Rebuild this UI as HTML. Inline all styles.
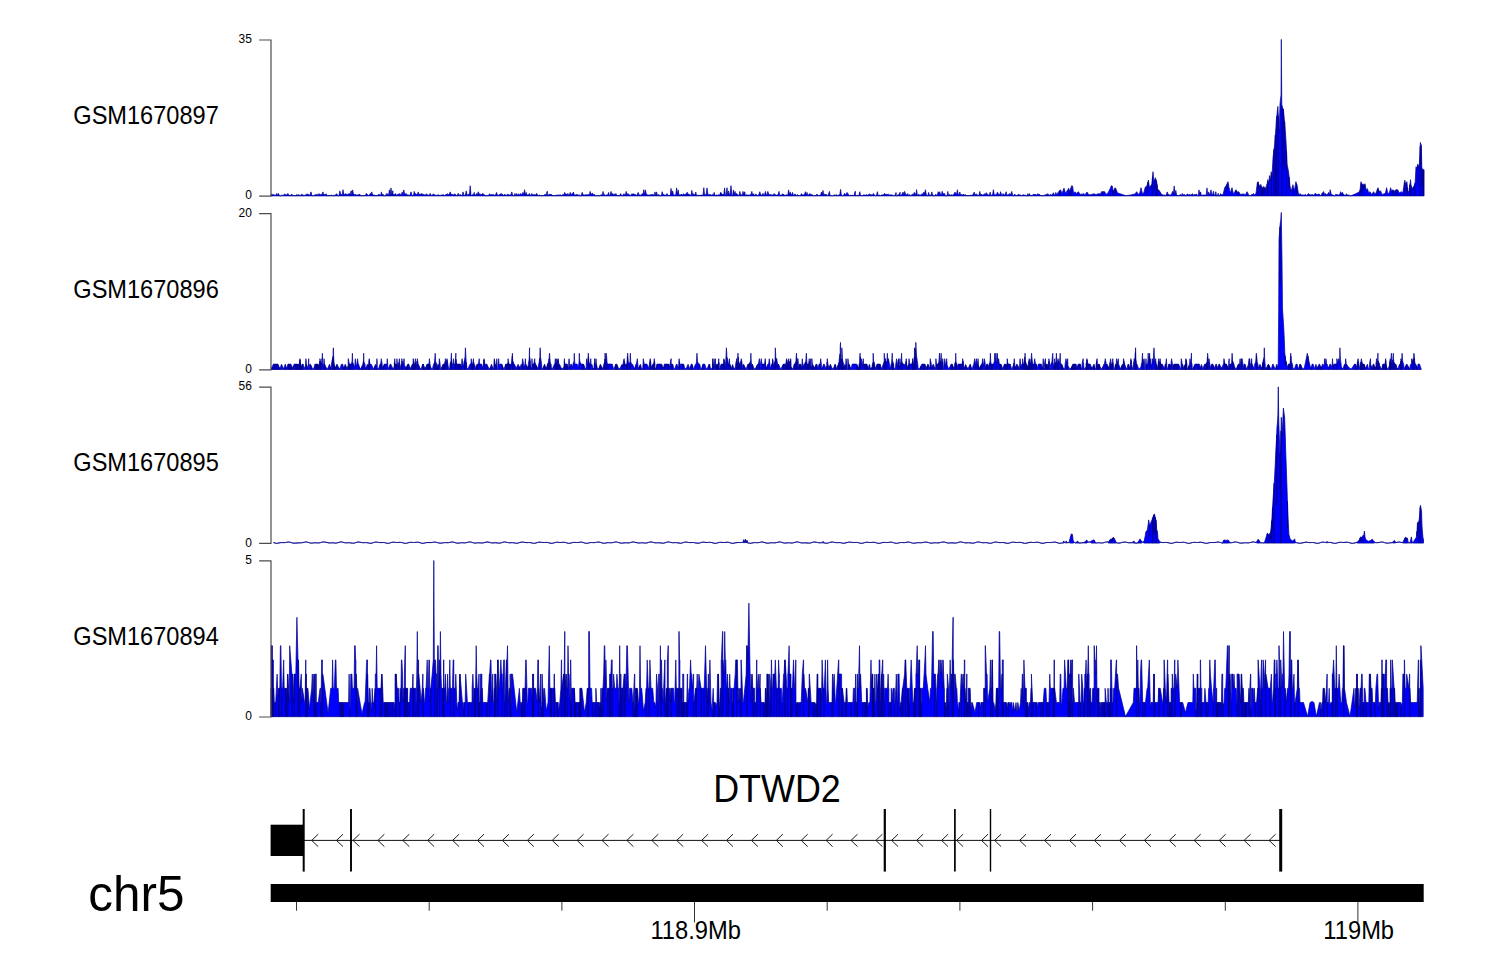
<!DOCTYPE html>
<html><head><meta charset="utf-8"><title>chr5 tracks</title>
<style>
html,body{margin:0;padding:0;background:#fff;}
body{width:1500px;height:980px;overflow:hidden;font-family:"Liberation Sans",sans-serif;}
svg{display:block;}
text{font-family:"Liberation Sans",sans-serif;fill:#000;}
</style></head><body>
<svg width="1500" height="980" viewBox="0 0 1500 980">
<rect width="1500" height="980" fill="#fff"/>
<path d="M271.0,195.9L271.0,194.8L271.8,193.9L272.6,194.8L273.4,194.8L274.2,194.6L275.0,195.9L275.8,195.2L276.6,193.6L277.4,195.9L278.2,193.3L279.0,194.7L279.8,195.9L280.6,195.9L281.4,195.2L282.2,195.1L283.0,195.9L283.8,194.9L284.6,193.8L285.4,194.9L286.2,194.9L287.0,194.4L287.8,193.5L288.6,195.0L289.4,195.0L290.2,195.9L291.8,194.0L292.6,195.6L295.8,195.6L296.6,194.6L297.4,195.2L298.2,194.4L299.0,195.2L299.8,195.2L300.6,195.9L301.4,194.2L302.2,194.9L303.0,194.6L303.8,195.9L304.6,195.2L305.4,195.1L306.2,194.4L307.0,194.1L307.8,194.2L308.6,194.5L309.4,195.2L310.2,194.2L311.0,191.9L311.8,195.0L312.6,195.9L313.4,195.9L314.2,195.1L315.0,195.0L315.8,194.4L316.6,194.8L317.4,194.2L318.2,195.9L319.0,193.5L319.8,195.1L320.6,194.5L321.4,194.4L322.2,193.7L323.0,191.9L323.8,195.9L324.6,194.1L325.4,195.1L326.2,193.7L327.0,195.6L330.2,195.6L331.0,195.3L331.8,194.9L332.6,195.9L333.4,195.9L334.2,194.8L335.0,195.9L335.8,194.5L336.6,193.7L338.2,195.9L339.0,195.9L339.8,190.9L340.6,193.6L341.4,194.4L342.2,194.9L343.0,189.7L343.8,194.3L344.6,194.6L345.4,193.6L346.2,194.6L347.0,194.0L347.8,194.5L348.6,193.9L349.4,193.5L350.2,194.7L351.0,190.9L351.4,190.9L351.4,195.9L351.4,195.2L351.8,195.2L352.6,189.9L353.4,193.6L354.2,194.6L355.0,194.9L355.8,194.3L356.6,195.3L357.4,194.9L358.2,194.7L359.0,194.7L359.8,194.1L360.6,195.9L361.4,195.6L365.4,195.6L366.2,193.4L367.0,194.0L367.8,195.0L368.6,195.9L369.4,194.5L370.2,193.6L371.0,194.1L371.8,191.9L372.6,195.1L373.4,194.9L374.2,194.9L375.0,195.6L377.4,195.6L378.2,194.4L379.0,194.8L379.8,194.6L380.6,195.9L381.4,191.9L382.2,195.3L383.0,194.1L383.8,195.9L384.6,195.9L385.4,194.9L386.2,194.7L387.0,193.3L387.8,195.1L388.6,195.1L389.4,189.9L389.8,189.9L389.8,195.9L389.8,194.7L390.2,194.7L391.0,187.9L391.8,195.0L392.6,190.9L393.0,190.9L393.0,195.9L393.0,194.6L394.2,194.6L395.0,194.3L395.8,193.6L396.6,195.9L397.4,194.7L398.2,194.0L399.0,194.5L399.8,193.4L400.6,194.7L401.4,194.7L402.2,191.9L403.0,195.1L403.8,189.9L404.6,193.8L405.4,194.0L406.2,193.5L407.0,195.2L407.8,194.8L408.6,194.9L409.4,195.9L410.2,194.3L411.0,191.9L411.8,194.6L412.6,195.9L413.4,195.9L414.2,191.4L415.0,193.6L415.8,193.9L416.6,194.3L417.4,194.8L418.2,191.9L419.0,194.8L419.8,193.8L420.6,195.0L421.4,193.4L422.2,194.5L423.0,193.8L423.8,195.1L424.6,194.8L425.4,195.3L426.2,193.8L427.0,194.6L427.8,194.9L428.6,195.2L429.4,194.9L430.2,193.4L431.0,194.9L431.8,195.9L432.6,194.6L433.4,193.9L434.2,195.1L435.0,194.5L435.8,195.9L436.6,195.3L437.4,195.1L438.2,195.0L439.0,194.7L439.8,195.9L440.6,195.2L441.4,195.1L442.2,194.8L443.0,195.0L443.8,194.8L444.6,195.9L445.4,194.7L446.2,194.8L447.0,193.7L448.6,194.6L449.4,194.1L450.2,191.9L451.0,194.4L451.8,194.3L452.6,194.6L453.4,195.2L454.2,193.9L455.0,194.3L455.8,194.7L456.6,195.9L457.4,194.7L458.2,193.3L459.0,195.9L459.8,194.6L460.6,194.7L461.4,195.2L462.2,195.9L463.0,191.9L463.8,194.8L464.6,195.2L465.4,195.1L466.2,190.9L467.0,194.3L467.8,195.9L468.6,193.9L469.4,195.0L470.2,185.7L471.0,194.8L471.8,195.9L472.6,194.5L473.4,194.9L474.2,192.4L475.0,195.2L475.8,195.3L476.6,193.5L477.4,194.5L478.2,191.9L478.6,191.9L478.6,195.9L478.6,194.8L479.0,194.8L479.8,193.5L480.6,194.5L481.4,194.6L482.2,194.0L483.0,193.4L483.8,194.6L484.6,194.9L485.4,195.6L488.6,195.6L489.4,193.7L490.2,194.7L491.0,194.8L491.8,194.4L492.6,194.7L493.4,194.4L494.2,195.9L495.0,194.6L495.8,194.9L496.6,192.4L497.4,195.0L498.2,195.9L499.0,194.5L499.8,194.8L500.6,193.8L501.4,193.7L502.2,194.3L503.0,194.6L503.8,195.9L504.6,194.2L505.4,195.1L506.2,194.7L507.0,195.9L507.8,193.9L508.6,194.8L509.4,195.0L510.2,194.8L511.0,194.7L511.8,191.9L512.6,195.3L513.4,195.9L514.2,194.9L515.0,193.6L515.8,195.9L516.6,193.4L517.4,195.9L518.2,193.9L519.0,194.4L519.8,194.8L520.6,193.6L521.4,194.4L522.2,193.7L523.0,192.4L523.8,194.9L524.6,189.7L525.4,195.2L526.2,192.4L527.0,195.1L527.8,194.9L528.6,194.8L529.4,193.4L530.2,195.1L531.0,195.9L531.8,193.5L532.6,195.0L533.4,194.7L534.2,194.8L535.0,194.6L535.8,195.1L536.6,193.4L537.4,194.4L538.2,195.9L539.0,194.9L539.8,195.2L540.6,195.6L543.8,195.6L544.6,194.6L545.4,194.3L546.2,195.9L547.0,191.4L547.4,191.4L547.4,195.9L547.4,195.1L548.6,195.1L549.4,194.0L551.0,194.8L551.8,194.5L552.6,195.6L555.8,195.6L556.6,195.0L557.4,195.2L558.2,194.7L559.0,195.9L559.8,194.6L560.6,195.0L561.4,195.9L562.2,194.6L563.0,195.2L563.8,194.8L564.6,192.4L565.4,193.9L566.2,194.1L567.0,194.9L567.8,193.4L568.6,195.0L569.4,195.0L570.2,192.4L571.0,194.8L571.8,193.8L572.6,193.8L573.4,192.1L574.2,194.5L575.0,195.3L575.8,194.8L576.6,194.4L577.4,194.6L578.2,195.9L579.0,194.6L579.8,195.9L580.6,195.9L581.4,194.5L582.2,192.4L583.0,195.2L583.8,194.7L584.6,195.1L585.4,194.8L586.2,194.9L587.0,194.4L587.8,194.9L589.4,194.5L590.2,191.4L591.0,194.5L591.8,193.5L592.6,193.3L593.4,194.8L594.2,194.6L595.0,194.9L595.8,195.9L596.6,195.6L599.0,195.6L599.8,195.9L600.6,195.2L601.4,194.6L602.2,195.9L603.0,191.4L603.8,194.8L604.6,194.4L605.4,195.9L606.2,195.1L607.0,194.7L607.8,195.1L608.6,192.4L609.4,195.9L610.2,195.0L611.0,191.4L611.8,195.1L612.6,193.4L613.4,194.8L614.2,193.9L615.0,195.3L615.8,193.5L616.6,194.8L617.4,195.6L619.8,195.6L620.6,193.6L621.4,195.2L622.2,195.9L623.0,195.1L623.8,193.8L624.6,194.4L625.4,194.8L626.2,191.4L627.0,195.3L627.8,193.5L628.6,194.3L629.4,194.7L630.2,195.9L631.0,194.9L631.8,193.8L632.6,194.1L633.4,193.9L634.2,194.3L635.0,194.2L635.8,194.8L636.6,195.9L637.4,194.1L638.2,192.4L639.0,194.9L639.8,195.0L640.6,195.2L641.4,194.9L642.2,193.5L643.0,195.3L643.8,189.7L644.6,194.8L645.4,189.9L646.2,193.5L647.0,194.7L647.8,195.0L648.6,195.0L649.4,194.9L650.2,195.1L651.0,194.6L651.8,194.4L652.6,194.6L653.4,194.6L654.2,195.9L655.0,191.9L655.8,195.9L656.6,191.9L657.4,195.9L658.2,194.5L659.0,195.2L659.8,195.2L660.6,195.9L661.4,195.2L662.2,191.7L663.0,194.7L663.8,194.6L664.6,195.0L665.4,195.3L666.2,194.7L667.0,193.5L667.8,194.8L668.6,195.6L669.4,195.6L670.2,195.2L671.0,188.4L671.8,193.5L672.6,190.9L673.4,194.5L674.2,195.0L675.0,195.2L675.8,194.4L676.6,187.9L677.4,194.2L678.2,189.9L679.0,195.2L679.8,194.8L680.6,195.0L681.4,194.0L682.2,195.2L683.0,194.3L683.8,193.8L684.6,194.8L685.4,194.5L686.2,193.5L687.0,192.4L687.4,192.4L687.4,195.9L687.4,194.1L688.6,194.1L689.4,194.6L690.2,194.8L691.0,195.9L691.8,190.4L692.6,194.4L693.4,193.7L694.2,194.7L695.0,195.0L695.8,192.1L696.6,195.9L697.4,194.9L698.2,195.9L699.0,194.8L699.8,195.9L700.6,195.1L701.4,195.0L702.2,195.3L703.0,195.2L703.8,187.7L704.6,194.9L705.4,194.7L706.2,194.6L707.0,187.9L707.8,193.5L708.6,194.9L709.4,194.5L710.2,194.8L711.0,194.5L711.8,195.3L712.6,194.5L713.4,194.8L714.2,192.4L715.0,195.2L715.8,195.9L716.6,194.8L717.4,195.3L718.2,194.8L719.0,195.0L719.8,195.1L720.6,192.4L721.0,192.4L721.0,195.9L721.0,193.3L721.4,193.3L722.2,194.5L723.8,194.6L724.6,187.9L725.4,195.9L726.2,194.3L727.0,187.7L727.8,195.9L728.6,190.9L729.4,195.2L730.2,193.5L731.0,185.6L731.8,195.3L732.6,195.9L733.4,189.9L734.2,194.5L735.0,191.4L735.8,195.0L736.6,193.4L737.4,194.5L738.2,194.9L739.0,195.9L739.8,191.4L740.6,194.7L741.4,194.5L742.2,195.9L743.0,191.4L743.8,195.0L744.6,191.9L745.0,191.9L745.0,195.9L745.0,195.2L745.4,195.2L746.2,194.5L747.0,195.2L747.8,195.0L748.6,195.1L749.4,195.1L750.2,194.6L751.0,194.7L751.8,191.4L752.6,195.0L753.4,193.7L754.2,194.7L755.0,195.9L755.8,193.9L756.6,194.8L757.4,195.9L758.2,195.0L759.0,194.6L759.8,191.7L760.6,194.6L761.4,195.0L762.2,195.1L763.0,193.3L763.8,195.9L764.6,194.6L765.4,191.4L766.2,195.1L767.0,194.7L767.8,191.4L768.6,193.8L769.4,194.5L770.2,194.8L771.0,194.2L771.8,195.2L772.6,195.1L773.4,194.6L774.2,193.5L775.0,194.9L775.8,194.8L776.6,195.3L777.4,194.7L778.2,194.5L779.0,191.4L779.8,195.9L780.6,194.9L781.4,195.1L782.2,194.3L783.0,193.8L783.8,194.6L784.6,195.2L785.4,195.3L786.2,194.7L787.0,195.1L787.8,195.2L788.6,189.9L789.4,195.2L790.2,191.9L791.0,194.3L791.8,195.0L792.6,192.4L793.4,195.9L794.2,194.6L795.0,194.2L795.8,194.6L796.6,195.9L797.4,194.5L798.2,195.6L800.6,195.6L801.4,193.6L802.2,195.1L803.0,194.8L803.8,194.9L804.6,194.0L805.4,191.7L806.2,195.3L807.0,192.4L807.8,195.9L808.6,194.7L809.4,193.8L810.2,193.9L811.0,194.5L811.8,194.6L812.6,195.0L813.4,195.6L815.8,195.6L816.6,194.4L817.4,194.5L818.2,195.0L819.0,195.9L819.8,195.0L820.6,195.3L821.4,192.1L822.2,194.5L823.0,190.4L823.8,195.2L824.6,194.0L825.4,194.6L826.2,194.4L827.0,195.0L827.8,195.9L828.6,194.0L829.4,191.4L830.2,195.9L831.0,195.1L831.8,195.9L832.6,195.9L833.4,195.3L834.2,194.9L835.0,195.2L835.8,195.1L836.6,194.7L837.4,195.9L838.2,195.0L839.0,194.9L839.8,194.5L840.6,189.4L841.4,195.1L842.2,195.9L843.0,195.9L843.8,194.8L844.6,193.3L845.4,194.7L846.2,194.2L847.0,192.4L847.8,193.4L848.6,194.7L849.4,195.9L850.2,194.9L851.0,195.9L851.8,195.0L852.6,195.0L853.4,195.9L854.2,194.9L855.0,191.4L855.4,191.4L855.4,195.9L855.4,195.1L855.8,195.1L856.6,195.9L857.4,194.9L858.2,195.9L859.0,194.7L859.8,191.7L860.6,195.9L861.4,195.0L862.2,195.9L863.0,195.3L863.8,194.8L865.4,195.3L866.2,194.5L867.0,195.1L867.8,195.1L868.6,194.7L869.4,194.0L870.2,194.5L871.0,194.7L871.8,194.9L872.6,195.1L873.4,193.4L874.2,194.5L875.0,195.9L875.8,195.9L876.6,195.0L877.4,191.7L878.2,195.9L879.0,195.1L879.8,195.1L880.6,195.9L881.4,194.9L882.2,194.9L883.8,194.8L884.6,193.3L885.4,195.0L886.2,194.1L887.0,194.7L888.6,194.2L889.4,194.9L890.2,195.0L891.0,194.6L891.8,195.1L892.6,195.0L893.4,195.9L894.2,195.2L895.0,195.9L895.8,192.7L896.2,192.7L896.2,195.9L896.6,195.9L897.4,195.2L898.2,194.6L899.0,195.2L899.8,192.4L900.2,192.4L900.2,195.9L900.6,195.9L901.4,194.8L902.2,194.0L903.0,192.1L903.8,195.0L904.6,191.4L905.4,193.5L906.2,194.9L907.0,194.7L907.8,193.5L908.6,195.9L909.4,194.7L910.2,195.1L911.0,195.9L911.8,194.5L912.6,194.3L913.4,194.9L914.2,192.4L915.0,193.3L915.8,195.9L916.6,189.6L917.4,195.9L918.2,194.6L919.0,194.3L919.8,195.3L920.6,194.9L921.4,195.0L922.2,193.5L923.0,194.9L923.8,192.1L924.6,194.0L925.4,189.7L926.2,194.2L927.0,195.9L927.8,195.9L928.6,192.4L929.4,195.2L930.2,195.3L931.0,195.2L931.8,191.9L932.6,194.9L933.4,195.1L934.2,195.9L935.0,195.9L935.8,194.1L936.6,195.9L937.4,194.9L938.2,191.7L939.0,193.9L939.8,191.7L940.6,195.2L941.4,194.7L942.2,191.3L943.0,193.4L943.8,193.9L944.6,193.6L945.4,195.9L947.0,195.9L947.8,191.4L948.6,195.9L949.4,194.6L950.2,194.8L951.0,195.9L951.8,194.4L952.6,195.9L953.4,194.6L954.2,193.6L955.0,192.1L955.8,193.6L956.6,194.3L957.4,189.7L958.2,195.1L959.0,194.4L959.8,192.1L960.6,195.0L961.4,194.6L962.2,194.7L963.0,195.0L963.8,194.0L964.6,195.9L965.4,194.6L966.2,195.6L969.4,195.6L970.2,194.9L971.0,195.9L971.8,194.9L972.6,194.8L973.4,194.2L974.2,192.1L975.0,195.2L975.8,193.9L976.6,194.2L977.4,194.7L978.2,195.9L979.0,194.7L979.8,191.4L980.6,195.0L981.4,194.2L982.2,195.0L983.0,195.1L983.8,194.5L984.6,193.7L985.4,194.8L986.2,192.7L987.0,193.6L987.8,194.7L988.6,195.0L989.4,194.8L990.2,192.1L991.0,195.9L991.8,194.9L992.6,194.8L993.4,189.7L994.2,194.4L995.0,195.0L995.8,194.4L996.6,194.5L997.4,192.1L998.2,193.9L999.0,194.5L999.8,194.5L1000.6,191.7L1001.4,194.4L1002.2,195.9L1003.0,193.6L1003.8,194.6L1004.6,194.8L1005.4,194.2L1006.2,191.7L1007.0,195.9L1007.8,194.6L1008.6,195.1L1009.4,193.5L1010.2,194.8L1011.0,193.5L1011.8,191.4L1012.6,195.2L1013.4,195.9L1014.2,194.5L1015.0,194.3L1015.8,195.6L1017.4,195.6L1018.2,194.2L1019.0,194.5L1019.8,195.1L1020.6,194.9L1021.4,195.9L1022.2,195.0L1023.0,195.0L1023.8,194.7L1024.6,195.2L1025.4,194.9L1026.2,195.9L1027.0,195.9L1027.8,193.7L1028.6,195.1L1029.4,193.6L1030.2,195.6L1032.6,195.6L1033.4,194.0L1034.2,194.8L1035.0,194.0L1035.8,195.1L1036.6,195.0L1037.4,194.1L1038.2,193.7L1039.0,194.5L1039.8,194.6L1040.6,195.6L1043.8,195.6L1044.6,195.1L1045.4,195.2L1046.2,194.1L1047.0,195.0L1047.8,193.5L1048.6,194.8L1049.4,195.9L1050.2,194.3L1051.0,195.0L1051.8,194.7L1052.6,194.5L1053.4,192.7L1054.2,194.9L1055.0,194.9L1055.8,192.4L1056.6,194.4L1057.0,194.4L1058.5,191.9L1059.7,190.5L1059.8,195.9L1059.8,190.5L1060.5,189.7L1062.0,193.4L1064.0,188.1L1065.5,193.4L1067.0,190.9L1068.7,188.3L1069.6,190.8L1069.6,195.9L1069.6,190.8L1070.0,191.9L1071.0,187.8L1071.1,195.9L1071.1,187.8L1071.6,185.7L1072.6,186.1L1073.6,193.4L1075.0,191.7L1076.5,193.4L1078.5,191.7L1080.0,194.4L1080.6,194.3L1081.4,194.2L1082.2,193.8L1083.0,194.7L1083.8,193.3L1084.6,195.3L1085.0,194.9L1087.0,192.1L1089.0,194.9L1092.0,194.4L1094.0,193.7L1096.0,194.7L1098.0,193.7L1100.5,193.9L1101.5,191.7L1103.0,191.7L1103.0,195.9L1103.1,191.7L1104.7,191.7L1106.0,194.4L1108.0,192.9L1110.0,188.9L1111.3,185.7L1112.3,186.1L1112.9,189.7L1112.9,195.9L1112.9,189.7L1113.3,191.9L1113.8,190.6L1113.8,192.7L1113.9,190.6L1115.0,187.7L1115.4,188.2L1115.4,195.9L1115.5,188.2L1116.0,188.9L1117.5,192.9L1121.0,194.1L1126.0,195.7L1131.0,194.9L1135.0,193.9L1136.7,191.7L1138.2,194.4L1139.8,192.9L1141.0,187.7L1142.4,193.4L1143.8,192.9L1145.0,187.9L1146.2,186.4L1146.2,195.9L1146.3,186.4L1147.0,185.4L1147.9,182.1L1147.9,191.1L1147.9,182.1L1148.4,180.1L1149.3,186.4L1150.4,186.9L1151.2,185.2L1151.2,189.5L1151.2,185.2L1151.8,183.9L1152.5,176.7L1152.5,195.9L1152.5,176.7L1153.0,171.7L1153.9,181.9L1154.5,180.1L1154.5,190.4L1154.5,180.1L1155.3,177.7L1156.2,180.3L1156.2,195.9L1156.3,180.3L1156.7,181.7L1157.0,184.6L1157.0,195.9L1157.1,184.6L1157.6,189.4L1158.2,189.8L1158.2,192.2L1158.3,189.8L1159.2,190.4L1162.0,195.1L1163.0,194.5L1163.8,195.9L1164.6,194.8L1165.4,195.0L1166.2,195.9L1167.0,192.1L1167.4,192.1L1167.4,195.9L1167.4,194.3L1167.8,194.3L1168.6,194.2L1169.4,194.8L1170.2,195.2L1171.0,194.8L1171.8,193.4L1172.6,191.4L1173.4,193.6L1174.2,185.9L1175.0,195.1L1175.8,190.4L1176.6,195.1L1177.4,195.1L1178.2,195.9L1179.0,195.1L1179.8,195.1L1180.6,194.5L1181.4,195.9L1182.2,193.5L1183.0,194.8L1183.8,194.8L1184.6,194.5L1185.4,195.1L1186.2,195.9L1187.0,194.0L1187.8,194.1L1188.6,195.0L1189.4,194.5L1191.0,195.1L1191.8,194.3L1192.6,193.7L1193.4,195.9L1194.2,194.3L1195.0,195.2L1195.8,194.1L1196.6,194.3L1197.4,195.2L1198.2,195.9L1199.0,189.9L1199.8,194.5L1200.6,191.9L1201.4,195.9L1202.2,195.1L1203.0,195.0L1203.8,195.1L1204.6,194.9L1205.4,195.2L1206.2,194.8L1207.0,187.9L1207.8,195.9L1208.6,191.9L1209.4,194.5L1210.2,193.4L1211.0,189.9L1211.8,194.4L1212.6,194.8L1213.4,191.4L1213.8,191.4L1213.8,195.9L1213.8,194.5L1214.2,194.5L1215.0,195.9L1215.8,191.7L1216.6,195.9L1217.4,195.9L1218.2,193.3L1219.0,195.9L1219.8,195.9L1220.6,193.6L1221.4,194.8L1222.2,194.6L1223.0,194.9L1224.7,187.7L1225.5,186.5L1225.6,192.6L1225.6,186.5L1226.4,185.4L1227.1,183.8L1227.1,188.6L1227.1,183.8L1228.0,181.7L1229.0,187.4L1230.3,192.9L1232.0,187.7L1233.4,193.9L1234.8,191.9L1235.5,190.6L1235.5,192.7L1235.5,190.6L1236.0,189.7L1236.8,191.3L1236.8,194.3L1236.8,191.3L1237.4,192.4L1238.3,191.9L1238.3,195.9L1238.3,191.9L1238.7,191.7L1240.5,194.4L1243.5,193.9L1245.5,194.7L1247.0,191.7L1248.5,194.4L1249.4,195.9L1250.2,195.0L1251.0,195.9L1251.8,194.2L1252.6,194.5L1253.4,193.4L1254.0,195.1L1256.0,193.4L1257.3,182.9L1257.8,182.1L1257.9,195.9L1257.9,182.1L1258.2,181.7L1258.6,184.0L1258.6,188.8L1258.7,184.0L1259.2,186.9L1260.1,185.5L1260.1,192.3L1260.1,185.5L1260.8,184.4L1261.1,185.8L1261.2,195.9L1261.2,185.8L1262.0,188.9L1262.7,187.6L1262.7,195.9L1262.7,187.6L1263.4,186.4L1263.7,187.7L1263.7,195.9L1263.8,187.7L1264.2,189.4L1264.6,188.0L1264.6,193.1L1264.7,188.0L1265.0,186.7L1266.2,189.9L1267.1,184.1L1267.1,195.9L1267.1,184.1L1267.8,179.7L1268.1,181.4L1268.1,195.9L1268.1,181.4L1268.6,183.9L1269.5,175.6L1270.3,180.9L1271.2,171.7L1271.5,173.8L1271.5,195.9L1271.6,173.8L1272.0,176.9L1273.0,157.9L1274.0,149.1L1274.1,195.9L1274.1,149.1L1274.7,143.9L1275.3,135.0L1275.3,195.9L1275.4,135.0L1276.4,119.9L1276.7,116.4L1276.7,195.9L1276.8,116.4L1277.4,109.9L1277.9,106.4L1278.3,115.3L1278.3,195.9L1278.3,115.3L1278.6,121.9L1279.2,130.4L1280.0,103.9L1280.5,98.9L1281.0,94.9L1281.3,39.4L1281.8,103.9L1282.0,105.9L1282.0,195.9L1282.0,105.9L1282.3,108.4L1283.0,108.7L1283.0,165.4L1283.0,108.7L1283.4,108.9L1284.2,117.9L1284.5,121.3L1284.6,169.8L1284.6,121.3L1284.8,123.4L1286.0,140.9L1286.5,151.1L1286.5,195.9L1286.5,151.1L1287.2,164.9L1288.6,171.9L1289.1,176.9L1289.1,189.2L1289.1,176.9L1290.0,185.9L1290.8,189.5L1290.8,192.1L1290.8,189.5L1291.2,191.4L1292.9,184.7L1293.7,188.4L1293.7,195.9L1293.7,188.4L1294.3,191.4L1295.9,181.7L1296.6,184.0L1296.6,195.9L1296.6,184.0L1297.2,185.9L1298.3,192.9L1299.5,194.4L1300.6,193.8L1301.4,195.3L1302.2,195.1L1303.0,194.7L1303.8,195.2L1304.6,194.9L1305.4,194.4L1306.2,194.9L1307.0,195.9L1307.8,194.1L1308.6,193.5L1309.4,194.5L1310.2,194.9L1311.0,194.4L1311.8,194.9L1312.6,194.5L1313.4,195.0L1314.2,195.1L1315.0,193.5L1315.8,193.4L1316.6,194.6L1317.4,194.6L1318.2,194.2L1319.0,194.1L1319.8,194.5L1320.6,195.9L1321.4,195.0L1322.2,192.7L1323.0,193.4L1323.4,193.4L1323.4,195.9L1323.4,191.7L1323.8,191.7L1324.6,195.2L1325.4,193.4L1326.2,195.1L1327.0,194.6L1327.8,193.7L1328.6,192.4L1329.4,195.2L1330.2,189.7L1331.0,193.4L1331.8,194.5L1332.6,194.9L1333.4,195.0L1334.2,195.9L1335.0,195.9L1335.8,194.1L1336.6,194.6L1338.2,195.1L1339.0,194.7L1339.8,194.5L1340.6,191.7L1341.4,194.1L1342.2,192.4L1342.6,192.4L1342.6,195.9L1342.6,193.5L1343.0,193.5L1343.8,195.0L1344.6,194.9L1345.4,195.9L1346.2,193.8L1347.0,194.6L1347.8,195.1L1348.6,195.1L1349.4,195.2L1350.2,195.9L1351.0,195.7L1355.0,194.1L1359.7,191.7L1359.9,190.1L1359.9,195.9L1360.0,190.1L1360.4,186.9L1361.0,181.7L1361.3,183.1L1361.3,191.4L1361.4,183.1L1361.9,185.4L1362.3,184.8L1362.3,195.9L1362.3,184.8L1363.0,183.7L1363.4,184.7L1363.4,189.2L1363.5,184.7L1364.0,185.9L1364.5,184.7L1364.5,189.2L1364.6,184.7L1365.0,183.7L1366.2,189.9L1367.5,188.7L1368.6,192.9L1370.0,191.7L1371.6,194.4L1373.6,191.7L1375.0,194.4L1376.5,191.9L1377.4,189.2L1377.4,195.9L1377.5,189.2L1378.0,187.7L1378.5,189.5L1378.5,192.0L1378.6,189.5L1379.3,191.9L1380.5,190.7L1382.0,194.4L1384.0,193.9L1385.5,192.9L1386.6,187.7L1387.8,193.4L1389.4,192.9L1390.6,187.7L1391.7,191.4L1392.4,190.3L1392.4,195.9L1392.4,190.3L1392.8,189.7L1393.5,190.5L1393.5,192.6L1393.5,190.5L1394.3,191.4L1395.1,190.5L1395.1,195.9L1395.1,190.5L1395.8,189.7L1397.0,189.8L1397.0,195.9L1397.0,189.8L1397.8,189.9L1399.3,192.9L1401.3,191.7L1402.8,192.9L1403.8,186.9L1404.4,182.5L1404.4,195.9L1404.5,182.5L1404.8,180.1L1405.8,184.9L1406.4,183.0L1406.4,191.4L1406.5,183.0L1406.9,181.7L1407.5,187.7L1407.5,195.9L1407.6,187.7L1407.8,190.4L1409.0,191.9L1409.9,184.6L1409.9,195.9L1409.9,184.6L1410.5,179.7L1411.1,185.7L1411.1,195.9L1411.1,185.7L1411.4,188.4L1412.6,187.9L1413.6,186.5L1413.7,190.3L1413.7,186.5L1414.3,185.7L1414.8,183.6L1414.8,195.9L1414.8,183.6L1415.2,181.9L1416.0,166.7L1416.9,167.9L1417.8,164.1L1418.0,165.2L1418.0,185.1L1418.1,165.2L1418.5,167.4L1419.2,165.7L1419.8,155.9L1420.2,146.7L1420.2,195.9L1420.2,146.7L1420.4,142.4L1420.9,144.6L1421.0,165.1L1421.0,144.6L1421.3,145.9L1421.8,165.9L1422.0,168.4L1422.0,186.3L1422.0,168.4L1422.2,170.4L1422.9,169.9L1422.9,195.9L1422.9,169.9L1423.5,169.4L1423.7,169.6L1423.7,195.9L1423.7,169.6L1423.9,169.9L1423.9,195.9 Z" fill="#0000ff" stroke="#00008b" stroke-width="0.7" stroke-linejoin="miter" stroke-miterlimit="2"/>
<path d="M259.1,40.0 H271 V196.2 H259.1" fill="none" stroke="#4d4d4d" stroke-width="1.2"/>
<text transform="translate(251.90,43.30) scale(1,1.060)" font-size="12" text-anchor="end">35</text>
<text transform="translate(251.90,198.75) scale(1,1.060)" font-size="12" text-anchor="end">0</text>
<text transform="translate(73.30,123.90) scale(1,1.060)" font-size="23.6">GSM1670897</text>
<path d="M271.0,369.5L271.0,368.4L271.3,368.4L271.5,368.1L271.8,367.5L271.9,367.5L272.0,369.5L272.0,366.9L272.2,366.9L272.2,369.5L272.3,366.3L272.4,366.3L273.2,364.4L273.5,364.1L274.4,364.1L274.4,369.5L274.5,364.1L274.7,364.1L274.7,369.5L274.8,364.1L276.3,364.1L276.4,369.5L276.4,364.1L277.6,364.1L278.0,364.1L278.0,369.5L278.1,364.8L278.1,364.8L279.0,366.7L279.1,366.7L279.1,369.5L279.2,367.3L279.2,367.3L279.5,368.0L279.8,368.4L280.1,368.3L281.4,364.4L281.7,364.5L283.1,367.9L283.4,368.4L283.6,368.4L283.9,368.0L284.2,367.2L284.3,367.2L284.3,369.5L284.4,366.4L284.5,366.4L285.0,364.8L285.3,364.1L286.1,366.7L286.2,366.7L286.3,369.5L286.3,367.6L286.4,367.6L286.7,368.4L287.8,364.5L288.0,364.1L289.0,364.1L289.0,369.5L289.1,364.1L289.2,364.1L289.3,369.5L289.3,364.1L290.9,364.1L290.9,369.5L291.0,364.7L291.1,364.7L291.3,365.7L291.4,365.7L291.5,369.5L291.5,366.7L291.6,366.7L291.9,367.8L292.2,368.2L293.0,366.5L293.1,366.5L293.1,369.5L293.2,365.9L293.3,365.9L294.1,364.2L294.4,364.1L295.6,364.1L295.6,369.5L295.7,364.1L296.1,364.1L296.2,369.5L296.2,364.1L297.2,364.1L297.3,369.5L297.3,364.1L297.5,364.1L297.5,369.5L297.6,364.1L297.8,364.1L297.8,369.5L297.9,364.1L298.5,364.1L298.8,364.4L298.9,364.4L298.9,369.5L299.0,365.2L299.0,365.2L299.3,364.4L299.6,362.1L299.9,358.7L300.0,358.7L300.0,369.5L300.1,359.9L300.2,359.9L300.3,369.5L300.3,362.3L300.5,362.3L300.6,369.5L300.6,364.6L300.7,364.6L301.0,367.2L301.1,367.2L301.1,369.5L301.2,366.5L301.3,366.5L301.4,369.5L301.4,365.8L301.5,365.8L302.1,364.4L302.3,364.1L302.4,364.1L302.5,369.5L302.5,364.1L303.2,364.1L303.4,365.1L304.0,367.4L304.3,368.4L305.4,366.0L305.6,363.3L305.9,358.7L306.2,361.3L306.3,361.3L306.3,369.5L306.4,364.5L306.5,364.5L308.1,368.3L308.4,362.6L308.7,358.7L308.9,363.6L309.2,366.5L309.8,364.4L310.0,364.1L310.3,364.1L310.6,364.6L310.9,365.1L311.0,365.1L311.0,369.5L311.1,365.7L311.1,365.7L312.2,367.9L312.5,368.4L313.6,368.4L313.9,368.1L314.7,365.1L315.0,364.1L315.4,364.1L315.4,369.5L315.5,364.1L316.5,364.1L316.5,369.5L316.6,364.1L317.0,364.1L317.1,369.5L317.1,364.1L317.8,364.1L317.9,369.5L317.9,364.2L318.1,364.2L318.2,369.5L318.2,365.2L318.3,365.2L319.1,368.3L319.4,363.8L319.7,361.4L319.8,361.4L319.8,369.5L319.9,358.7L319.9,358.7L320.2,360.0L320.3,360.0L320.4,369.5L320.4,361.6L320.5,361.6L320.8,363.3L320.9,363.3L320.9,369.5L321.0,363.6L321.0,363.6L321.6,362.1L321.9,358.7L322.1,359.6L322.4,353.2L322.7,362.9L323.0,363.8L323.2,367.6L323.5,366.4L323.8,362.6L324.1,358.7L324.3,361.6L324.4,361.6L324.5,369.5L324.5,364.0L324.7,364.0L324.8,369.5L324.8,364.9L324.9,364.9L326.0,367.3L326.1,367.3L326.1,369.5L326.2,367.9L326.3,367.9L326.5,368.4L327.6,368.4L327.9,367.9L329.3,364.6L329.6,364.2L330.1,366.1L330.2,366.1L330.3,369.5L330.3,367.0L330.5,367.0L330.5,369.5L330.6,367.9L330.7,367.9L330.9,368.4L331.2,368.4L331.5,363.7L332.3,359.5L332.4,359.5L332.5,369.5L332.5,358.1L332.6,358.1L332.9,356.5L333.0,356.5L333.0,369.5L333.1,351.4L333.1,351.4L333.4,347.8L333.7,357.4L334.0,361.8L334.2,363.2L334.3,363.2L334.4,369.5L334.4,365.1L334.5,365.1L334.8,365.9L334.9,365.9L334.9,369.5L335.0,366.7L335.2,366.7L335.2,369.5L335.3,367.5L335.3,367.5L335.6,368.3L335.9,367.6L336.7,364.7L336.8,364.7L336.9,369.5L336.9,364.3L337.0,364.3L338.4,367.1L338.5,367.1L338.5,369.5L338.6,367.6L338.6,367.6L338.9,368.2L339.2,368.4L339.7,368.4L340.0,368.2L341.4,364.5L341.7,364.1L342.5,364.1L342.8,364.7L343.3,366.5L343.4,366.5L343.5,369.5L343.5,367.3L343.6,367.3L343.9,368.2L344.1,368.4L344.4,367.6L344.7,366.4L344.8,366.4L344.8,369.5L344.9,365.2L345.1,365.2L345.1,369.5L345.2,364.2L345.2,364.2L345.5,364.9L345.6,364.9L345.7,369.5L345.7,365.6L345.8,365.6L346.9,368.4L347.2,368.4L347.4,368.2L348.0,366.3L348.1,366.3L348.1,369.5L348.2,358.7L348.3,358.7L348.5,359.6L349.1,362.8L349.2,362.8L349.2,369.5L349.3,364.1L349.5,364.1L349.5,369.5L349.6,364.1L351.1,364.1L351.2,369.5L351.2,363.7L351.3,363.7L351.8,362.2L352.1,360.2L352.4,353.2L352.7,361.9L352.9,362.8L353.0,362.8L353.1,369.5L353.1,363.6L353.2,363.6L353.5,364.5L353.8,365.4L354.6,367.1L354.9,364.3L355.1,360.6L355.4,358.7L355.7,364.0L356.0,366.1L356.5,364.3L356.8,364.0L357.3,360.7L357.6,358.7L357.9,361.3L358.2,364.1L358.4,364.1L358.7,364.5L359.3,366.4L359.4,366.4L359.4,369.5L359.5,367.4L359.6,367.4L359.7,369.5L359.7,368.4L360.9,368.4L361.2,368.0L361.5,367.4L361.6,367.4L361.6,369.5L361.7,366.8L361.8,366.8L361.9,369.5L361.9,366.1L362.0,366.1L362.6,364.9L362.8,363.8L363.1,362.9L363.4,360.8L363.5,360.8L363.5,369.5L363.6,353.2L363.7,353.2L363.9,361.3L365.0,364.4L365.1,364.4L365.2,369.5L365.2,368.1L365.6,368.1L366.1,367.0L366.2,367.0L366.3,369.5L366.3,366.4L366.4,366.4L367.5,364.2L367.8,364.9L368.1,365.9L368.2,365.9L368.2,369.5L368.3,366.9L368.4,366.9L368.5,369.5L368.5,364.4L368.7,364.4L368.8,369.5L368.8,362.1L368.9,362.1L369.2,358.7L369.3,358.7L369.3,369.5L369.4,359.9L369.5,359.9L369.6,369.5L369.6,362.3L369.7,362.3L370.0,364.6L370.3,365.7L370.5,364.6L370.8,364.1L371.1,364.1L371.4,364.5L373.3,368.4L373.8,368.4L374.1,368.2L374.4,367.3L374.5,367.3L374.5,369.5L374.6,366.4L374.8,366.4L374.8,369.5L374.9,365.5L374.9,365.5L375.2,364.6L375.5,364.4L376.6,366.8L376.9,358.7L377.1,361.6L377.2,361.6L377.3,369.5L377.3,368.4L378.5,368.4L378.8,368.1L379.9,364.4L380.2,364.1L380.5,364.1L380.6,369.5L380.6,363.6L380.7,363.6L381.0,361.2L381.3,358.7L381.5,360.2L382.1,363.4L382.4,367.9L383.2,366.2L383.3,366.2L383.3,369.5L383.4,365.7L383.5,365.7L384.3,364.1L385.2,364.1L385.3,369.5L385.3,364.1L386.2,364.1L386.5,364.5L386.8,365.1L387.0,362.0L387.3,358.7L387.6,362.6L387.9,367.4L388.1,367.9L388.4,368.3L390.1,364.5L390.3,364.1L390.4,364.1L390.5,369.5L390.5,364.1L390.6,364.1L390.9,364.4L392.3,367.4L392.4,367.4L392.4,369.5L392.5,368.0L392.5,368.0L392.8,368.4L393.6,368.4L394.2,366.0L394.5,361.6L394.6,361.6L394.6,369.5L394.7,358.7L394.7,358.7L395.0,364.1L395.7,364.1L395.7,369.5L395.8,364.1L396.2,364.1L396.3,369.5L396.3,364.1L396.8,364.1L396.8,369.5L396.9,358.7L396.9,358.7L397.2,361.6L397.5,364.1L397.8,364.8L398.3,367.3L398.6,364.0L398.9,362.4L399.0,362.4L399.0,369.5L399.1,360.7L399.1,360.7L399.4,358.7L399.7,362.6L400.0,368.4L400.2,367.9L401.1,364.6L401.3,364.1L401.7,364.1L401.8,369.5L401.8,358.7L402.0,358.7L402.0,369.5L402.1,361.0L402.2,361.0L402.4,364.1L403.3,364.1L403.5,362.5L403.8,360.2L404.1,358.7L404.4,364.5L405.2,366.7L405.3,366.7L405.3,369.5L405.4,367.5L405.5,367.5L405.7,368.2L406.0,368.0L406.3,367.4L406.4,367.4L406.4,369.5L406.5,366.9L406.6,366.9L406.8,366.3L406.9,366.3L407.0,369.5L407.0,365.7L407.1,365.7L407.4,365.1L407.5,365.1L407.5,369.5L407.6,364.5L407.8,364.5L407.8,369.5L407.9,364.1L408.8,364.1L409.0,364.7L409.3,365.9L409.4,365.9L409.5,369.5L409.5,367.0L409.6,367.0L409.9,368.2L410.1,368.4L410.4,368.4L410.7,367.9L411.2,366.7L411.3,366.7L411.4,369.5L411.4,366.1L411.5,366.1L412.3,364.3L412.6,364.1L413.0,364.1L413.0,369.5L413.1,358.7L413.2,358.7L413.4,359.6L413.5,359.6L413.6,369.5L413.6,361.2L413.7,361.2L414.0,362.8L414.1,362.8L414.1,369.5L414.2,364.5L414.3,364.5L414.5,368.4L414.8,368.4L415.1,362.6L415.2,362.6L415.2,369.5L415.3,358.7L415.4,358.7L415.6,367.0L416.2,364.8L416.7,363.3L417.0,361.0L417.1,361.0L417.2,369.5L417.2,358.7L417.3,358.7L418.1,363.6L418.4,364.1L418.7,364.9L418.8,364.9L418.8,369.5L418.9,365.7L418.9,365.7L419.8,368.1L420.0,368.4L421.1,368.4L421.4,368.0L422.8,364.1L422.9,364.1L422.9,369.5L423.0,364.1L423.2,364.1L423.2,369.5L423.3,364.2L423.3,364.2L424.2,366.6L424.3,366.6L424.3,369.5L424.4,367.4L424.4,367.4L424.7,368.2L425.0,368.4L425.3,368.4L425.8,367.2L425.9,367.2L426.0,369.5L426.0,366.6L426.1,366.6L426.9,364.8L427.0,364.8L427.1,369.5L427.1,364.2L427.3,364.2L427.3,369.5L427.4,364.1L428.7,364.1L428.7,369.5L428.8,364.1L428.8,364.1L429.1,362.1L429.4,358.7L429.7,361.9L429.8,361.9L429.8,369.5L429.9,364.2L429.9,364.2L430.2,366.1L431.3,368.3L431.6,368.4L432.4,368.4L432.7,367.6L433.2,365.8L433.5,364.5L434.3,362.9L434.4,362.9L434.5,369.5L434.5,360.9L434.6,360.9L434.9,357.8L435.2,353.2L435.4,357.0L435.7,361.8L435.8,361.8L435.9,369.5L435.9,362.6L436.0,362.6L436.5,364.1L436.6,364.1L436.7,369.5L436.7,367.4L436.9,367.4L437.0,369.5L437.0,366.6L437.2,366.6L437.2,369.5L437.3,365.8L437.4,365.8L437.9,364.3L438.2,364.5L438.5,365.2L438.6,365.2L438.6,369.5L438.7,365.8L438.7,365.8L439.0,364.1L439.3,358.7L440.1,363.6L440.4,368.4L441.2,368.4L441.5,367.8L441.8,367.2L441.9,367.2L441.9,369.5L442.0,366.5L442.0,366.5L442.3,365.8L442.4,365.8L442.5,369.5L442.5,365.1L442.6,365.1L442.9,364.5L443.1,364.1L443.5,364.1L443.6,369.5L443.6,364.1L444.3,364.1L444.4,369.5L444.4,364.1L444.8,364.1L445.1,361.6L445.2,361.6L445.2,369.5L445.3,358.7L445.3,358.7L445.6,363.0L445.9,364.1L446.2,363.6L446.7,360.3L446.8,360.3L446.9,369.5L446.9,358.7L447.0,358.7L447.8,363.6L448.1,366.0L448.6,367.8L448.9,368.4L449.7,368.4L450.0,364.0L450.8,361.7L450.9,361.7L451.0,369.5L451.0,357.7L451.1,357.7L451.4,353.2L451.5,353.2L451.5,369.5L451.6,359.3L451.7,359.3L451.9,362.7L452.5,364.0L452.8,364.5L453.0,365.1L453.3,362.1L453.6,358.7L453.9,367.0L454.4,368.2L454.7,364.0L454.8,364.0L454.8,369.5L454.9,363.1L455.0,363.1L455.2,362.2L455.5,359.9L455.8,353.2L455.9,353.2L455.9,369.5L456.0,359.3L456.1,359.3L456.3,362.4L457.2,364.3L457.4,364.1L457.8,364.1L457.9,369.5L457.9,364.1L458.4,364.1L458.4,369.5L458.5,364.1L458.6,364.1L458.7,369.5L458.7,364.1L460.3,364.1L460.3,369.5L460.4,364.4L460.5,364.4L460.7,365.5L460.8,365.5L460.9,369.5L460.9,366.5L461.0,366.5L461.3,367.6L461.6,364.3L461.8,360.6L462.1,358.7L462.4,361.0L462.9,364.3L463.2,366.8L463.5,366.2L463.8,363.6L464.3,360.8L464.4,360.8L464.5,369.5L464.5,359.4L464.6,359.4L464.9,358.0L465.1,356.2L465.4,347.8L465.7,352.6L466.0,359.2L466.1,359.2L466.1,369.5L466.2,362.0L466.2,362.0L466.5,363.4L466.8,368.4L468.2,368.4L468.4,367.9L469.8,364.4L470.1,364.1L470.9,364.1L471.2,358.7L471.5,359.7L471.7,361.3L471.8,361.3L471.9,369.5L471.9,363.0L472.1,363.0L472.2,369.5L472.2,364.1L472.7,364.1L472.7,369.5L472.8,364.1L472.9,364.1L473.0,369.5L473.0,362.1L473.1,362.1L473.4,358.7L473.5,358.7L473.5,369.5L473.6,361.9L473.7,361.9L473.9,364.1L474.2,364.1L474.5,364.2L475.6,367.7L475.9,368.3L476.4,366.5L476.5,366.5L476.6,369.5L476.6,365.6L476.7,365.6L477.0,364.8L477.1,364.8L477.1,369.5L477.2,364.1L477.3,364.1L477.4,369.5L477.4,364.1L477.6,364.1L477.7,369.5L477.7,364.1L478.3,364.1L478.6,362.7L478.9,361.0L479.2,358.7L479.4,361.6L479.7,364.1L480.1,364.1L480.1,369.5L480.2,364.1L481.6,364.1L481.9,364.8L482.5,366.5L482.6,366.5L482.6,369.5L482.7,367.3L482.7,367.3L483.0,368.1L483.3,368.4L483.6,362.3L483.8,359.9L483.9,359.9L484.0,369.5L484.0,358.7L484.1,358.7L484.4,361.0L484.9,364.3L485.2,365.1L485.5,364.5L485.8,364.1L486.7,364.1L486.7,369.5L486.8,364.4L486.9,364.4L488.8,368.3L489.1,368.4L489.9,368.4L490.2,367.8L490.4,367.0L490.5,367.0L490.6,369.5L490.6,366.3L490.7,366.3L491.3,364.8L491.5,364.1L491.8,365.2L491.9,365.2L492.0,369.5L492.0,366.2L492.1,366.2L492.6,368.2L492.9,368.4L493.7,368.4L494.0,364.1L494.3,358.7L494.4,358.7L494.4,369.5L494.5,360.3L494.6,360.3L495.1,363.6L495.4,364.6L495.7,364.4L495.9,365.0L496.0,365.0L496.1,369.5L496.1,365.7L496.2,365.7L496.5,362.6L496.8,358.7L497.0,363.3L497.3,368.3L497.6,368.4L497.9,368.4L498.1,363.3L498.7,358.7L499.0,364.1L499.2,365.4L499.8,364.2L500.1,364.1L501.8,364.1L501.9,369.5L501.9,364.5L502.0,364.5L502.3,365.2L502.4,365.2L502.4,369.5L502.5,366.0L502.6,366.0L502.7,369.5L502.7,366.8L502.8,366.8L503.4,368.3L503.6,368.4L503.9,368.4L504.2,368.4L505.6,364.7L505.8,364.1L505.9,364.1L506.0,369.5L506.0,364.1L506.2,364.1L506.3,369.5L506.3,364.1L507.5,364.1L507.8,363.1L507.9,363.1L507.9,369.5L508.0,358.7L508.0,358.7L508.3,360.6L508.4,360.6L508.5,369.5L508.5,362.2L508.7,362.2L508.7,369.5L508.8,363.9L509.0,363.9L509.0,369.5L509.1,364.1L509.8,364.1L509.8,369.5L509.9,364.1L510.2,364.1L510.5,364.7L510.8,365.3L511.1,364.2L511.3,363.6L511.6,362.1L512.2,355.8L512.3,355.8L512.3,369.5L512.4,353.2L512.4,353.2L512.7,360.8L512.8,360.8L512.9,369.5L512.9,361.5L513.0,361.5L513.8,363.8L514.1,364.1L514.4,364.1L514.6,364.5L515.5,366.6L515.6,366.6L515.6,369.5L515.7,367.3L515.7,367.3L516.0,368.0L516.3,368.2L517.9,364.4L518.2,364.5L518.5,365.2L518.6,365.2L518.6,369.5L518.7,365.9L518.9,365.9L518.9,369.5L519.0,366.5L519.1,366.5L519.2,369.5L519.2,367.2L519.3,367.2L519.6,367.9L519.9,368.2L521.2,364.2L521.5,364.9L521.8,366.0L521.9,366.0L521.9,369.5L522.0,364.0L522.1,364.0L522.3,361.6L522.6,358.7L522.9,359.9L523.4,363.1L523.7,366.7L523.8,366.7L523.9,369.5L523.9,366.2L524.0,366.2L524.8,364.5L525.1,362.6L525.4,358.7L525.6,364.1L525.9,364.1L526.2,364.7L526.3,364.7L526.3,369.5L526.4,365.7L526.5,365.7L527.0,367.8L527.3,368.1L527.6,367.3L527.7,367.3L527.7,369.5L527.8,366.5L527.8,366.5L528.1,365.7L528.2,365.7L528.3,369.5L528.3,363.7L528.4,363.7L529.2,358.7L529.5,347.8L529.6,347.8L529.6,369.5L529.7,357.6L529.8,357.6L530.0,359.6L530.6,363.3L530.9,367.0L531.0,367.0L531.0,369.5L531.1,367.6L531.1,367.6L531.4,368.3L531.7,367.5L532.0,358.7L532.2,363.6L532.5,364.5L532.8,364.1L533.2,364.1L533.2,369.5L533.3,364.1L533.6,364.1L533.9,363.4L534.0,363.4L534.0,369.5L534.1,361.8L534.2,361.8L534.4,360.2L534.7,358.7L534.8,358.7L534.9,369.5L534.9,362.6L535.0,362.6L535.3,364.1L535.5,364.1L535.8,364.5L536.1,365.1L536.2,365.1L536.2,369.5L536.3,365.6L536.5,365.6L536.5,369.5L536.6,366.2L536.6,366.2L537.5,367.9L537.7,368.3L538.3,366.6L538.6,364.5L539.4,361.0L539.7,358.3L539.8,358.3L539.8,369.5L539.9,353.7L539.9,353.7L540.2,347.8L540.5,356.5L540.8,358.7L541.6,364.3L541.9,368.4L543.0,368.4L543.8,366.2L543.9,366.2L543.9,369.5L544.0,365.5L544.1,365.5L544.3,364.7L544.4,364.7L544.5,369.5L544.5,364.2L544.6,364.2L545.4,366.4L545.5,366.4L545.6,369.5L545.6,367.1L545.7,367.1L546.0,367.9L546.3,368.2L547.4,364.5L547.5,364.5L547.5,369.5L547.6,364.0L547.6,364.0L547.9,363.4L548.0,363.4L548.1,369.5L548.1,362.9L548.2,362.9L548.5,362.3L548.6,362.3L548.6,369.5L548.7,361.8L548.7,361.8L549.0,358.6L549.1,358.6L549.2,369.5L549.2,355.5L549.3,355.5L549.6,353.2L549.8,357.2L550.1,360.4L550.4,363.2L550.5,363.2L550.5,369.5L550.6,363.7L550.8,363.7L550.8,369.5L550.9,364.3L550.9,364.3L551.2,368.4L552.3,368.4L552.6,368.3L554.5,364.1L554.8,364.1L555.1,361.6L555.3,358.7L555.4,358.7L555.5,369.5L555.5,364.4L555.6,364.4L555.9,363.4L556.0,363.4L556.0,369.5L556.1,361.8L556.2,361.8L556.4,360.2L556.7,358.7L557.0,364.6L557.1,364.6L557.1,369.5L557.2,363.0L557.3,363.0L557.8,359.7L557.9,359.7L558.0,369.5L558.0,358.7L558.1,358.7L558.4,360.9L558.9,364.2L559.2,365.2L559.3,365.2L559.3,369.5L559.4,364.4L559.5,364.4L559.7,364.5L560.6,366.7L560.7,366.7L560.7,369.5L560.8,367.4L560.9,367.4L561.0,369.5L561.0,368.1L561.1,368.1L561.4,368.4L562.8,368.4L563.0,368.3L563.9,366.6L564.1,363.6L564.4,358.7L564.5,358.7L564.6,369.5L564.6,362.6L564.8,362.6L564.8,369.5L564.9,364.4L565.0,364.4L565.2,364.1L565.9,364.1L565.9,369.5L566.0,364.1L567.0,364.1L567.0,369.5L567.1,364.2L567.2,364.2L567.4,365.4L567.5,365.4L567.6,369.5L567.6,366.6L567.7,366.6L568.0,367.7L568.3,368.4L568.5,368.4L568.8,361.0L569.1,358.7L569.4,361.9L569.6,364.2L569.9,367.0L570.2,366.1L570.3,366.1L570.3,369.5L570.4,365.2L570.5,365.2L570.7,364.4L571.0,364.1L571.3,364.1L571.6,364.7L572.7,367.6L572.9,364.3L573.8,361.7L574.0,360.8L574.3,353.2L574.6,360.8L574.9,363.5L575.1,364.2L575.4,364.1L577.1,364.1L577.3,364.5L578.4,367.9L578.7,363.8L579.0,362.9L579.3,353.2L579.5,357.3L579.8,361.2L580.9,363.8L581.2,364.1L582.4,364.1L582.4,369.5L582.5,364.1L582.9,364.1L583.0,369.5L583.0,364.1L583.4,364.1L583.7,364.6L583.8,364.6L583.8,369.5L583.9,365.4L583.9,365.4L584.8,368.0L585.0,368.4L586.1,368.4L586.4,362.3L586.7,358.7L587.0,363.8L587.5,362.7L587.8,360.1L588.1,356.9L588.3,353.2L588.4,353.2L588.5,369.5L588.5,356.9L588.6,356.9L588.9,361.4L589.2,362.6L589.4,363.2L589.5,363.2L589.6,369.5L589.6,363.9L589.7,363.9L590.0,364.5L590.3,364.3L590.5,360.6L590.8,358.7L591.1,364.0L591.4,365.8L591.6,364.8L591.9,364.3L592.7,367.0L592.8,367.0L592.9,369.5L592.9,368.0L593.0,368.0L593.3,368.4L594.1,368.4L594.4,362.6L594.5,362.6L594.5,369.5L594.6,358.7L594.7,358.7L594.9,363.6L595.2,364.9L595.5,364.1L595.8,363.1L596.0,358.7L596.3,363.0L596.4,363.0L596.5,369.5L596.5,364.7L596.6,364.7L597.1,367.2L597.4,368.4L599.1,368.4L599.3,367.7L599.6,366.7L599.7,366.7L599.8,369.5L599.8,365.7L600.0,365.7L600.0,369.5L600.1,364.8L600.2,364.8L600.4,364.3L600.5,364.3L600.6,369.5L600.6,364.9L600.7,364.9L601.3,366.1L601.4,366.1L601.4,369.5L601.5,366.8L601.5,366.8L602.1,368.0L602.4,368.4L602.6,368.3L603.5,366.0L603.7,364.6L604.6,362.0L604.7,362.0L604.7,369.5L604.8,358.9L604.9,358.9L605.0,369.5L605.0,353.2L605.1,353.2L605.4,359.7L605.7,361.6L605.9,360.8L606.2,353.2L606.5,355.5L607.0,361.8L607.1,361.8L607.2,369.5L607.2,363.6L607.3,363.6L607.6,364.2L607.9,364.1L608.5,364.1L608.6,369.5L608.6,364.1L612.3,364.1L612.5,365.0L613.4,368.3L613.6,368.4L613.9,368.4L614.2,368.3L615.6,364.7L615.7,364.7L615.7,369.5L615.8,364.1L615.9,364.1L616.0,369.5L616.0,364.1L616.7,364.1L616.9,364.4L617.0,364.4L617.1,369.5L617.1,365.2L617.2,365.2L617.5,365.9L617.6,365.9L617.6,369.5L617.7,366.7L617.8,366.7L618.3,368.2L618.6,368.4L620.0,368.4L620.2,368.0L621.9,364.5L622.2,364.3L622.3,364.3L622.3,369.5L622.4,364.9L622.4,364.9L623.0,366.2L623.3,363.0L623.8,359.7L624.1,358.7L624.2,358.7L624.2,369.5L624.3,360.9L624.4,360.9L624.9,364.2L625.2,365.1L625.5,364.4L625.7,364.1L626.0,364.1L626.3,364.7L626.4,364.7L626.4,369.5L626.5,364.1L626.7,364.1L626.7,369.5L626.8,363.5L626.8,363.5L627.1,361.0L627.4,356.5L627.5,356.5L627.5,369.5L627.6,353.2L627.7,353.2L627.9,357.2L628.2,360.4L628.5,361.9L629.3,363.5L629.6,363.4L629.7,363.4L629.7,369.5L629.8,362.6L630.0,362.6L630.0,369.5L630.1,357.0L630.1,357.0L630.4,353.2L630.7,361.4L631.5,364.0L631.8,364.1L632.3,364.1L632.6,364.4L633.7,367.0L633.8,367.0L633.9,369.5L633.9,367.6L634.0,367.6L634.3,368.3L634.5,368.4L634.8,367.9L635.4,366.0L635.5,366.0L635.5,369.5L635.6,365.0L635.6,365.0L635.9,364.1L636.2,364.1L636.5,363.6L637.3,358.7L637.8,363.3L638.1,367.0L638.7,368.3L638.9,367.8L639.2,367.2L639.3,367.2L639.4,369.5L639.4,366.5L639.5,366.5L639.8,365.8L639.9,365.8L639.9,369.5L640.0,365.2L640.1,365.2L640.2,369.5L640.2,364.5L640.6,364.5L641.4,368.4L642.2,368.4L642.5,368.0L642.8,367.3L643.1,363.1L643.3,358.7L643.6,360.6L643.9,362.2L644.0,362.2L644.0,369.5L644.1,363.9L644.2,363.9L644.4,364.1L646.9,364.1L647.2,364.5L649.1,368.4L649.4,364.0L649.9,360.7L650.2,358.7L650.3,358.7L650.4,369.5L650.4,360.4L650.5,360.4L650.8,362.7L651.0,367.7L652.1,365.4L652.2,365.4L652.3,369.5L652.3,364.8L652.4,364.8L652.7,364.2L653.0,364.1L653.6,364.1L653.7,369.5L653.7,362.9L653.8,362.9L654.1,360.6L654.3,358.7L654.4,358.7L654.5,369.5L654.5,361.4L654.6,361.4L654.9,363.8L655.0,363.8L655.0,369.5L655.1,368.4L655.7,368.4L656.0,367.5L656.8,364.8L657.1,364.1L657.2,364.1L657.2,369.5L657.3,364.1L660.2,364.1L660.3,369.5L660.3,364.1L661.6,364.1L661.6,369.5L661.7,364.7L661.8,364.7L663.1,367.8L663.4,368.3L663.7,367.0L663.8,367.0L663.8,369.5L663.9,365.7L664.0,365.7L664.2,364.4L664.5,364.1L665.4,364.1L665.5,369.5L665.5,364.1L667.9,364.1L668.0,369.5L668.0,364.1L668.2,364.1L668.2,369.5L668.3,364.1L668.6,364.1L668.9,364.4L669.7,366.9L670.0,364.5L670.8,359.6L671.1,358.7L671.2,358.7L671.3,369.5L671.3,364.0L671.4,364.0L671.7,365.2L671.9,364.6L672.2,364.1L672.3,364.1L672.4,369.5L672.4,364.1L672.5,364.1L672.8,364.4L673.6,367.7L673.9,368.4L674.7,368.4L675.0,368.2L676.3,364.4L676.6,364.1L676.9,364.1L677.2,364.7L678.5,368.4L678.8,362.1L679.1,358.7L679.4,360.9L679.5,360.9L679.5,369.5L679.6,362.5L679.6,362.5L679.9,364.2L680.2,366.0L680.5,364.7L680.7,364.1L683.0,364.1L683.1,369.5L683.1,364.1L683.5,364.1L683.8,364.6L684.6,367.6L684.9,368.4L686.2,368.4L686.5,367.9L687.9,364.5L688.2,364.4L689.3,368.0L689.5,368.4L689.8,368.4L690.6,365.9L690.7,365.9L690.8,369.5L690.8,365.0L690.9,365.0L691.2,364.2L691.5,364.1L692.0,364.1L692.3,364.4L692.4,364.4L692.4,369.5L692.5,365.6L692.6,365.6L693.1,368.1L693.4,368.4L693.7,368.4L693.9,368.1L695.3,364.7L695.6,364.2L695.9,364.3L696.1,363.6L696.4,362.6L696.7,358.1L697.0,353.2L697.2,357.3L697.5,361.3L698.3,363.2L698.4,363.2L698.5,369.5L698.5,363.9L698.6,363.9L698.9,364.1L699.4,364.1L699.7,364.3L700.5,367.6L700.8,368.4L701.6,368.4L701.9,367.5L702.5,365.3L702.6,365.3L702.6,369.5L702.7,364.3L702.7,364.3L703.0,364.1L704.7,364.1L704.9,364.6L705.8,367.7L706.0,368.4L707.1,368.4L707.4,368.0L709.1,364.2L709.2,364.2L709.2,369.5L709.3,364.1L709.4,364.1L709.5,369.5L709.5,364.1L709.6,364.1L709.9,365.3L710.4,367.7L710.7,368.4L711.8,368.4L712.1,368.3L712.4,367.7L712.6,358.7L712.7,358.7L712.8,369.5L712.8,363.1L713.0,363.1L713.1,369.5L713.1,365.9L713.2,365.9L713.5,365.3L713.7,363.6L714.0,358.7L714.3,362.6L714.6,366.5L714.8,367.8L715.1,362.1L715.4,358.7L715.7,366.7L716.2,365.4L716.3,365.4L716.4,369.5L716.4,364.7L716.5,364.7L716.8,364.1L717.4,364.1L717.5,369.5L717.5,364.1L717.6,364.1L717.9,364.4L718.1,365.2L718.4,364.1L718.7,358.7L718.8,358.7L718.8,369.5L718.9,362.3L719.0,362.3L719.2,368.3L719.5,368.4L720.1,368.4L720.3,367.6L720.9,365.1L721.0,365.1L721.0,369.5L721.1,364.1L723.2,364.1L723.2,369.5L723.3,364.1L723.5,364.1L723.5,369.5L723.6,364.1L723.6,364.1L723.9,358.7L724.0,358.7L724.1,369.5L724.1,359.9L724.2,359.9L724.7,363.1L725.0,367.1L725.3,363.8L725.8,361.0L726.4,347.8L726.7,352.4L726.8,352.4L726.8,369.5L726.9,357.1L726.9,357.1L727.2,358.5L728.3,363.2L728.6,364.1L729.0,364.1L729.0,369.5L729.1,360.6L729.1,360.6L729.4,358.7L729.7,364.1L730.0,364.1L730.2,364.7L730.3,364.7L730.4,369.5L730.4,365.4L730.5,365.4L731.6,368.4L731.9,367.2L732.2,366.0L732.3,366.0L732.3,369.5L732.4,364.8L732.4,364.8L732.7,364.5L733.5,367.4L733.6,367.4L733.7,369.5L733.7,368.3L734.1,368.4L734.9,368.4L735.5,366.2L735.7,364.3L736.3,361.0L736.4,361.0L736.4,369.5L736.5,358.7L736.6,358.7L736.8,359.9L737.1,362.3L737.4,363.9L737.7,363.0L737.8,363.0L737.8,369.5L737.9,353.2L738.0,353.2L738.1,369.5L738.1,356.9L738.2,356.9L738.5,360.8L738.8,361.8L739.3,363.1L739.4,363.1L739.5,369.5L739.5,363.7L739.6,363.7L739.9,364.4L740.1,364.5L740.4,363.9L741.0,360.6L741.1,360.6L741.1,369.5L741.2,358.7L741.2,358.7L741.5,360.0L742.1,363.3L742.3,366.9L743.4,364.2L743.7,364.6L743.8,364.6L743.9,369.5L743.9,365.2L744.0,365.2L744.8,366.9L744.9,366.9L745.0,369.5L745.0,367.5L745.1,367.5L745.4,368.1L745.6,368.4L746.5,368.4L746.7,367.6L747.8,364.2L748.1,364.1L748.7,364.1L748.9,364.2L749.0,364.2L749.1,369.5L749.1,364.4L749.3,364.4L749.4,369.5L749.4,363.7L749.6,363.7L749.6,369.5L749.7,363.1L749.8,363.1L750.0,362.4L750.1,362.4L750.2,369.5L750.2,361.8L750.3,361.8L750.6,359.7L750.9,353.2L751.1,358.9L751.4,363.0L751.7,363.9L752.0,364.9L752.1,364.9L752.1,369.5L752.2,364.3L752.3,364.3L752.4,369.5L752.4,364.5L752.5,364.5L753.9,368.2L754.2,368.4L755.3,368.4L755.5,368.4L756.4,366.7L756.5,366.7L756.5,369.5L756.6,366.1L756.6,366.1L756.9,365.6L757.0,365.6L757.1,369.5L757.1,365.0L757.2,365.0L757.5,364.5L757.7,364.1L758.3,364.1L758.6,363.0L759.1,359.7L759.4,358.7L759.5,358.7L759.5,369.5L759.6,363.6L759.7,363.6L759.9,367.2L760.2,367.9L760.5,363.4L761.0,360.2L761.3,358.7L761.6,361.2L761.9,363.6L762.1,364.1L762.5,364.1L762.6,369.5L762.6,364.1L764.3,364.1L764.6,364.4L764.9,362.1L765.2,358.7L765.3,358.7L765.3,369.5L765.4,361.6L765.4,361.6L765.7,367.5L766.0,368.3L766.3,367.9L766.5,367.2L766.6,367.2L766.7,369.5L766.7,366.5L766.8,366.5L767.6,364.6L767.9,364.1L768.5,364.1L768.7,363.3L769.3,358.7L769.8,363.3L769.9,363.3L770.0,369.5L770.0,368.1L770.1,368.1L770.4,367.8L771.5,364.2L771.8,364.1L772.0,364.1L772.3,363.6L772.6,358.7L772.7,358.7L772.7,369.5L772.8,360.2L772.9,360.2L773.1,362.5L773.4,364.1L773.7,364.4L774.2,365.8L774.3,365.8L774.4,369.5L774.4,363.6L774.5,363.6L774.8,361.7L774.9,361.7L774.9,369.5L775.0,359.8L775.1,359.8L775.3,347.8L775.6,353.3L775.7,353.3L775.8,369.5L775.8,357.9L775.9,357.9L776.4,360.3L776.7,358.7L777.0,360.4L777.5,363.7L777.8,364.7L778.1,364.1L778.2,364.1L778.2,369.5L778.3,364.1L778.4,364.1L778.6,364.3L780.3,368.4L781.1,368.4L781.4,368.1L782.8,365.1L782.9,365.1L782.9,369.5L783.0,364.6L783.0,364.6L783.3,364.1L784.0,364.1L784.0,369.5L784.1,364.1L785.3,364.1L785.4,369.5L785.4,365.3L785.5,365.3L785.8,364.0L786.3,360.7L786.6,358.7L786.7,358.7L786.8,369.5L786.8,359.9L786.9,359.9L787.4,363.1L787.5,363.1L787.6,369.5L787.6,365.0L787.7,365.0L788.0,364.2L788.3,362.3L788.4,362.3L788.4,369.5L788.5,359.9L788.5,359.9L788.8,358.7L788.9,358.7L789.0,369.5L789.0,361.0L789.1,361.0L789.6,364.3L789.9,365.0L790.2,362.9L790.5,360.6L790.6,360.6L790.6,369.5L790.7,358.7L790.7,358.7L791.0,366.5L791.1,366.5L791.2,369.5L791.2,367.3L791.3,367.3L791.6,368.1L791.8,368.4L792.9,368.4L793.2,367.7L794.3,364.1L794.4,364.1L794.5,369.5L794.5,364.1L794.6,364.1L794.9,363.9L795.1,363.3L795.2,363.3L795.3,369.5L795.3,362.6L795.4,362.6L795.7,362.0L796.0,360.2L796.2,355.7L796.5,353.2L796.6,353.2L796.7,369.5L796.7,357.8L796.8,357.8L797.1,360.9L797.3,363.2L797.6,361.9L797.9,358.7L798.2,362.1L798.3,362.1L798.3,369.5L798.4,367.3L798.4,367.3L799.5,364.1L799.6,364.1L799.7,369.5L799.7,364.1L800.5,364.1L800.5,369.5L800.6,364.4L800.6,364.4L801.5,366.8L801.6,366.8L801.6,369.5L801.7,367.6L801.7,367.6L802.0,362.3L802.3,358.7L802.6,362.3L802.7,362.3L802.7,369.5L802.8,366.4L802.8,366.4L803.7,364.4L803.9,364.6L804.2,365.4L804.5,364.5L805.0,363.2L805.1,363.2L805.2,369.5L805.2,362.5L805.3,362.5L805.6,361.9L805.7,361.9L805.7,369.5L805.8,360.2L805.9,360.2L806.1,355.7L806.4,353.2L806.7,359.7L807.0,363.0L807.2,363.7L807.3,363.7L807.4,369.5L807.4,364.4L807.5,364.4L807.8,364.5L808.1,364.1L808.2,364.1L808.2,369.5L808.3,364.1L808.3,364.1L808.6,364.4L808.9,362.1L809.2,358.7L809.3,358.7L809.3,369.5L809.4,361.6L809.4,361.6L809.7,368.4L810.0,368.4L810.3,364.3L810.5,360.6L810.8,358.7L811.1,367.8L811.6,366.5L811.7,366.5L811.8,369.5L811.8,358.7L811.9,358.7L812.2,362.6L812.5,364.5L812.6,364.5L812.6,369.5L812.7,364.4L812.7,364.4L813.0,365.2L813.1,365.2L813.2,369.5L813.2,366.0L813.3,366.0L814.1,368.3L814.4,367.9L814.9,366.8L815.0,366.8L815.1,369.5L815.1,366.2L815.2,366.2L816.0,364.5L816.1,364.5L816.2,369.5L816.2,364.1L816.6,364.1L816.9,364.4L818.0,368.1L818.2,367.6L818.8,365.0L819.1,364.1L820.0,364.1L820.0,369.5L820.1,364.6L820.2,364.6L820.4,362.0L820.7,358.7L821.0,361.2L821.3,363.6L821.4,363.6L821.4,369.5L821.5,368.4L821.8,368.4L822.1,368.2L822.4,367.5L822.5,367.5L822.5,369.5L822.6,366.8L822.6,366.8L823.7,364.1L824.0,364.1L824.3,364.2L825.7,368.2L825.9,368.0L826.8,366.4L826.9,366.4L826.9,369.5L827.0,362.0L827.1,362.0L827.2,369.5L827.2,358.7L827.3,358.7L827.6,361.2L827.9,363.6L828.1,364.8L829.0,367.9L829.2,367.9L829.8,365.9L829.9,365.9L829.9,369.5L830.0,364.9L830.1,364.9L830.3,364.2L830.4,364.2L830.5,369.5L830.5,364.9L830.7,364.9L830.8,369.5L830.8,365.6L830.9,365.6L832.0,368.4L833.4,368.4L834.5,365.7L834.6,365.7L834.6,369.5L834.7,365.1L834.7,365.1L835.0,364.4L835.1,364.4L835.2,369.5L835.2,364.5L835.3,364.5L836.4,367.7L836.7,368.4L838.0,365.2L838.1,365.2L838.2,369.5L838.2,364.5L838.3,364.5L838.6,364.1L838.9,362.5L839.0,362.5L839.0,369.5L839.1,360.3L839.1,360.3L840.0,353.9L840.1,353.9L840.1,369.5L840.2,347.2L840.2,347.2L840.5,342.4L840.8,358.4L841.1,361.3L841.3,360.8L841.6,359.1L841.7,359.1L841.8,369.5L841.8,347.8L841.9,347.8L842.2,354.4L842.3,354.4L842.3,369.5L842.4,358.8L842.4,358.8L842.7,360.5L842.8,360.5L842.9,369.5L842.9,362.1L843.0,362.1L843.3,363.8L843.5,368.4L843.8,367.5L844.1,366.5L844.2,366.5L844.2,369.5L844.3,365.5L844.4,365.5L844.6,364.5L844.9,364.5L845.5,365.9L845.6,365.9L845.6,369.5L845.7,363.6L845.7,363.6L846.0,358.7L846.3,360.4L846.8,363.7L847.1,368.4L847.7,368.4L847.9,358.7L848.2,360.6L848.5,362.9L848.8,366.0L849.0,364.7L849.1,364.7L849.2,369.5L849.2,364.5L849.3,364.5L849.9,366.1L850.0,366.1L850.0,369.5L850.1,366.9L850.1,366.9L850.4,367.7L850.7,368.4L851.0,368.4L851.2,368.3L852.1,364.5L852.3,364.1L856.5,364.1L856.7,364.3L856.8,364.3L856.9,369.5L856.9,364.8L857.0,364.8L857.3,365.4L857.4,365.4L857.4,369.5L857.5,365.9L857.6,365.9L858.1,367.0L858.2,367.0L858.3,369.5L858.3,367.5L858.4,367.5L858.7,368.1L858.9,368.4L859.2,364.2L859.3,364.2L859.4,369.5L859.4,363.3L859.5,363.3L859.8,361.8L860.0,353.2L860.1,353.2L860.2,369.5L860.2,356.9L860.3,356.9L860.6,360.1L860.9,362.0L861.1,361.6L861.4,358.7L861.7,362.1L862.0,364.2L862.2,368.4L862.5,363.3L863.1,360.0L863.3,358.7L863.6,364.7L863.9,364.1L864.3,364.1L864.3,369.5L864.4,364.1L865.9,364.1L866.0,369.5L866.0,364.1L866.7,364.1L866.8,369.5L866.8,364.3L866.9,364.3L867.5,366.3L867.6,366.3L867.6,369.5L867.7,367.3L867.7,367.3L868.0,368.3L868.3,367.7L869.4,364.3L869.7,364.9L870.2,367.4L870.3,367.4L870.4,369.5L870.4,368.4L871.3,368.4L871.6,368.0L871.9,367.3L872.0,367.3L872.0,369.5L872.1,366.6L872.1,366.6L872.4,363.9L872.5,363.9L872.6,369.5L872.6,363.2L872.7,363.2L873.0,361.5L873.2,353.2L873.5,360.8L873.6,360.8L873.7,369.5L873.7,361.7L873.8,361.7L874.1,362.5L874.2,362.5L874.2,369.5L874.3,363.4L874.3,363.4L874.6,364.3L874.9,367.6L875.2,368.2L875.4,368.0L876.8,364.7L877.1,364.1L877.5,364.1L877.5,369.5L877.6,364.1L879.1,364.1L879.2,369.5L879.2,364.1L879.4,364.1L879.4,369.5L879.5,364.1L879.9,364.1L880.0,369.5L880.0,364.2L880.1,364.2L881.5,368.4L881.8,368.4L882.0,368.0L883.1,364.4L883.4,364.0L884.0,362.2L884.1,362.2L884.1,369.5L884.2,353.2L884.2,353.2L884.5,355.8L885.1,362.1L885.3,361.6L885.6,358.7L885.7,358.7L885.8,369.5L885.8,361.0L885.9,361.0L886.2,362.7L886.3,362.7L886.3,369.5L886.4,362.4L886.4,362.4L887.0,360.8L887.3,353.2L887.5,356.1L888.1,362.3L888.4,358.7L888.6,359.6L889.5,364.5L889.6,364.5L889.6,369.5L889.7,367.6L889.7,367.6L890.0,368.3L890.8,366.1L891.1,364.2L891.7,362.9L891.9,358.9L892.2,353.2L892.3,353.2L892.4,369.5L892.4,360.8L892.5,360.8L892.8,361.5L893.0,362.4L893.1,362.4L893.2,369.5L893.2,363.2L893.3,363.2L893.6,364.1L893.9,368.0L894.1,368.4L895.0,368.4L895.2,367.9L895.5,366.7L895.8,364.0L896.3,360.7L896.6,358.7L896.9,362.6L897.2,366.1L897.4,366.7L897.7,363.3L898.3,360.0L898.4,360.0L898.4,369.5L898.5,358.7L898.5,358.7L898.8,366.8L899.1,366.0L899.2,366.0L899.2,369.5L899.3,365.2L899.4,365.2L899.6,364.4L899.9,358.7L900.2,362.6L900.5,363.8L901.0,362.4L901.1,362.4L901.2,369.5L901.2,358.1L901.3,358.1L901.6,353.2L901.8,359.6L902.1,362.0L902.4,362.8L902.5,362.8L902.5,369.5L902.6,363.5L902.7,363.5L902.9,364.1L904.0,364.1L904.3,364.2L905.1,365.8L905.4,363.9L906.0,360.6L906.2,358.7L906.3,358.7L906.4,369.5L906.4,361.6L906.5,361.6L906.8,368.4L907.1,368.1L908.2,365.0L908.3,365.0L908.3,369.5L908.4,364.2L908.4,364.2L908.7,364.1L909.0,358.7L909.3,361.0L909.4,361.0L909.4,369.5L909.5,363.3L909.5,363.3L909.8,364.1L912.0,364.1L912.3,362.1L912.4,362.1L912.4,369.5L912.5,358.7L912.7,358.7L912.7,369.5L912.8,360.6L912.8,360.6L913.1,364.3L913.4,365.0L913.5,365.0L913.5,369.5L913.6,363.4L913.7,363.4L913.9,361.6L914.2,357.6L914.3,357.6L914.4,369.5L914.4,347.8L914.5,347.8L914.8,354.1L915.0,358.0L915.3,357.0L915.6,348.7L915.7,348.7L915.7,369.5L915.8,342.4L915.9,342.4L916.1,350.2L916.4,355.3L916.7,357.1L917.0,358.7L917.2,360.7L917.8,364.3L918.1,367.9L918.3,368.4L919.7,368.4L920.3,367.3L920.4,367.3L920.4,369.5L920.5,366.8L920.6,366.8L920.7,369.5L920.7,366.2L920.8,366.2L921.1,365.7L921.2,365.7L921.2,369.5L921.3,365.1L921.4,365.1L921.6,364.6L921.9,364.1L923.7,364.1L923.7,369.5L923.8,364.1L924.2,364.1L924.3,369.5L924.3,364.1L924.8,364.1L924.8,369.5L924.9,364.3L924.9,364.3L926.0,368.2L926.3,367.9L927.1,366.0L927.2,366.0L927.3,369.5L927.3,365.3L927.4,365.3L927.7,364.6L927.8,364.6L927.8,369.5L927.9,364.2L928.0,364.2L929.6,368.1L929.9,368.4L930.2,358.7L930.4,359.6L930.5,359.6L930.6,369.5L930.6,361.2L930.7,361.2L931.3,364.5L931.5,368.0L932.9,365.1L933.0,365.1L933.1,369.5L933.1,364.5L933.2,364.5L933.5,364.2L934.8,368.4L935.1,367.8L935.7,366.6L935.9,358.7L936.5,364.6L936.8,364.1L937.1,364.1L937.2,369.5L937.2,364.1L937.9,364.1L938.1,363.8L938.4,363.2L938.5,363.2L938.6,369.5L938.6,362.7L938.8,362.7L938.8,369.5L938.9,360.4L939.0,360.4L939.2,357.2L939.5,353.2L939.8,358.3L939.9,358.3L939.9,369.5L940.0,362.1L940.3,362.1L940.6,360.9L940.7,360.9L940.8,369.5L940.8,357.8L940.9,357.8L941.2,353.2L941.4,358.9L941.7,363.1L941.8,363.1L941.9,369.5L941.9,362.8L942.0,362.8L942.5,359.6L942.8,358.7L943.1,364.0L943.4,368.3L943.6,368.4L943.9,368.4L944.2,362.9L944.5,360.6L944.7,358.7L945.0,361.4L945.3,363.8L945.6,366.8L945.8,363.7L946.4,360.4L946.7,358.7L946.9,362.0L947.2,365.3L948.3,367.9L948.6,368.4L949.1,368.4L949.4,368.0L951.1,364.4L951.2,364.4L951.2,369.5L951.3,364.1L952.3,364.1L952.3,369.5L952.4,364.8L952.4,364.8L953.0,366.2L953.1,366.2L953.1,369.5L953.2,366.9L953.3,366.9L953.8,368.4L954.4,366.6L954.6,364.2L955.5,361.6L955.6,361.6L955.6,369.5L955.7,353.2L955.7,353.2L956.0,361.8L956.3,362.7L956.4,362.7L956.4,369.5L956.5,363.6L956.6,363.6L956.8,364.4L956.9,364.4L957.0,369.5L957.0,368.3L957.1,368.3L957.9,364.6L958.2,364.1L959.7,364.1L959.7,369.5L959.8,364.1L960.0,364.1L960.0,369.5L960.1,364.1L961.9,364.1L961.9,369.5L962.0,364.1L962.1,364.1L962.3,363.3L962.6,358.7L962.9,359.9L963.0,359.9L963.0,369.5L963.1,361.5L963.2,361.5L963.4,363.1L963.7,366.8L964.3,368.0L964.5,368.0L964.8,366.8L964.9,366.8L965.0,369.5L965.0,365.7L965.1,365.7L965.4,364.6L965.6,364.4L966.7,366.8L966.8,366.8L966.9,369.5L966.9,367.4L967.0,367.4L967.3,368.0L967.6,368.4L968.1,368.4L968.4,367.9L970.0,364.6L970.1,364.6L970.2,369.5L970.2,364.2L970.4,364.2L970.5,369.5L970.5,365.2L970.6,365.2L970.9,366.2L971.0,366.2L971.0,369.5L971.1,367.2L971.1,367.2L971.4,368.2L971.7,368.4L972.2,368.4L972.5,367.8L973.6,364.2L973.9,363.4L974.4,360.2L974.7,358.7L975.0,360.4L975.3,362.1L975.4,362.1L975.4,369.5L975.5,363.7L975.5,363.7L975.8,367.4L976.1,362.6L976.4,358.7L976.6,360.2L977.2,363.4L977.5,364.1L977.6,364.1L977.6,369.5L977.7,363.6L977.7,363.6L978.0,358.7L978.3,362.6L978.4,362.6L978.4,369.5L978.5,365.6L978.6,365.6L979.1,367.1L979.2,367.1L979.3,369.5L979.3,367.9L979.4,367.9L979.7,368.2L980.5,366.3L980.6,366.3L980.6,369.5L980.7,365.6L980.9,365.6L980.9,369.5L981.0,365.0L981.0,365.0L981.3,364.3L981.6,364.1L981.7,364.1L981.7,369.5L981.8,364.1L981.9,364.1L982.1,363.3L982.7,358.7L983.2,363.3L983.5,366.6L983.8,363.8L984.1,361.4L984.3,358.7L984.6,360.0L985.2,363.3L985.4,367.8L986.0,366.0L986.1,366.0L986.1,369.5L986.2,365.1L986.4,365.1L986.4,369.5L986.5,364.2L986.5,364.2L986.8,364.1L987.4,364.1L987.6,364.2L987.7,364.2L987.8,369.5L987.8,364.8L987.9,364.8L989.0,367.1L989.3,363.8L989.6,363.0L989.7,363.0L989.7,369.5L989.8,362.1L989.8,362.1L990.1,360.8L990.4,353.2L990.7,360.2L990.9,362.8L991.2,363.6L991.3,363.6L991.4,369.5L991.4,364.4L991.5,364.4L991.8,365.0L992.0,364.2L992.1,364.2L992.2,369.5L992.2,364.1L993.0,364.1L993.0,369.5L993.1,364.1L993.4,364.1L993.7,363.4L994.2,361.7L994.5,359.9L994.8,353.2L995.1,357.5L995.3,360.6L995.6,362.3L995.9,353.2L996.2,357.7L996.4,361.7L996.5,361.7L996.6,369.5L996.6,362.5L996.7,362.5L997.0,360.8L997.3,353.2L997.5,356.1L997.8,359.2L998.1,361.9L998.4,362.5L998.6,358.7L998.9,360.6L999.5,365.3L999.7,364.5L999.8,364.5L999.9,369.5L999.9,364.1L1000.1,364.1L1000.2,369.5L1000.2,364.1L1000.7,364.1L1000.7,369.5L1000.8,364.1L1000.8,364.1L1001.1,364.7L1001.2,364.7L1001.3,369.5L1001.3,365.4L1001.4,365.4L1002.5,368.3L1002.8,367.9L1004.4,364.3L1004.7,364.1L1005.1,364.1L1005.1,369.5L1005.2,364.1L1005.6,364.1L1005.7,369.5L1005.7,364.8L1005.8,364.8L1006.6,366.8L1006.9,364.0L1007.0,364.0L1007.0,369.5L1007.1,358.7L1007.2,358.7L1007.4,359.9L1007.5,359.9L1007.6,369.5L1007.6,362.3L1007.7,362.3L1008.0,364.6L1008.3,364.1L1009.7,364.1L1009.8,369.5L1009.8,364.1L1010.2,364.1L1010.5,365.0L1011.3,368.0L1011.6,368.4L1012.1,368.4L1012.4,368.0L1013.5,364.8L1013.8,363.1L1013.9,363.1L1013.9,369.5L1014.0,360.8L1014.0,360.8L1014.3,358.7L1014.6,362.6L1014.9,367.9L1015.1,368.1L1015.4,367.3L1015.5,367.3L1015.6,369.5L1015.6,366.6L1015.7,366.6L1016.0,365.9L1016.1,365.9L1016.1,369.5L1016.2,365.1L1016.2,365.1L1016.5,364.4L1016.8,364.1L1017.1,364.1L1017.3,364.6L1017.9,365.8L1018.0,365.8L1018.0,369.5L1018.1,366.4L1018.2,366.4L1019.0,368.3L1019.3,368.4L1019.5,368.4L1019.8,361.0L1020.1,358.7L1020.4,361.9L1020.6,364.2L1020.9,366.1L1021.0,366.1L1021.1,369.5L1021.1,365.5L1021.2,365.5L1021.7,364.3L1022.0,364.1L1022.3,364.0L1022.6,358.7L1022.8,359.9L1023.1,362.3L1023.2,362.3L1023.3,369.5L1023.3,364.1L1023.7,364.1L1023.9,363.8L1024.2,363.2L1024.5,361.4L1024.8,356.9L1024.9,356.9L1024.9,369.5L1025.0,353.2L1025.1,353.2L1025.2,369.5L1025.2,360.8L1025.4,360.8L1025.5,369.5L1025.5,361.9L1025.6,361.9L1025.9,362.7L1026.0,362.7L1026.0,369.5L1026.1,363.5L1026.1,363.5L1026.4,364.2L1026.7,364.8L1026.8,364.8L1026.8,369.5L1026.9,365.3L1027.0,365.3L1027.5,366.4L1027.6,366.4L1027.7,369.5L1027.7,367.0L1027.9,367.0L1027.9,369.5L1028.0,367.5L1028.1,367.5L1028.3,364.3L1028.9,361.0L1029.0,361.0L1029.0,369.5L1029.1,358.7L1029.3,358.7L1029.3,369.5L1029.4,359.9L1029.5,359.9L1029.6,369.5L1029.6,362.3L1029.7,362.3L1030.0,363.8L1030.1,363.8L1030.1,369.5L1030.2,363.3L1030.3,363.3L1030.5,362.7L1030.8,362.1L1031.1,358.9L1031.2,358.9L1031.2,369.5L1031.3,355.8L1031.4,355.8L1031.6,353.2L1031.9,356.9L1032.2,360.1L1032.5,362.8L1032.7,363.3L1032.8,363.3L1032.9,369.5L1032.9,363.9L1033.1,363.9L1033.2,369.5L1033.2,364.4L1033.3,364.4L1033.6,366.6L1033.8,367.5L1034.1,363.6L1034.4,361.2L1034.7,358.7L1034.9,360.2L1035.5,363.4L1035.6,363.4L1035.6,369.5L1035.7,364.1L1035.9,364.1L1035.9,369.5L1036.0,364.1L1036.3,364.1L1036.6,365.2L1037.1,367.7L1037.4,367.9L1038.2,364.4L1038.5,364.1L1040.3,364.1L1040.3,369.5L1040.4,364.1L1041.3,364.1L1041.5,364.8L1042.1,366.7L1042.2,366.7L1042.2,369.5L1042.3,367.6L1042.4,367.6L1042.6,368.4L1042.9,363.6L1043.2,358.7L1043.5,362.1L1043.6,362.1L1043.6,369.5L1043.7,368.4L1044.0,368.4L1044.3,367.9L1044.6,363.0L1045.1,359.7L1045.4,358.7L1045.5,358.7L1045.5,369.5L1045.6,364.8L1045.7,364.8L1045.9,364.1L1046.2,364.1L1046.6,364.1L1046.6,369.5L1046.7,364.1L1046.9,364.1L1046.9,369.5L1047.0,364.3L1047.0,364.3L1048.1,366.9L1048.4,363.6L1048.7,361.2L1048.8,361.2L1048.8,369.5L1048.9,358.7L1049.0,358.7L1049.2,360.8L1049.5,363.1L1049.8,368.4L1050.1,368.3L1050.3,367.6L1050.6,364.5L1051.7,362.3L1052.0,361.2L1052.5,354.9L1052.8,353.2L1053.1,362.9L1053.6,364.6L1053.7,364.6L1053.8,369.5L1053.8,366.5L1053.9,366.5L1054.2,367.1L1054.5,361.6L1054.7,358.7L1054.8,358.7L1054.9,369.5L1054.9,364.6L1055.0,364.6L1055.3,363.7L1055.4,363.7L1055.4,369.5L1055.5,362.8L1055.6,362.8L1055.8,362.0L1055.9,362.0L1056.0,369.5L1056.0,359.9L1056.1,359.9L1056.4,353.2L1056.7,362.1L1057.2,363.7L1057.5,362.9L1057.6,362.9L1057.6,369.5L1057.7,360.6L1057.8,360.6L1058.0,358.7L1058.1,358.7L1058.2,369.5L1058.2,360.6L1058.4,360.6L1058.5,369.5L1058.5,362.2L1058.6,362.2L1058.9,363.0L1059.4,361.9L1059.7,360.1L1060.0,356.9L1060.2,353.2L1060.5,361.8L1060.8,363.4L1060.9,363.4L1060.9,369.5L1061.0,364.3L1061.1,364.3L1061.3,364.1L1061.4,364.1L1061.5,369.5L1061.5,364.1L1061.6,364.1L1061.9,364.4L1062.0,364.4L1062.0,369.5L1062.1,365.2L1062.2,365.2L1062.4,365.9L1062.5,365.9L1062.6,369.5L1062.6,366.7L1062.7,366.7L1063.0,367.5L1063.1,367.5L1063.1,369.5L1063.2,368.2L1063.3,368.2L1063.5,368.4L1064.4,368.4L1064.6,368.0L1064.9,367.3L1065.2,363.4L1065.7,360.2L1066.0,358.7L1066.3,360.4L1066.6,362.1L1066.8,363.1L1066.9,363.1L1067.0,369.5L1067.0,361.5L1067.1,361.5L1067.4,359.9L1067.7,358.7L1067.9,365.5L1069.3,368.2L1069.6,368.4L1071.0,368.4L1071.2,368.1L1071.5,367.4L1071.6,367.4L1071.7,369.5L1071.7,366.8L1071.9,366.8L1071.9,369.5L1072.0,366.1L1072.2,366.1L1072.2,369.5L1072.3,365.5L1072.3,365.5L1072.6,364.8L1072.7,364.8L1072.8,369.5L1072.8,364.1L1073.2,364.1L1073.8,364.1L1073.9,369.5L1073.9,364.1L1074.1,364.1L1074.1,369.5L1074.2,364.1L1074.6,364.1L1074.7,369.5L1074.7,364.1L1075.7,364.1L1075.8,369.5L1075.8,364.1L1075.9,364.1L1076.5,366.5L1076.6,366.5L1076.6,369.5L1076.7,367.7L1076.7,367.7L1077.0,368.0L1078.1,364.7L1078.2,364.7L1078.3,369.5L1078.3,364.1L1080.1,364.1L1080.2,369.5L1080.2,364.1L1080.3,364.1L1080.6,365.3L1080.7,365.3L1080.7,369.5L1080.8,366.6L1080.9,366.6L1081.1,367.9L1081.4,368.4L1081.7,368.4L1082.0,368.1L1082.2,363.1L1082.8,359.9L1083.1,358.7L1083.3,361.6L1083.6,364.0L1083.9,367.3L1084.2,368.4L1085.3,368.4L1085.5,367.9L1085.8,367.3L1085.9,367.3L1086.0,369.5L1086.0,364.0L1086.1,364.0L1086.4,362.4L1086.5,362.4L1086.5,369.5L1086.6,360.7L1086.6,360.7L1086.9,358.7L1087.0,358.7L1087.1,369.5L1087.1,359.9L1087.2,359.9L1087.5,361.5L1087.6,361.5L1087.6,369.5L1087.7,363.1L1087.7,363.1L1088.0,364.1L1088.7,364.1L1088.7,369.5L1088.8,364.1L1090.2,364.1L1090.8,365.7L1090.9,365.7L1090.9,369.5L1091.0,366.6L1091.1,366.6L1091.2,369.5L1091.2,367.4L1091.3,367.4L1091.6,368.2L1091.9,368.4L1092.1,368.1L1093.5,365.2L1093.6,365.2L1093.7,369.5L1093.7,364.7L1093.8,364.7L1094.1,364.1L1094.3,365.2L1094.4,365.2L1094.5,369.5L1094.5,366.4L1094.6,366.4L1094.9,367.6L1095.2,368.4L1096.0,368.4L1096.3,363.0L1096.4,363.0L1096.4,369.5L1096.5,361.3L1096.6,361.3L1096.7,369.5L1096.7,359.7L1096.8,359.7L1097.1,358.7L1097.4,363.6L1097.6,365.9L1097.9,365.3L1098.0,365.3L1098.1,369.5L1098.1,364.8L1098.2,364.8L1098.5,364.2L1098.6,364.2L1098.6,369.5L1098.7,364.1L1098.8,364.1L1098.9,369.5L1098.9,364.1L1099.1,364.1L1099.2,369.5L1099.2,364.7L1099.3,364.7L1100.7,368.0L1100.9,368.4L1102.0,368.4L1102.3,368.2L1102.9,366.8L1103.0,366.8L1103.0,369.5L1103.1,366.1L1103.1,366.1L1103.7,364.7L1104.0,364.2L1104.2,365.0L1104.5,363.3L1105.1,360.0L1105.3,358.7L1105.6,360.6L1105.9,362.2L1106.0,362.2L1106.0,369.5L1106.1,363.9L1106.2,363.9L1106.4,364.3L1106.5,364.3L1106.6,369.5L1106.6,364.1L1107.0,364.1L1108.1,366.3L1108.2,366.3L1108.2,369.5L1108.3,366.8L1108.5,366.8L1108.5,369.5L1108.6,367.4L1108.6,367.4L1109.2,368.4L1109.5,368.4L1109.7,364.3L1110.0,362.7L1110.1,362.7L1110.2,369.5L1110.2,361.0L1110.3,361.0L1110.6,358.7L1110.8,359.9L1111.1,362.3L1111.2,362.3L1111.3,369.5L1111.3,364.1L1111.9,364.1L1112.2,364.9L1112.5,362.6L1112.6,362.6L1112.6,369.5L1112.7,358.7L1112.8,358.7L1113.0,361.6L1113.3,364.0L1113.6,368.4L1114.4,368.4L1114.7,367.5L1115.5,364.5L1115.6,364.5L1115.7,369.5L1115.7,364.1L1115.8,364.1L1116.1,364.0L1116.2,364.0L1116.2,369.5L1116.3,361.6L1116.3,361.6L1116.6,358.7L1116.9,359.9L1117.4,363.1L1117.5,363.1L1117.6,369.5L1117.6,362.1L1117.7,362.1L1118.0,360.4L1118.3,358.7L1118.5,363.6L1118.8,364.6L1119.6,366.7L1119.7,366.7L1119.8,369.5L1119.8,367.4L1119.9,367.4L1120.2,368.1L1120.5,368.4L1120.7,368.4L1121.0,367.8L1121.8,365.9L1121.9,365.9L1122.0,369.5L1122.0,365.2L1122.2,365.2L1122.3,369.5L1122.3,364.5L1122.4,364.5L1122.7,364.1L1123.3,364.1L1123.4,369.5L1123.4,358.7L1123.5,358.7L1123.8,359.7L1123.9,359.7L1123.9,369.5L1124.0,361.3L1124.0,361.3L1124.3,363.0L1124.6,364.1L1126.2,368.1L1126.5,368.4L1126.8,368.4L1127.1,368.3L1127.9,364.9L1128.2,364.1L1128.3,364.1L1128.3,369.5L1128.4,364.1L1128.4,364.1L1128.7,364.6L1129.3,366.4L1129.4,366.4L1129.4,369.5L1129.5,367.3L1129.5,367.3L1129.8,368.2L1130.1,367.9L1130.4,364.0L1130.6,361.6L1130.9,358.7L1131.0,358.7L1131.1,369.5L1131.1,360.4L1131.2,360.4L1131.5,362.7L1131.7,364.8L1132.6,368.4L1132.8,368.4L1133.1,368.4L1133.4,367.8L1133.7,364.0L1133.9,361.6L1134.0,361.6L1134.1,369.5L1134.1,358.7L1134.2,358.7L1134.5,361.0L1134.8,359.8L1135.0,357.1L1135.3,352.4L1135.4,352.4L1135.5,369.5L1135.5,347.8L1135.6,347.8L1135.9,358.7L1136.4,362.5L1136.5,362.5L1136.6,369.5L1136.6,364.1L1136.7,364.1L1137.0,364.2L1138.3,367.9L1138.6,368.4L1140.0,368.4L1140.3,368.2L1141.1,366.2L1141.4,363.9L1141.9,362.4L1142.2,358.3L1142.5,353.2L1142.6,353.2L1142.6,369.5L1142.7,358.9L1142.7,358.9L1143.0,362.1L1143.3,362.8L1143.6,362.3L1143.8,359.9L1144.1,358.7L1144.4,362.1L1144.7,364.4L1144.9,368.4L1145.2,368.4L1145.5,368.1L1145.8,361.6L1146.0,358.7L1146.3,365.2L1146.4,365.2L1146.5,369.5L1146.5,364.2L1146.7,364.2L1146.7,369.5L1146.8,364.1L1147.1,364.1L1147.4,364.0L1147.7,363.3L1148.0,358.9L1148.2,353.2L1148.5,360.8L1148.8,361.5L1149.1,359.2L1149.3,356.1L1149.4,356.1L1149.5,369.5L1149.5,353.2L1149.6,353.2L1149.9,360.8L1150.2,361.2L1150.4,359.6L1150.7,358.7L1151.0,363.9L1151.3,366.0L1151.5,365.0L1151.6,365.0L1151.7,369.5L1151.7,364.2L1151.8,364.2L1152.1,362.6L1152.4,358.7L1152.6,362.7L1153.2,360.3L1153.5,356.6L1153.7,352.0L1154.0,347.8L1154.3,355.0L1154.6,358.9L1154.8,360.3L1155.1,361.5L1155.2,361.5L1155.3,369.5L1155.3,359.9L1155.4,359.9L1155.7,358.7L1155.9,361.6L1156.2,364.0L1156.5,364.1L1156.6,364.1L1156.6,369.5L1156.7,365.1L1156.8,365.1L1157.6,368.2L1157.9,367.8L1158.1,363.3L1158.7,358.7L1158.8,358.7L1158.8,369.5L1158.9,361.0L1159.1,361.0L1159.1,369.5L1159.2,363.3L1159.2,363.3L1159.5,364.1L1159.8,362.6L1160.1,358.7L1160.2,358.7L1160.2,369.5L1160.3,361.6L1160.3,361.6L1160.6,364.0L1160.7,364.0L1160.8,369.5L1160.8,364.1L1161.3,364.1L1161.3,369.5L1161.4,364.1L1162.3,364.1L1162.5,364.6L1163.6,367.1L1163.7,367.1L1163.8,369.5L1163.8,367.7L1163.9,367.7L1164.2,368.3L1164.5,367.4L1165.0,365.0L1165.3,364.1L1165.7,364.1L1165.7,369.5L1165.8,364.1L1165.8,364.1L1166.1,361.0L1166.4,358.7L1166.7,363.6L1166.9,366.9L1167.2,368.0L1167.5,368.4L1167.8,368.2L1168.9,364.1L1169.0,364.1L1169.0,369.5L1169.1,364.1L1169.8,364.1L1169.8,369.5L1169.9,364.3L1170.1,364.3L1170.1,369.5L1170.2,365.0L1170.2,365.0L1170.8,366.4L1171.1,363.1L1171.3,360.8L1171.6,358.7L1171.9,360.4L1172.4,363.7L1172.7,367.3L1173.8,364.6L1173.9,364.6L1174.0,369.5L1174.0,364.1L1174.2,364.1L1174.2,369.5L1174.3,364.1L1175.8,364.1L1175.9,369.5L1175.9,364.1L1176.9,364.1L1177.0,369.5L1177.0,364.1L1177.8,364.1L1177.8,369.5L1177.9,364.1L1178.5,364.1L1178.8,364.6L1180.4,368.2L1180.7,368.4L1181.0,368.0L1181.2,358.7L1181.5,360.0L1182.1,363.3L1182.3,364.6L1182.6,364.3L1182.7,364.3L1182.8,369.5L1182.8,365.5L1182.9,365.5L1183.4,367.8L1183.7,368.1L1184.8,365.3L1184.9,365.3L1185.0,369.5L1185.0,364.6L1185.2,364.6L1185.2,369.5L1185.3,364.3L1185.4,364.3L1185.6,365.0L1185.7,365.0L1185.8,369.5L1185.8,358.7L1186.0,358.7L1186.1,369.5L1186.1,359.9L1186.3,359.9L1186.3,369.5L1186.4,361.5L1186.6,361.5L1186.6,369.5L1186.7,363.1L1186.7,363.1L1187.0,368.4L1187.6,368.4L1187.8,368.1L1188.7,366.3L1188.8,366.3L1188.8,369.5L1188.9,365.6L1188.9,365.6L1189.2,365.0L1189.3,365.0L1189.4,369.5L1189.4,364.4L1189.5,364.4L1189.8,361.6L1190.0,358.7L1190.3,362.6L1190.6,361.8L1190.9,360.8L1191.1,358.9L1191.4,353.2L1191.5,353.2L1191.6,369.5L1191.6,363.4L1191.7,363.4L1192.0,364.2L1192.2,368.4L1193.1,368.4L1193.3,368.0L1193.9,366.6L1194.0,366.6L1194.0,369.5L1194.1,365.9L1194.2,365.9L1194.4,365.2L1194.5,365.2L1194.6,369.5L1194.6,364.5L1194.7,364.5L1195.0,364.1L1197.6,364.1L1197.6,369.5L1197.7,364.1L1197.8,364.1L1197.9,369.5L1197.9,364.1L1199.4,364.1L1199.7,365.2L1199.8,365.2L1199.8,369.5L1199.9,366.4L1199.9,366.4L1200.2,367.5L1200.5,368.1L1200.8,366.9L1200.9,366.9L1200.9,369.5L1201.0,365.7L1201.0,365.7L1201.3,364.5L1201.6,364.7L1202.7,368.3L1203.0,367.9L1204.6,364.5L1204.9,364.1L1205.0,364.1L1205.0,369.5L1205.1,364.1L1205.8,364.1L1205.9,369.5L1205.9,364.1L1206.0,364.1L1206.3,363.6L1206.5,362.9L1206.6,362.9L1206.7,369.5L1206.7,362.3L1206.8,362.3L1207.1,361.4L1207.4,356.9L1207.5,356.9L1207.5,369.5L1207.6,353.2L1207.6,353.2L1207.9,356.9L1208.2,360.1L1208.5,362.9L1208.7,361.6L1209.0,358.7L1209.3,361.0L1209.4,361.0L1209.4,369.5L1209.5,362.7L1209.6,362.7L1209.8,364.3L1210.1,367.5L1211.5,364.7L1211.6,364.7L1211.6,369.5L1211.7,364.2L1211.8,364.2L1212.0,364.1L1212.6,364.1L1212.9,364.3L1213.0,364.3L1213.0,369.5L1213.1,365.1L1213.2,365.1L1213.4,366.0L1213.5,366.0L1213.6,369.5L1213.6,366.8L1213.7,366.8L1214.0,367.7L1214.3,368.3L1215.6,364.8L1215.9,364.1L1216.2,364.1L1216.5,364.3L1216.5,364.3L1216.6,369.5L1216.6,365.5L1216.7,365.5L1217.3,367.7L1217.6,368.1L1218.1,366.4L1218.2,366.4L1218.2,369.5L1218.3,365.6L1218.4,365.6L1218.7,364.7L1218.9,364.1L1219.3,364.1L1219.3,369.5L1219.4,364.3L1219.5,364.3L1221.4,368.3L1221.7,368.0L1222.0,367.3L1222.0,367.3L1222.1,369.5L1222.1,366.7L1222.2,366.7L1223.3,364.2L1223.6,364.1L1223.9,358.7L1224.2,359.6L1224.4,361.2L1224.5,361.2L1224.6,369.5L1224.6,362.8L1224.7,362.8L1225.0,364.1L1226.2,364.1L1226.2,369.5L1226.3,364.1L1226.4,364.1L1226.6,364.7L1226.7,364.7L1226.8,369.5L1226.8,365.3L1226.9,365.3L1227.2,366.0L1227.3,366.0L1227.3,369.5L1227.4,366.6L1227.5,366.6L1227.7,367.3L1227.8,367.3L1227.9,369.5L1227.9,368.0L1228.0,368.0L1228.3,368.2L1228.6,367.6L1228.8,362.1L1229.1,358.7L1229.2,358.7L1229.2,369.5L1229.3,365.8L1229.4,365.8L1229.9,364.6L1230.2,364.1L1230.3,364.1L1230.3,369.5L1230.4,364.1L1230.6,364.1L1230.6,369.5L1230.7,364.3L1231.0,364.3L1231.6,362.7L1231.9,357.0L1232.1,353.2L1232.4,357.8L1232.5,357.8L1232.5,369.5L1232.6,360.9L1232.8,360.9L1232.8,369.5L1232.9,362.2L1233.0,362.2L1234.1,364.4L1234.3,365.6L1234.9,367.5L1235.0,367.5L1235.0,369.5L1235.1,368.4L1236.3,368.4L1236.5,368.3L1237.4,366.5L1237.4,366.5L1237.5,369.5L1237.5,365.9L1237.7,365.9L1237.8,369.5L1237.8,365.2L1238.0,365.2L1238.0,369.5L1238.1,364.6L1238.2,364.6L1238.5,364.1L1239.1,364.1L1239.1,369.5L1239.2,364.1L1239.6,364.1L1239.8,362.1L1240.1,358.7L1240.4,364.1L1240.7,365.0L1240.9,366.2L1241.2,361.3L1241.3,361.3L1241.3,369.5L1241.4,358.7L1241.5,358.7L1241.8,360.8L1242.0,358.7L1242.3,360.4L1242.9,363.7L1243.1,368.4L1243.4,367.4L1244.0,365.0L1244.2,364.1L1244.3,364.1L1244.4,369.5L1244.4,364.1L1245.1,364.1L1245.3,364.8L1245.6,366.1L1245.7,366.1L1245.7,369.5L1245.8,367.3L1245.9,367.3L1246.2,368.4L1246.7,368.4L1247.0,367.9L1248.1,365.2L1248.4,364.3L1248.9,361.0L1249.2,358.7L1249.3,358.7L1249.3,369.5L1249.4,358.7L1249.5,358.7L1249.7,362.3L1250.0,368.4L1250.6,368.4L1250.8,363.3L1250.9,363.3L1251.0,369.5L1251.0,361.3L1251.1,361.3L1251.4,358.7L1251.7,358.7L1251.9,365.0L1252.2,364.2L1252.5,364.7L1253.3,367.0L1253.4,367.0L1253.4,369.5L1253.5,367.7L1253.6,367.7L1253.9,368.4L1254.4,368.4L1254.7,364.1L1255.5,362.5L1255.8,360.4L1256.1,357.2L1256.3,353.2L1256.4,353.2L1256.5,369.5L1256.5,355.5L1256.6,355.5L1257.2,361.8L1257.4,363.0L1258.0,364.1L1258.3,368.1L1259.9,364.5L1260.2,364.4L1260.7,366.1L1260.8,366.1L1260.9,369.5L1260.9,367.0L1261.0,367.0L1261.3,367.9L1261.6,368.1L1262.4,365.2L1262.7,363.5L1262.7,363.5L1262.8,369.5L1262.8,362.1L1263.0,362.1L1263.1,369.5L1263.1,360.7L1263.2,360.7L1263.5,359.3L1263.6,359.3L1263.6,369.5L1263.7,357.9L1263.8,357.9L1264.0,356.5L1264.3,347.8L1264.6,357.6L1264.9,362.0L1265.1,363.9L1265.2,363.9L1265.3,369.5L1265.3,367.6L1265.4,367.6L1265.7,368.1L1266.0,368.4L1266.2,368.4L1266.8,367.3L1266.9,367.3L1266.9,369.5L1267.0,366.8L1267.1,366.8L1267.6,365.7L1267.7,365.7L1267.7,369.5L1267.8,365.1L1268.0,365.1L1268.0,369.5L1268.1,364.6L1268.2,364.6L1268.4,364.1L1268.5,364.1L1268.6,369.5L1268.6,364.7L1268.7,364.7L1269.0,365.2L1269.1,365.2L1269.1,369.5L1269.2,365.8L1269.3,365.8L1269.4,369.5L1269.4,366.3L1269.6,366.3L1269.7,369.5L1269.7,366.9L1269.8,366.9L1270.4,368.0L1270.6,368.4L1271.5,368.4L1271.7,367.8L1272.6,364.2L1272.8,364.1L1273.1,364.1L1274.8,368.4L1275.0,368.4L1275.6,368.4L1275.9,368.1L1276.1,366.8L1276.2,366.8L1276.3,369.5L1276.3,365.5L1276.4,365.5L1276.7,364.2L1277.2,367.5L1278.2,364.0L1278.7,309.5L1279.0,239.5L1279.6,231.5L1279.9,226.7L1280.0,283.8L1280.0,226.7L1280.2,223.5L1280.8,219.5L1281.3,212.5L1281.7,239.5L1282.0,259.5L1282.5,309.0L1283.1,317.5L1283.7,326.5L1284.3,339.5L1284.8,352.5L1285.2,356.2L1285.2,364.9L1285.3,356.2L1285.6,359.5L1286.0,361.4L1286.0,364.6L1286.1,361.4L1286.8,364.5L1288.0,367.5L1288.5,364.1L1288.6,364.1L1288.6,369.5L1288.7,364.1L1289.7,364.1L1289.7,369.5L1289.8,363.7L1289.9,363.7L1290.2,363.0L1290.4,359.3L1290.7,353.2L1290.8,353.2L1290.8,369.5L1290.9,356.1L1291.0,356.1L1291.3,360.6L1291.5,361.9L1292.6,364.5L1292.9,367.9L1293.2,368.4L1294.6,368.4L1294.8,367.9L1295.9,364.6L1296.2,364.1L1297.0,364.1L1297.3,365.0L1297.6,366.3L1297.7,366.3L1297.7,369.5L1297.8,367.6L1297.9,367.6L1298.1,368.4L1298.4,368.4L1298.7,368.1L1299.8,364.5L1300.1,364.1L1300.1,364.1L1300.2,369.5L1300.2,364.1L1300.3,364.1L1300.6,364.5L1300.7,364.5L1300.7,369.5L1300.8,365.1L1300.9,365.1L1302.3,368.3L1302.5,368.4L1303.4,368.4L1304.0,369.0L1305.7,361.5L1307.3,353.2L1307.8,355.9L1307.9,364.7L1307.9,355.9L1309.0,361.5L1310.8,368.5L1311.3,367.2L1311.4,367.2L1311.5,369.5L1311.5,366.2L1311.6,366.2L1312.2,364.1L1313.0,364.1L1313.3,364.5L1314.1,368.1L1314.4,368.4L1314.6,368.0L1315.7,364.7L1316.0,364.3L1316.8,367.4L1316.9,367.4L1317.0,369.5L1317.0,368.4L1317.1,368.4L1318.2,366.0L1318.3,366.0L1318.3,369.5L1318.4,365.4L1318.5,365.4L1319.0,364.2L1319.3,364.1L1319.6,364.1L1320.1,365.5L1320.2,365.5L1320.3,369.5L1320.3,366.2L1320.4,366.2L1321.2,368.4L1321.5,367.5L1321.6,367.5L1321.6,369.5L1321.7,366.5L1321.9,366.5L1321.9,369.5L1322.0,365.5L1322.1,365.5L1322.3,364.5L1322.6,364.1L1322.9,364.1L1323.2,364.5L1324.0,366.2L1324.3,363.3L1324.5,358.7L1324.8,360.4L1325.1,362.7L1325.4,364.2L1325.6,361.9L1325.9,358.7L1326.2,360.2L1326.5,362.5L1326.7,364.1L1327.0,364.1L1327.3,364.4L1328.1,367.9L1328.4,368.0L1328.7,367.3L1328.7,367.3L1328.8,369.5L1328.8,366.7L1328.9,366.7L1329.8,364.6L1330.0,364.1L1330.3,364.1L1330.6,364.3L1332.0,367.4L1332.2,364.1L1332.5,358.7L1332.8,364.1L1333.1,366.6L1333.9,364.3L1334.0,364.3L1334.0,369.5L1334.1,364.1L1336.4,364.1L1336.6,363.6L1336.7,363.6L1336.8,369.5L1336.8,358.7L1336.9,358.7L1337.2,360.2L1337.5,362.5L1337.7,363.3L1338.3,360.0L1338.6,358.7L1338.8,360.6L1339.1,362.0L1339.7,358.2L1339.9,347.8L1340.2,355.3L1340.5,359.9L1341.0,363.2L1341.3,366.2L1341.6,367.1L1341.7,367.1L1341.7,369.5L1341.8,368.0L1341.9,368.0L1342.1,368.4L1343.0,368.4L1343.2,367.9L1344.3,365.0L1344.4,365.0L1344.5,369.5L1344.5,364.3L1344.6,364.3L1344.9,364.1L1345.2,364.1L1345.4,363.6L1345.7,358.7L1346.0,362.1L1346.1,362.1L1346.1,369.5L1346.2,364.1L1346.5,364.1L1348.0,366.5L1351.0,369.2L1353.0,366.5L1354.5,364.1L1355.4,364.1L1355.5,369.5L1355.5,364.1L1355.6,364.1L1355.9,364.7L1357.0,368.1L1357.3,363.1L1357.5,361.5L1357.6,361.5L1357.7,369.5L1357.7,359.9L1357.8,359.9L1358.1,358.7L1358.4,360.7L1358.9,364.0L1359.2,365.6L1359.7,368.2L1360.0,368.4L1360.3,368.4L1360.6,363.7L1360.6,363.7L1360.7,369.5L1360.7,362.1L1360.9,362.1L1361.0,369.5L1361.0,360.4L1361.1,360.4L1361.4,358.7L1361.7,360.2L1361.7,360.2L1361.8,369.5L1361.8,361.8L1361.9,361.8L1362.2,363.4L1362.3,363.4L1362.3,369.5L1362.4,364.1L1363.7,364.1L1363.7,369.5L1363.8,364.1L1364.1,364.1L1364.4,364.6L1364.5,364.6L1364.5,369.5L1364.6,365.6L1364.7,365.6L1365.2,367.6L1365.5,368.3L1367.2,364.6L1367.4,364.2L1368.3,368.0L1368.5,368.4L1369.1,368.4L1369.4,367.6L1369.6,363.3L1370.2,360.0L1370.5,358.7L1370.7,364.5L1371.3,366.1L1371.4,366.1L1371.4,369.5L1371.5,366.9L1371.6,366.9L1371.7,369.5L1371.7,367.7L1371.8,367.7L1372.1,368.3L1372.9,364.9L1373.2,364.1L1373.6,364.1L1373.6,369.5L1373.7,364.4L1373.8,364.4L1374.3,365.9L1374.4,365.9L1374.4,369.5L1374.5,366.6L1374.7,366.6L1374.7,369.5L1374.8,367.3L1374.9,367.3L1375.1,368.0L1375.4,368.1L1376.0,366.6L1376.0,366.6L1376.1,369.5L1376.1,362.3L1376.3,362.3L1376.4,369.5L1376.4,358.7L1376.5,358.7L1377.1,363.3L1377.3,363.9L1377.6,363.0L1377.9,353.2L1378.0,353.2L1378.0,369.5L1378.1,361.3L1378.2,361.3L1378.4,360.8L1378.7,362.1L1378.8,362.1L1378.8,369.5L1378.9,363.0L1379.0,363.0L1379.3,363.9L1379.5,365.3L1379.6,365.3L1379.7,369.5L1379.7,365.9L1379.8,365.9L1380.9,368.1L1381.2,368.4L1381.7,368.4L1382.0,367.7L1382.6,365.6L1382.6,365.6L1382.7,369.5L1382.7,364.5L1382.9,364.5L1383.0,369.5L1383.0,364.1L1385.1,364.1L1385.2,369.5L1385.2,362.1L1385.3,362.1L1385.6,358.7L1385.7,358.7L1385.7,369.5L1385.8,360.6L1385.9,360.6L1386.0,369.5L1386.0,364.3L1386.2,364.3L1386.3,369.5L1386.3,366.1L1386.4,366.1L1386.7,367.3L1387.0,368.4L1388.3,368.4L1389.4,365.4L1389.7,362.9L1389.8,362.9L1389.8,369.5L1389.9,360.6L1390.1,360.6L1390.1,369.5L1390.2,358.7L1390.3,358.7L1390.5,361.4L1390.6,361.4L1390.7,369.5L1390.7,361.4L1390.8,361.4L1391.1,356.9L1391.4,353.2L1391.6,362.0L1391.7,362.0L1391.8,369.5L1391.8,362.9L1391.9,362.9L1392.2,363.6L1392.5,362.9L1392.7,359.8L1392.8,359.8L1392.9,369.5L1392.9,356.7L1393.0,356.7L1393.3,353.2L1393.6,359.6L1393.8,361.5L1394.1,362.3L1394.2,362.3L1394.2,369.5L1394.3,363.1L1394.4,363.1L1394.7,363.9L1394.9,364.1L1395.8,364.1L1395.9,369.5L1395.9,364.7L1396.0,364.7L1396.6,366.9L1396.7,366.9L1396.7,369.5L1396.8,368.1L1396.9,368.1L1397.1,368.4L1398.0,368.4L1398.2,367.8L1399.6,364.1L1399.9,364.8L1400.2,365.5L1400.4,363.6L1400.5,363.6L1400.6,369.5L1400.6,361.2L1400.8,361.2L1400.8,369.5L1400.9,358.7L1401.0,358.7L1401.3,360.2L1401.5,361.8L1401.6,361.8L1401.7,369.5L1401.7,359.7L1401.8,359.7L1402.1,353.2L1402.4,358.9L1402.6,360.8L1402.9,362.0L1403.7,364.6L1404.0,366.9L1404.3,367.8L1404.6,368.2L1405.4,366.6L1405.5,366.6L1405.5,369.5L1405.6,366.0L1405.7,366.0L1406.2,364.9L1406.3,364.9L1406.3,369.5L1406.4,364.4L1406.5,364.4L1406.8,364.1L1407.0,364.1L1407.3,364.5L1408.1,366.3L1408.2,366.3L1408.3,369.5L1408.3,366.9L1408.5,366.9L1408.5,369.5L1408.6,367.5L1408.7,367.5L1409.0,368.1L1409.2,368.4L1409.5,368.4L1409.8,367.7L1410.6,364.3L1410.9,364.1L1411.2,364.1L1411.4,364.1L1411.7,358.7L1412.3,361.9L1412.5,362.7L1412.8,360.4L1412.9,360.4L1412.9,369.5L1413.0,358.7L1413.1,358.7L1413.4,361.6L1413.6,359.3L1413.9,353.2L1414.2,355.2L1414.3,355.2L1414.3,369.5L1414.4,358.4L1414.5,358.4L1414.7,361.5L1415.0,363.1L1415.6,364.2L1415.8,364.3L1416.4,365.6L1416.5,365.6L1416.5,369.5L1416.6,366.3L1416.7,366.3L1416.8,369.5L1416.8,366.9L1416.9,366.9L1417.5,368.2L1418.0,364.1L1419.5,364.1L1421.3,369.4L1421.3,369.5 Z" fill="#0000ff" stroke="#00008b" stroke-width="0.7" stroke-linejoin="miter" stroke-miterlimit="2"/>
<path d="M259.1,213.6 H271 V369.8 H259.1" fill="none" stroke="#4d4d4d" stroke-width="1.2"/>
<text transform="translate(251.90,216.90) scale(1,1.060)" font-size="12" text-anchor="end">20</text>
<text transform="translate(251.90,373.10) scale(1,1.060)" font-size="12" text-anchor="end">0</text>
<text transform="translate(73.30,297.50) scale(1,1.060)" font-size="23.6">GSM1670896</text>
<path d="M273.4,542.53L274.2,542.80L275.8,543.23L276.6,543.30L277.4,543.25L278.2,543.11L279.0,542.92L281.4,542.57L282.2,542.58L283.0,542.63L283.8,542.66L284.6,542.64L285.4,542.55L286.2,542.40L287.8,542.09L288.6,542.04L289.4,542.09L290.2,542.26L291.0,542.51L291.8,542.79L292.6,543.03L295.0,543.16L300.6,542.79L301.4,542.79L302.2,542.71L304.6,542.16L305.4,542.02L306.2,541.98L307.0,542.06L307.8,542.25L308.6,542.50L309.4,542.77L310.2,542.98L311.0,543.10L311.8,543.11L312.6,543.04L313.4,542.93L314.2,542.83L315.0,542.78L316.6,542.84L317.4,542.91L318.2,542.94L319.0,542.91L319.8,542.78L320.6,542.57L321.4,542.33L322.2,542.12L323.0,541.98L323.8,541.96L324.6,542.06L329.4,542.97L330.2,542.91L331.0,542.83L331.8,542.79L333.4,542.87L334.2,542.97L335.0,543.06L335.8,543.08L336.6,543.00L337.4,542.83L339.0,542.32L339.8,542.10L340.6,541.98L341.4,541.98L342.2,542.09L343.0,542.29L343.8,542.50L344.6,542.69L345.4,542.81L346.2,542.84L347.0,542.82L347.8,542.76L348.6,542.73L349.4,542.74L351.0,542.96L351.8,543.09L352.6,543.18L353.4,543.18L354.2,543.07L355.0,542.86L355.8,542.59L356.6,542.33L358.2,542.02L359.8,542.16L360.6,542.33L361.4,542.51L362.2,542.64L363.8,542.69L364.6,542.65L365.4,542.61L366.2,542.62L367.0,542.71L367.8,542.85L368.6,543.03L369.4,543.19L371.0,543.25L371.8,543.11L372.6,542.88L373.4,542.60L374.2,542.35L375.8,542.10L376.6,542.13L377.4,542.25L378.2,542.39L379.0,542.51L379.8,542.58L380.6,542.58L383.8,542.53L384.6,542.67L385.4,542.87L386.2,543.09L387.0,543.26L387.8,543.33L388.6,543.29L389.4,543.12L390.2,542.88L391.0,542.62L391.8,542.39L393.4,542.21L394.2,542.26L395.0,542.35L396.6,542.51L397.4,542.51L398.2,542.45L399.0,542.38L399.8,542.33L400.6,542.35L401.4,542.46L402.2,542.65L403.0,542.89L403.8,543.12L404.6,543.29L405.4,543.35L406.2,543.28L407.0,543.11L407.8,542.88L409.4,542.46L410.2,542.36L411.0,542.35L411.8,542.40L412.6,542.47L413.4,542.52L414.2,542.51L415.0,542.44L415.8,542.33L416.6,542.24L417.4,542.19L418.2,542.24L419.0,542.40L420.6,542.90L421.4,543.13L422.2,543.29L423.0,543.33L423.8,543.24L424.6,543.07L425.4,542.86L426.2,542.67L427.0,542.54L431.0,542.58L431.8,542.50L432.6,542.37L433.4,542.23L434.2,542.12L435.0,542.09L435.8,542.17L436.6,542.36L437.4,542.62L438.2,542.89L441.4,543.17L442.2,543.01L443.0,542.84L443.8,542.71L444.6,542.64L445.4,542.63L446.2,542.67L447.0,542.71L448.6,542.64L449.4,542.50L450.2,542.32L451.0,542.14L451.8,542.03L452.6,542.01L453.4,542.12L454.2,542.34L455.0,542.60L455.8,542.87L456.6,543.07L458.2,543.16L459.0,543.07L459.8,542.94L460.6,542.82L461.4,542.75L463.0,542.78L463.8,542.84L464.6,542.86L465.4,542.82L466.2,542.69L467.8,542.27L468.6,542.08L469.4,541.97L470.2,541.98L471.0,542.11L471.8,542.33L472.6,542.59L473.4,542.83L474.2,542.99L475.0,543.06L475.8,543.04L476.6,542.95L477.4,542.86L478.2,542.80L479.0,542.79L479.8,542.85L480.6,542.93L481.4,542.99L482.2,543.00L483.0,542.91L483.8,542.73L487.0,541.96L489.4,542.35L490.2,542.58L491.0,542.78L491.8,542.90L492.6,542.92L494.2,542.82L495.0,542.77L495.8,542.78L498.2,543.06L499.0,543.13L499.8,543.11L500.6,542.98L501.4,542.76L502.2,542.49L503.0,542.24L503.8,542.05L504.6,541.98L505.4,542.03L506.2,542.18L507.0,542.38L507.8,542.57L508.6,542.71L509.4,542.78L511.0,542.73L511.8,542.68L512.6,542.69L513.4,542.76L514.2,542.89L515.0,543.05L515.8,543.18L516.6,543.24L517.4,543.19L518.2,543.02L519.0,542.78L519.8,542.50L522.2,542.05L523.0,542.11L523.8,542.25L524.6,542.41L527.0,542.64L527.8,542.61L528.6,542.56L529.4,542.55L530.2,542.61L531.0,542.75L531.8,542.93L532.6,543.12L533.4,543.26L534.2,543.31L535.0,543.23L535.8,543.04L537.4,542.52L538.2,542.30L539.0,542.17L540.6,542.22L541.4,542.34L542.2,542.45L543.0,542.53L543.8,542.54L544.6,542.50L545.4,542.44L546.2,542.41L547.0,542.43L547.8,542.55L548.6,542.74L551.0,543.31L551.8,543.34L552.6,543.24L553.4,543.04L554.2,542.79L555.0,542.55L555.8,542.37L556.6,542.28L557.4,542.28L558.2,542.35L559.0,542.43L559.8,542.50L560.6,542.51L561.4,542.45L562.2,542.37L563.0,542.29L563.8,542.27L564.6,542.33L565.4,542.49L566.2,542.73L567.0,542.98L567.8,543.20L568.6,543.33L569.4,543.33L571.8,542.79L572.6,542.59L573.4,542.45L574.2,542.41L575.0,542.43L575.8,542.49L576.6,542.54L577.4,542.54L578.2,542.48L579.0,542.37L579.8,542.24L580.6,542.16L581.4,542.15L582.2,542.26L583.8,542.72L584.6,542.98L585.4,543.19L586.2,543.30L587.0,543.28L587.8,543.16L588.6,542.98L589.4,542.79L590.2,542.64L591.0,542.56L591.8,542.56L592.6,542.60L593.4,542.64L594.2,542.64L595.0,542.58L595.8,542.45L596.6,542.29L597.4,542.14L599.0,542.07L599.8,542.20L600.6,542.43L601.4,542.71L602.2,542.97L603.0,543.15L603.8,543.23L604.6,543.20L605.4,543.08L606.2,542.93L607.8,542.70L608.6,542.68L609.4,542.71L610.2,542.76L611.0,542.78L611.8,542.73L612.6,542.61L613.4,542.43L614.2,542.22L615.0,542.06L615.8,541.98L616.6,542.02L617.4,542.18L618.2,542.42L619.0,542.69L619.8,542.93L620.6,543.08L621.4,543.13L622.2,543.09L623.0,542.98L625.4,542.77L626.2,542.81L627.0,542.87L627.8,542.92L628.6,542.91L629.4,542.82L630.2,542.64L631.8,542.18L633.4,541.95L638.2,542.98L639.0,543.00L639.8,542.95L640.6,542.87L641.4,542.80L642.2,542.79L643.0,542.84L643.8,542.93L644.6,543.02L645.4,543.06L646.2,543.02L647.0,542.88L648.6,542.40L649.4,542.16L650.2,542.00L651.0,541.96L652.6,542.22L653.4,542.44L654.2,542.64L655.0,542.79L655.8,542.86L656.6,542.85L657.4,542.80L658.2,542.75L659.0,542.74L661.4,543.04L662.2,543.15L663.0,543.18L663.8,543.11L665.4,542.67L666.2,542.40L667.0,542.17L667.8,542.03L668.6,542.01L669.4,542.10L670.2,542.27L671.0,542.45L671.8,542.61L672.6,542.70L673.4,542.72L674.2,542.68L675.0,542.64L675.8,542.63L676.6,542.68L680.6,543.26L681.4,543.16L682.2,542.95L683.0,542.69L683.8,542.42L684.6,542.21L685.4,542.10L686.2,542.10L687.0,542.19L687.8,542.34L688.6,542.48L689.4,542.57L690.2,542.60L691.0,542.57L691.8,542.52L692.6,542.49L693.4,542.52L694.2,542.63L695.0,542.81L695.8,543.02L699.0,543.18L699.8,542.96L700.6,542.70L701.4,542.45L702.2,542.27L703.0,542.20L703.8,542.22L704.6,542.31L707.0,542.52L707.8,542.49L708.6,542.42L709.4,542.36L710.2,542.35L711.0,542.42L711.8,542.59L712.6,542.82L714.2,543.25L715.0,543.34L715.8,543.32L716.6,543.17L717.4,542.95L718.2,542.71L719.0,542.50L719.8,542.37L720.6,542.33L723.0,542.50L723.8,542.52L724.6,542.47L727.8,542.23L728.6,542.35L729.4,542.56L730.2,542.82L731.0,543.07L731.8,543.26L732.6,543.33L734.2,543.14L735.0,542.93L735.8,542.72L738.2,542.48L739.0,542.52L739.8,542.57L740.6,542.58L741.4,542.53L742.2,542.42L743.0,542.28L743.8,539.60L744.6,542.10L745.4,539.10L746.2,542.30L747.0,540.10L747.8,542.81L748.6,543.06L749.4,543.23L750.2,543.28L751.0,543.22L751.8,543.07L753.4,542.74L754.2,542.64L755.0,542.61L755.8,542.64L756.6,542.68L757.4,542.70L758.2,542.66L759.0,542.55L759.8,542.38L760.6,542.20L761.4,542.06L762.2,542.01L763.0,542.08L766.2,543.02L767.0,543.16L767.8,543.19L768.6,543.12L769.4,542.99L770.2,542.86L771.8,542.73L772.6,542.75L773.4,542.80L774.2,542.84L775.0,542.83L775.8,542.73L776.6,542.56L777.4,542.34L779.0,542.00L779.8,541.97L780.6,542.06L781.4,542.26L782.2,542.52L783.0,542.77L783.8,542.96L784.6,543.07L785.4,543.07L787.8,542.82L788.6,542.79L789.4,542.82L790.2,542.89L791.0,542.96L791.8,542.99L792.6,542.93L793.4,542.78L794.2,542.56L795.0,542.32L795.8,542.10L796.6,541.97L797.4,541.96L798.2,542.07L799.0,542.28L799.8,542.51L800.6,542.73L801.4,542.88L802.2,542.94L803.0,542.92L803.8,542.86L804.6,542.80L808.6,543.10L809.4,543.11L810.2,543.02L811.0,542.83L811.8,542.57L812.6,542.31L813.4,542.10L814.2,541.99L816.6,542.31L817.4,542.51L818.2,542.68L819.0,542.78L819.8,542.80L820.6,542.76L821.4,542.71L822.2,542.69L823.0,541.30L823.8,542.84L825.4,543.13L826.2,543.22L827.8,543.08L828.6,542.85L829.4,542.58L830.2,542.32L831.0,542.13L832.6,542.07L833.4,542.19L834.2,542.36L835.0,542.52L835.8,542.62L836.6,542.66L837.4,542.64L839.8,542.60L840.6,542.70L841.4,542.87L842.2,543.06L843.0,543.22L843.8,543.30L847.8,542.35L848.6,542.19L849.4,542.13L850.2,542.17L851.0,542.28L851.8,542.41L853.4,542.56L854.2,542.54L855.0,542.48L855.8,542.43L856.6,542.43L857.4,542.51L858.2,542.68L859.0,542.89L859.8,543.11L860.6,543.28L861.4,543.34L862.2,543.28L863.0,543.11L863.8,542.87L864.6,542.61L865.4,542.40L866.2,542.28L867.0,542.25L867.8,542.30L868.6,542.39L869.4,542.48L870.2,542.51L871.8,542.41L872.6,542.33L874.2,542.32L875.0,542.44L875.8,542.65L876.6,542.91L877.4,543.14L878.2,543.30L879.0,543.35L879.8,543.27L880.6,543.09L881.4,542.86L882.2,542.64L883.0,542.48L884.6,542.40L885.4,542.45L886.2,542.51L887.0,542.54L887.8,542.50L888.6,542.41L889.4,542.29L890.2,542.19L891.0,542.16L891.8,542.22L892.6,542.39L893.4,542.64L894.2,542.91L895.0,543.14L895.8,543.28L896.6,543.31L897.4,543.22L898.2,543.05L899.0,542.85L899.8,542.67L900.6,542.56L901.4,542.53L902.2,542.56L903.0,542.61L903.8,542.63L904.6,542.60L905.4,542.50L906.2,542.35L907.0,542.19L908.6,542.06L909.4,542.16L910.2,542.36L911.0,542.63L911.8,542.90L912.6,543.11L913.4,543.23L914.2,543.23L915.0,543.14L915.8,542.98L916.6,542.83L917.4,542.71L918.2,542.67L919.0,542.68L919.8,542.73L920.6,542.76L921.4,542.74L922.2,542.65L923.0,542.49L923.8,542.29L924.6,542.11L927.8,542.35L928.6,542.61L929.4,542.87L930.2,543.06L931.0,543.14L931.8,543.12L932.6,543.03L933.4,542.91L934.2,542.81L935.0,542.76L935.8,542.78L936.6,542.83L937.4,542.89L939.0,542.84L939.8,542.69L940.6,542.48L941.4,542.25L942.2,542.06L944.6,542.12L945.4,542.35L946.2,542.60L947.0,542.83L947.8,542.97L948.6,543.02L949.4,542.99L951.0,542.83L955.0,543.04L955.8,543.03L956.6,542.92L957.4,542.73L958.2,542.48L959.0,542.23L959.8,542.04L960.6,541.96L961.4,542.00L962.2,542.15L963.8,542.59L964.6,542.77L965.4,542.86L966.2,542.88L967.0,542.83L967.8,542.78L968.6,542.75L969.4,542.77L971.8,543.11L972.6,543.17L973.4,543.13L975.0,542.75L975.8,542.48L976.6,542.23L977.4,542.06L978.2,542.00L979.0,542.06L979.8,542.21L980.6,542.40L981.4,542.57L982.2,542.69L983.0,542.74L983.8,542.72L984.6,542.67L985.4,542.64L986.2,542.67L987.0,542.76L987.8,542.91L988.6,543.08L989.4,543.21L990.2,543.26L991.0,543.20L991.8,543.02L992.6,542.77L993.4,542.49L994.2,542.26L995.0,542.11L995.8,542.08L996.6,542.15L997.4,542.28L998.2,542.43L999.0,542.55L999.8,542.61L1000.6,542.60L1001.4,542.55L1003.0,542.52L1003.8,542.60L1006.2,543.15L1007.0,543.29L1007.8,543.32L1008.6,543.23L1009.4,543.03L1010.2,542.78L1011.0,542.51L1011.8,542.31L1012.6,542.20L1013.4,542.19L1014.2,542.26L1015.0,542.37L1015.8,542.47L1016.6,542.52L1017.4,542.51L1018.2,542.46L1019.0,542.39L1020.6,542.40L1021.4,542.54L1023.0,542.98L1024.6,543.33L1025.4,543.34L1026.2,543.23L1027.0,543.03L1030.2,542.31L1031.0,542.33L1031.8,542.39L1032.6,542.47L1033.4,542.51L1034.2,542.49L1035.0,542.42L1035.8,542.32L1036.6,542.24L1037.4,542.23L1038.2,542.31L1039.0,542.49L1039.8,542.74L1040.6,543.00L1042.2,543.33L1044.6,543.00L1045.4,542.78L1046.2,542.60L1047.0,542.48L1048.6,542.48L1049.4,542.54L1050.2,542.57L1051.0,542.55L1051.8,542.46L1052.6,542.33L1053.4,542.20L1054.2,542.12L1055.0,542.13L1055.8,542.25L1058.2,542.99L1059.0,543.19L1059.8,543.28L1060.6,543.26L1061.4,543.13L1062.2,542.96L1063.0,542.78L1063.8,540.90L1064.6,542.60L1065.4,542.61L1066.2,540.90L1067.0,542.68L1067.8,542.67L1068.6,542.58L1069.0,542.51L1070.4,537.10L1071.3,533.90L1072.4,534.30L1073.2,540.60L1074.5,542.54L1075.0,542.72L1076.0,543.02L1077.5,540.90L1079.0,543.05L1083.0,542.77L1085.5,541.60L1086.7,539.90L1088.0,542.15L1090.0,542.00L1091.5,540.90L1093.3,539.90L1094.5,540.30L1095.5,543.07L1096.6,542.94L1097.4,542.84L1098.2,542.79L1099.0,542.79L1099.8,542.85L1100.6,542.92L1101.4,542.97L1102.2,542.94L1103.0,542.83L1103.8,542.63L1104.6,542.39L1105.4,542.16L1106.2,542.00L1107.5,541.98L1108.7,541.60L1110.7,538.90L1111.1,539.06L1111.1,542.88L1111.2,539.06L1111.8,539.30L1112.6,538.18L1112.6,541.38L1112.6,538.18L1113.3,537.20L1113.7,537.85L1113.7,539.95L1113.8,537.85L1114.7,539.30L1115.6,541.10L1116.7,542.88L1117.4,542.97L1118.2,543.07L1119.0,543.10L1120.6,542.89L1121.4,542.65L1122.2,542.38L1125.4,542.06L1126.2,542.24L1127.0,542.45L1127.8,542.64L1128.6,542.77L1132.0,542.71L1134.0,540.90L1135.0,543.08L1137.5,543.10L1140.0,538.90L1141.5,541.30L1142.8,542.10L1144.0,541.60L1145.0,537.10L1146.0,531.30L1147.3,530.60L1148.1,525.10L1148.7,519.90L1149.4,524.10L1149.7,524.83L1149.7,536.71L1149.7,524.83L1150.0,525.50L1151.0,522.10L1152.0,519.90L1152.5,518.11L1152.6,543.16L1152.6,518.11L1153.2,516.10L1153.7,515.08L1153.7,533.29L1153.7,515.08L1154.3,513.90L1155.0,516.10L1155.2,517.31L1155.2,534.07L1155.3,517.31L1155.6,519.30L1155.8,519.87L1155.8,542.95L1155.8,519.87L1156.2,521.10L1156.7,529.90L1157.4,531.10L1158.0,538.70L1159.3,541.10L1160.7,542.25L1162.2,542.49L1163.0,542.56L1163.8,542.56L1164.6,542.52L1165.4,542.46L1166.2,542.44L1167.0,542.49L1168.6,542.82L1169.4,543.05L1170.2,543.23L1171.0,543.33L1171.8,543.31L1172.6,543.17L1173.4,542.95L1174.2,542.69L1175.0,542.45L1175.8,542.29L1176.6,542.23L1177.4,542.26L1178.2,542.35L1179.0,542.45L1179.8,542.50L1180.6,542.50L1181.4,542.45L1182.2,542.37L1183.0,542.31L1183.8,542.31L1184.6,542.41L1185.4,542.59L1186.2,542.83L1187.0,543.07L1187.8,543.26L1188.6,543.35L1189.4,543.31L1190.2,543.16L1191.0,542.93L1191.8,542.70L1192.6,542.51L1193.4,542.40L1194.2,542.37L1195.0,542.41L1195.8,542.48L1196.6,542.53L1197.4,542.52L1198.2,542.45L1199.0,542.34L1199.8,542.23L1200.6,542.17L1203.8,542.83L1204.6,543.08L1205.4,543.26L1206.2,543.32L1207.0,543.26L1207.8,543.11L1208.6,542.91L1210.2,542.58L1211.0,542.52L1211.8,542.53L1212.6,542.57L1215.8,542.40L1216.6,542.24L1217.4,542.12L1218.2,542.07L1219.0,542.13L1219.8,542.30L1220.6,542.54L1221.4,542.82L1222.5,543.13L1223.5,540.30L1225.0,539.90L1226.0,540.70L1227.3,539.90L1228.7,540.50L1230.0,542.73L1231.0,542.74L1231.8,542.68L1232.6,542.54L1233.4,542.35L1234.2,542.17L1235.0,542.03L1235.8,542.00L1236.6,542.08L1237.4,542.27L1238.2,542.53L1239.0,542.80L1239.8,543.02L1240.6,543.14L1242.2,543.08L1244.6,542.77L1245.4,542.75L1246.2,542.80L1247.0,542.86L1247.8,542.89L1248.6,542.86L1249.4,542.74L1250.2,542.55L1251.0,542.32L1253.4,541.96L1254.2,542.07L1255.0,542.28L1256.0,542.59L1257.4,540.50L1258.2,539.20L1259.2,540.50L1260.5,542.87L1262.5,542.81L1264.3,542.99L1266.0,537.60L1267.4,532.90L1268.0,534.07L1268.0,542.48L1268.1,534.07L1268.6,535.10L1269.8,533.90L1270.1,533.05L1270.1,539.58L1270.2,533.05L1270.5,532.10L1271.2,527.30L1271.7,520.65L1271.7,542.08L1271.8,520.65L1272.0,517.10L1272.5,507.49L1272.6,530.64L1272.6,507.49L1273.0,500.10L1273.8,488.10L1274.1,483.24L1274.2,542.72L1274.2,483.24L1274.7,475.60L1275.3,463.10L1275.9,449.60L1276.5,439.10L1276.7,434.69L1276.7,505.16L1276.7,434.69L1277.0,427.10L1277.5,422.10L1277.9,415.10L1278.3,386.90L1278.7,417.10L1278.9,425.10L1279.6,445.10L1279.9,454.24L1279.9,489.79L1280.0,454.24L1280.2,461.10L1280.4,452.66L1280.4,488.83L1280.5,452.66L1280.7,443.10L1281.0,430.81L1281.0,543.00L1281.0,430.81L1281.3,417.30L1281.7,427.10L1282.2,435.60L1282.8,421.10L1283.4,408.10L1284.0,413.10L1284.6,417.30L1285.1,431.10L1285.6,448.10L1286.5,474.10L1287.1,491.10L1287.4,501.46L1287.5,528.52L1287.5,501.46L1287.7,508.40L1288.3,523.10L1288.9,534.40L1290.0,538.60L1291.2,540.10L1292.8,541.10L1294.6,538.90L1295.6,542.66L1296.5,542.72L1297.4,542.86L1298.2,543.02L1299.0,543.17L1299.8,543.25L1300.6,543.22L1306.2,542.10L1307.0,542.23L1307.8,542.38L1308.6,542.52L1309.4,542.61L1311.8,542.54L1312.6,542.52L1313.4,542.57L1314.2,542.70L1315.0,542.89L1316.6,543.25L1317.4,543.32L1318.2,543.27L1319.0,543.10L1319.8,542.86L1320.6,542.59L1321.4,542.35L1322.2,542.21L1323.0,542.16L1323.8,542.22L1324.6,542.32L1325.4,542.44L1326.2,542.52L1327.0,541.30L1327.8,542.49L1328.6,542.43L1329.4,542.38L1330.2,542.40L1333.4,543.13L1334.2,543.30L1335.0,543.35L1335.8,543.28L1336.6,543.10L1337.4,542.85L1339.0,542.42L1339.8,542.31L1340.6,542.30L1341.4,542.35L1342.2,542.44L1343.0,542.50L1346.2,542.28L1347.0,542.24L1347.8,542.29L1348.6,542.44L1349.4,542.66L1351.0,543.15L1351.8,543.30L1352.6,543.34L1353.4,543.25L1354.2,543.07L1355.0,542.85L1356.0,542.60L1358.0,541.60L1359.4,539.60L1360.0,538.21L1360.0,541.39L1360.0,538.21L1360.6,536.90L1361.1,537.21L1361.1,541.04L1361.2,537.21L1361.8,537.60L1362.4,536.61L1362.4,540.83L1362.4,536.61L1363.2,535.30L1363.9,534.60L1364.4,531.10L1364.9,536.10L1365.4,538.60L1366.8,540.60L1368.5,541.30L1370.5,540.50L1372.2,539.20L1373.5,541.10L1375.5,542.60L1376.6,542.66L1377.4,542.67L1378.2,542.61L1379.0,542.49L1379.8,542.32L1380.6,542.15L1381.4,542.05L1382.2,542.04L1383.0,542.15L1383.8,542.37L1384.6,542.64L1385.4,542.90L1387.8,543.20L1388.6,543.10L1389.4,542.95L1390.2,542.82L1391.0,542.73L1392.0,542.70L1394.4,540.40L1396.0,542.62L1399.0,541.98L1402.5,542.72L1404.0,539.90L1404.9,538.21L1405.0,540.17L1405.0,538.21L1405.7,536.90L1406.1,537.80L1406.1,541.25L1406.1,537.80L1406.6,538.90L1407.4,537.90L1408.3,542.78L1410.0,542.87L1411.4,536.90L1412.3,542.91L1413.8,541.30L1415.2,538.90L1416.0,538.10L1416.6,535.90L1416.9,531.38L1416.9,536.07L1417.0,531.38L1417.1,529.10L1417.5,522.30L1417.8,523.31L1417.8,531.22L1417.9,523.31L1418.1,524.10L1418.7,522.90L1418.9,521.13L1419.0,542.35L1419.0,521.13L1419.1,520.10L1419.5,516.90L1420.0,510.10L1420.2,507.49L1420.2,542.73L1420.2,507.49L1420.4,505.30L1421.0,508.10L1421.6,512.10L1421.9,523.10L1422.2,529.10L1423.0,538.10L1423.5,539.10L1423.5,543.10L1420.2,543.10L1420.2,542.73L1420.2,543.10L1419.0,543.10L1419.0,542.35L1418.9,543.10L1413.8,543.10L1412.3,542.91L1411.4,543.10L1411.4,543.10L1410.0,542.87L1408.3,542.78L1407.4,543.10L1404.0,543.10L1402.5,542.72L1399.0,541.98L1396.0,542.62L1394.4,543.10L1394.4,543.10L1392.0,542.70L1391.0,542.73L1390.2,542.82L1389.4,542.95L1388.6,543.10L1387.8,543.20L1385.4,542.90L1384.6,542.64L1383.8,542.37L1383.0,542.15L1382.2,542.04L1381.4,542.05L1380.6,542.15L1379.8,542.32L1379.0,542.49L1378.2,542.61L1377.4,542.67L1376.6,542.66L1375.5,542.60L1373.5,543.10L1358.0,543.10L1356.0,542.60L1355.0,542.85L1354.2,543.07L1353.4,543.25L1352.6,543.34L1351.8,543.30L1351.0,543.15L1349.4,542.66L1348.6,542.44L1347.8,542.29L1347.0,542.24L1346.2,542.28L1343.0,542.50L1342.2,542.44L1341.4,542.35L1340.6,542.30L1339.8,542.31L1339.0,542.42L1337.4,542.85L1336.6,543.10L1335.8,543.28L1335.0,543.35L1334.2,543.30L1333.4,543.13L1330.2,542.40L1329.4,542.38L1328.6,542.43L1327.8,542.49L1327.0,543.10L1327.0,543.10L1326.2,542.52L1325.4,542.44L1324.6,542.32L1323.8,542.22L1323.0,542.16L1322.2,542.21L1321.4,542.35L1320.6,542.59L1319.8,542.86L1319.0,543.10L1318.2,543.27L1317.4,543.32L1316.6,543.25L1315.0,542.89L1314.2,542.70L1313.4,542.57L1312.6,542.52L1311.8,542.54L1309.4,542.61L1308.6,542.52L1307.8,542.38L1307.0,542.23L1306.2,542.10L1300.6,543.22L1299.8,543.25L1299.0,543.17L1298.2,543.02L1297.4,542.86L1296.5,542.72L1295.6,542.66L1294.6,543.10L1281.0,543.10L1281.0,543.00L1281.0,543.10L1274.2,543.10L1274.2,542.72L1274.1,543.10L1271.8,543.10L1271.7,542.08L1271.7,543.10L1268.1,543.10L1268.0,542.48L1268.0,543.10L1266.0,543.10L1264.3,542.99L1262.5,542.81L1260.5,542.87L1259.2,543.10L1257.4,543.10L1256.0,542.59L1255.0,542.28L1254.2,542.07L1253.4,541.96L1251.0,542.32L1250.2,542.55L1249.4,542.74L1248.6,542.86L1247.8,542.89L1247.0,542.86L1246.2,542.80L1245.4,542.75L1244.6,542.77L1242.2,543.08L1240.6,543.14L1239.8,543.02L1239.0,542.80L1238.2,542.53L1237.4,542.27L1236.6,542.08L1235.8,542.00L1235.0,542.03L1234.2,542.17L1233.4,542.35L1232.6,542.54L1231.8,542.68L1231.0,542.74L1230.0,542.73L1228.7,543.10L1223.5,543.10L1222.5,543.13L1221.4,542.82L1220.6,542.54L1219.8,542.30L1219.0,542.13L1218.2,542.07L1217.4,542.12L1216.6,542.24L1215.8,542.40L1212.6,542.57L1211.8,542.53L1211.0,542.52L1210.2,542.58L1208.6,542.91L1207.8,543.11L1207.0,543.26L1206.2,543.32L1205.4,543.26L1204.6,543.08L1203.8,542.83L1200.6,542.17L1199.8,542.23L1199.0,542.34L1198.2,542.45L1197.4,542.52L1196.6,542.53L1195.8,542.48L1195.0,542.41L1194.2,542.37L1193.4,542.40L1192.6,542.51L1191.8,542.70L1191.0,542.93L1190.2,543.16L1189.4,543.31L1188.6,543.35L1187.8,543.26L1187.0,543.07L1186.2,542.83L1185.4,542.59L1184.6,542.41L1183.8,542.31L1183.0,542.31L1182.2,542.37L1181.4,542.45L1180.6,542.50L1179.8,542.50L1179.0,542.45L1178.2,542.35L1177.4,542.26L1176.6,542.23L1175.8,542.29L1175.0,542.45L1174.2,542.69L1173.4,542.95L1172.6,543.17L1171.8,543.31L1171.0,543.33L1170.2,543.23L1169.4,543.05L1168.6,542.82L1167.0,542.49L1166.2,542.44L1165.4,542.46L1164.6,542.52L1163.8,542.56L1163.0,542.56L1162.2,542.49L1160.7,542.25L1159.3,543.10L1155.8,543.10L1155.8,542.95L1155.8,543.10L1152.6,543.10L1152.6,543.16L1152.5,543.10L1144.0,543.10L1142.8,542.10L1141.5,543.10L1140.0,543.10L1137.5,543.10L1135.0,543.08L1134.0,543.10L1134.0,543.10L1132.0,542.71L1128.6,542.77L1127.8,542.64L1127.0,542.45L1126.2,542.24L1125.4,542.06L1122.2,542.38L1121.4,542.65L1120.6,542.89L1119.0,543.10L1118.2,543.07L1117.4,542.97L1116.7,542.88L1115.6,543.10L1111.2,543.10L1111.1,542.88L1111.1,543.10L1108.7,543.10L1107.5,541.98L1106.2,542.00L1105.4,542.16L1104.6,542.39L1103.8,542.63L1103.0,542.83L1102.2,542.94L1101.4,542.97L1100.6,542.92L1099.8,542.85L1099.0,542.79L1098.2,542.79L1097.4,542.84L1096.6,542.94L1095.5,543.07L1094.5,543.10L1091.5,543.10L1090.0,542.00L1088.0,542.15L1086.7,543.10L1085.5,543.10L1083.0,542.77L1079.0,543.05L1077.5,543.10L1077.5,543.10L1076.0,543.02L1075.0,542.72L1074.5,542.54L1073.2,543.10L1070.4,543.10L1069.0,542.51L1068.6,542.58L1067.8,542.67L1067.0,542.68L1066.2,543.10L1066.2,543.10L1065.4,542.61L1064.6,542.60L1063.8,543.10L1063.8,543.10L1063.0,542.78L1062.2,542.96L1061.4,543.13L1060.6,543.26L1059.8,543.28L1059.0,543.19L1058.2,542.99L1055.8,542.25L1055.0,542.13L1054.2,542.12L1053.4,542.20L1052.6,542.33L1051.8,542.46L1051.0,542.55L1050.2,542.57L1049.4,542.54L1048.6,542.48L1047.0,542.48L1046.2,542.60L1045.4,542.78L1044.6,543.00L1042.2,543.33L1040.6,543.00L1039.8,542.74L1039.0,542.49L1038.2,542.31L1037.4,542.23L1036.6,542.24L1035.8,542.32L1035.0,542.42L1034.2,542.49L1033.4,542.51L1032.6,542.47L1031.8,542.39L1031.0,542.33L1030.2,542.31L1027.0,543.03L1026.2,543.23L1025.4,543.34L1024.6,543.33L1023.0,542.98L1021.4,542.54L1020.6,542.40L1019.0,542.39L1018.2,542.46L1017.4,542.51L1016.6,542.52L1015.8,542.47L1015.0,542.37L1014.2,542.26L1013.4,542.19L1012.6,542.20L1011.8,542.31L1011.0,542.51L1010.2,542.78L1009.4,543.03L1008.6,543.23L1007.8,543.32L1007.0,543.29L1006.2,543.15L1003.8,542.60L1003.0,542.52L1001.4,542.55L1000.6,542.60L999.8,542.61L999.0,542.55L998.2,542.43L997.4,542.28L996.6,542.15L995.8,542.08L995.0,542.11L994.2,542.26L993.4,542.49L992.6,542.77L991.8,543.02L991.0,543.20L990.2,543.26L989.4,543.21L988.6,543.08L987.8,542.91L987.0,542.76L986.2,542.67L985.4,542.64L984.6,542.67L983.8,542.72L983.0,542.74L982.2,542.69L981.4,542.57L980.6,542.40L979.8,542.21L979.0,542.06L978.2,542.00L977.4,542.06L976.6,542.23L975.8,542.48L975.0,542.75L973.4,543.13L972.6,543.17L971.8,543.11L969.4,542.77L968.6,542.75L967.8,542.78L967.0,542.83L966.2,542.88L965.4,542.86L964.6,542.77L963.8,542.59L962.2,542.15L961.4,542.00L960.6,541.96L959.8,542.04L959.0,542.23L958.2,542.48L957.4,542.73L956.6,542.92L955.8,543.03L955.0,543.04L951.0,542.83L949.4,542.99L948.6,543.02L947.8,542.97L947.0,542.83L946.2,542.60L945.4,542.35L944.6,542.12L942.2,542.06L941.4,542.25L940.6,542.48L939.8,542.69L939.0,542.84L937.4,542.89L936.6,542.83L935.8,542.78L935.0,542.76L934.2,542.81L933.4,542.91L932.6,543.03L931.8,543.12L931.0,543.14L930.2,543.06L929.4,542.87L928.6,542.61L927.8,542.35L924.6,542.11L923.8,542.29L923.0,542.49L922.2,542.65L921.4,542.74L920.6,542.76L919.8,542.73L919.0,542.68L918.2,542.67L917.4,542.71L916.6,542.83L915.8,542.98L915.0,543.14L914.2,543.23L913.4,543.23L912.6,543.11L911.8,542.90L911.0,542.63L910.2,542.36L909.4,542.16L908.6,542.06L907.0,542.19L906.2,542.35L905.4,542.50L904.6,542.60L903.8,542.63L903.0,542.61L902.2,542.56L901.4,542.53L900.6,542.56L899.8,542.67L899.0,542.85L898.2,543.05L897.4,543.22L896.6,543.31L895.8,543.28L895.0,543.14L894.2,542.91L893.4,542.64L892.6,542.39L891.8,542.22L891.0,542.16L890.2,542.19L889.4,542.29L888.6,542.41L887.8,542.50L887.0,542.54L886.2,542.51L885.4,542.45L884.6,542.40L883.0,542.48L882.2,542.64L881.4,542.86L880.6,543.09L879.8,543.27L879.0,543.35L878.2,543.30L877.4,543.14L876.6,542.91L875.8,542.65L875.0,542.44L874.2,542.32L872.6,542.33L871.8,542.41L870.2,542.51L869.4,542.48L868.6,542.39L867.8,542.30L867.0,542.25L866.2,542.28L865.4,542.40L864.6,542.61L863.8,542.87L863.0,543.11L862.2,543.28L861.4,543.34L860.6,543.28L859.8,543.11L859.0,542.89L858.2,542.68L857.4,542.51L856.6,542.43L855.8,542.43L855.0,542.48L854.2,542.54L853.4,542.56L851.8,542.41L851.0,542.28L850.2,542.17L849.4,542.13L848.6,542.19L847.8,542.35L843.8,543.30L843.0,543.22L842.2,543.06L841.4,542.87L840.6,542.70L839.8,542.60L837.4,542.64L836.6,542.66L835.8,542.62L835.0,542.52L834.2,542.36L833.4,542.19L832.6,542.07L831.0,542.13L830.2,542.32L829.4,542.58L828.6,542.85L827.8,543.08L826.2,543.22L825.4,543.13L823.8,542.84L823.0,543.10L823.0,543.10L822.2,542.69L821.4,542.71L820.6,542.76L819.8,542.80L819.0,542.78L818.2,542.68L817.4,542.51L816.6,542.31L814.2,541.99L813.4,542.10L812.6,542.31L811.8,542.57L811.0,542.83L810.2,543.02L809.4,543.11L808.6,543.10L804.6,542.80L803.8,542.86L803.0,542.92L802.2,542.94L801.4,542.88L800.6,542.73L799.8,542.51L799.0,542.28L798.2,542.07L797.4,541.96L796.6,541.97L795.8,542.10L795.0,542.32L794.2,542.56L793.4,542.78L792.6,542.93L791.8,542.99L791.0,542.96L790.2,542.89L789.4,542.82L788.6,542.79L787.8,542.82L785.4,543.07L784.6,543.07L783.8,542.96L783.0,542.77L782.2,542.52L781.4,542.26L780.6,542.06L779.8,541.97L779.0,542.00L777.4,542.34L776.6,542.56L775.8,542.73L775.0,542.83L774.2,542.84L773.4,542.80L772.6,542.75L771.8,542.73L770.2,542.86L769.4,542.99L768.6,543.12L767.8,543.19L767.0,543.16L766.2,543.02L763.0,542.08L762.2,542.01L761.4,542.06L760.6,542.20L759.8,542.38L759.0,542.55L758.2,542.66L757.4,542.70L756.6,542.68L755.8,542.64L755.0,542.61L754.2,542.64L753.4,542.74L751.8,543.07L751.0,543.22L750.2,543.28L749.4,543.23L748.6,543.06L747.8,542.81L747.0,543.10L747.0,543.10L746.2,542.30L745.4,543.10L745.4,543.10L744.6,542.10L743.8,543.10L743.8,543.10L743.0,542.28L742.2,542.42L741.4,542.53L740.6,542.58L739.8,542.57L739.0,542.52L738.2,542.48L735.8,542.72L735.0,542.93L734.2,543.14L732.6,543.33L731.8,543.26L731.0,543.07L730.2,542.82L729.4,542.56L728.6,542.35L727.8,542.23L724.6,542.47L723.8,542.52L723.0,542.50L720.6,542.33L719.8,542.37L719.0,542.50L718.2,542.71L717.4,542.95L716.6,543.17L715.8,543.32L715.0,543.34L714.2,543.25L712.6,542.82L711.8,542.59L711.0,542.42L710.2,542.35L709.4,542.36L708.6,542.42L707.8,542.49L707.0,542.52L704.6,542.31L703.8,542.22L703.0,542.20L702.2,542.27L701.4,542.45L700.6,542.70L699.8,542.96L699.0,543.18L695.8,543.02L695.0,542.81L694.2,542.63L693.4,542.52L692.6,542.49L691.8,542.52L691.0,542.57L690.2,542.60L689.4,542.57L688.6,542.48L687.8,542.34L687.0,542.19L686.2,542.10L685.4,542.10L684.6,542.21L683.8,542.42L683.0,542.69L682.2,542.95L681.4,543.16L680.6,543.26L676.6,542.68L675.8,542.63L675.0,542.64L674.2,542.68L673.4,542.72L672.6,542.70L671.8,542.61L671.0,542.45L670.2,542.27L669.4,542.10L668.6,542.01L667.8,542.03L667.0,542.17L666.2,542.40L665.4,542.67L663.8,543.11L663.0,543.18L662.2,543.15L661.4,543.04L659.0,542.74L658.2,542.75L657.4,542.80L656.6,542.85L655.8,542.86L655.0,542.79L654.2,542.64L653.4,542.44L652.6,542.22L651.0,541.96L650.2,542.00L649.4,542.16L648.6,542.40L647.0,542.88L646.2,543.02L645.4,543.06L644.6,543.02L643.8,542.93L643.0,542.84L642.2,542.79L641.4,542.80L640.6,542.87L639.8,542.95L639.0,543.00L638.2,542.98L633.4,541.95L631.8,542.18L630.2,542.64L629.4,542.82L628.6,542.91L627.8,542.92L627.0,542.87L626.2,542.81L625.4,542.77L623.0,542.98L622.2,543.09L621.4,543.13L620.6,543.08L619.8,542.93L619.0,542.69L618.2,542.42L617.4,542.18L616.6,542.02L615.8,541.98L615.0,542.06L614.2,542.22L613.4,542.43L612.6,542.61L611.8,542.73L611.0,542.78L610.2,542.76L609.4,542.71L608.6,542.68L607.8,542.70L606.2,542.93L605.4,543.08L604.6,543.20L603.8,543.23L603.0,543.15L602.2,542.97L601.4,542.71L600.6,542.43L599.8,542.20L599.0,542.07L597.4,542.14L596.6,542.29L595.8,542.45L595.0,542.58L594.2,542.64L593.4,542.64L592.6,542.60L591.8,542.56L591.0,542.56L590.2,542.64L589.4,542.79L588.6,542.98L587.8,543.16L587.0,543.28L586.2,543.30L585.4,543.19L584.6,542.98L583.8,542.72L582.2,542.26L581.4,542.15L580.6,542.16L579.8,542.24L579.0,542.37L578.2,542.48L577.4,542.54L576.6,542.54L575.8,542.49L575.0,542.43L574.2,542.41L573.4,542.45L572.6,542.59L571.8,542.79L569.4,543.33L568.6,543.33L567.8,543.20L567.0,542.98L566.2,542.73L565.4,542.49L564.6,542.33L563.8,542.27L563.0,542.29L562.2,542.37L561.4,542.45L560.6,542.51L559.8,542.50L559.0,542.43L558.2,542.35L557.4,542.28L556.6,542.28L555.8,542.37L555.0,542.55L554.2,542.79L553.4,543.04L552.6,543.24L551.8,543.34L551.0,543.31L548.6,542.74L547.8,542.55L547.0,542.43L546.2,542.41L545.4,542.44L544.6,542.50L543.8,542.54L543.0,542.53L542.2,542.45L541.4,542.34L540.6,542.22L539.0,542.17L538.2,542.30L537.4,542.52L535.8,543.04L535.0,543.23L534.2,543.31L533.4,543.26L532.6,543.12L531.8,542.93L531.0,542.75L530.2,542.61L529.4,542.55L528.6,542.56L527.8,542.61L527.0,542.64L524.6,542.41L523.8,542.25L523.0,542.11L522.2,542.05L519.8,542.50L519.0,542.78L518.2,543.02L517.4,543.19L516.6,543.24L515.8,543.18L515.0,543.05L514.2,542.89L513.4,542.76L512.6,542.69L511.8,542.68L511.0,542.73L509.4,542.78L508.6,542.71L507.8,542.57L507.0,542.38L506.2,542.18L505.4,542.03L504.6,541.98L503.8,542.05L503.0,542.24L502.2,542.49L501.4,542.76L500.6,542.98L499.8,543.11L499.0,543.13L498.2,543.06L495.8,542.78L495.0,542.77L494.2,542.82L492.6,542.92L491.8,542.90L491.0,542.78L490.2,542.58L489.4,542.35L487.0,541.96L483.8,542.73L483.0,542.91L482.2,543.00L481.4,542.99L480.6,542.93L479.8,542.85L479.0,542.79L478.2,542.80L477.4,542.86L476.6,542.95L475.8,543.04L475.0,543.06L474.2,542.99L473.4,542.83L472.6,542.59L471.8,542.33L471.0,542.11L470.2,541.98L469.4,541.97L468.6,542.08L467.8,542.27L466.2,542.69L465.4,542.82L464.6,542.86L463.8,542.84L463.0,542.78L461.4,542.75L460.6,542.82L459.8,542.94L459.0,543.07L458.2,543.16L456.6,543.07L455.8,542.87L455.0,542.60L454.2,542.34L453.4,542.12L452.6,542.01L451.8,542.03L451.0,542.14L450.2,542.32L449.4,542.50L448.6,542.64L447.0,542.71L446.2,542.67L445.4,542.63L444.6,542.64L443.8,542.71L443.0,542.84L442.2,543.01L441.4,543.17L438.2,542.89L437.4,542.62L436.6,542.36L435.8,542.17L435.0,542.09L434.2,542.12L433.4,542.23L432.6,542.37L431.8,542.50L431.0,542.58L427.0,542.54L426.2,542.67L425.4,542.86L424.6,543.07L423.8,543.24L423.0,543.33L422.2,543.29L421.4,543.13L420.6,542.90L419.0,542.40L418.2,542.24L417.4,542.19L416.6,542.24L415.8,542.33L415.0,542.44L414.2,542.51L413.4,542.52L412.6,542.47L411.8,542.40L411.0,542.35L410.2,542.36L409.4,542.46L407.8,542.88L407.0,543.11L406.2,543.28L405.4,543.35L404.6,543.29L403.8,543.12L403.0,542.89L402.2,542.65L401.4,542.46L400.6,542.35L399.8,542.33L399.0,542.38L398.2,542.45L397.4,542.51L396.6,542.51L395.0,542.35L394.2,542.26L393.4,542.21L391.8,542.39L391.0,542.62L390.2,542.88L389.4,543.12L388.6,543.29L387.8,543.33L387.0,543.26L386.2,543.09L385.4,542.87L384.6,542.67L383.8,542.53L380.6,542.58L379.8,542.58L379.0,542.51L378.2,542.39L377.4,542.25L376.6,542.13L375.8,542.10L374.2,542.35L373.4,542.60L372.6,542.88L371.8,543.11L371.0,543.25L369.4,543.19L368.6,543.03L367.8,542.85L367.0,542.71L366.2,542.62L365.4,542.61L364.6,542.65L363.8,542.69L362.2,542.64L361.4,542.51L360.6,542.33L359.8,542.16L358.2,542.02L356.6,542.33L355.8,542.59L355.0,542.86L354.2,543.07L353.4,543.18L352.6,543.18L351.8,543.09L351.0,542.96L349.4,542.74L348.6,542.73L347.8,542.76L347.0,542.82L346.2,542.84L345.4,542.81L344.6,542.69L343.8,542.50L343.0,542.29L342.2,542.09L341.4,541.98L340.6,541.98L339.8,542.10L339.0,542.32L337.4,542.83L336.6,543.00L335.8,543.08L335.0,543.06L334.2,542.97L333.4,542.87L331.8,542.79L331.0,542.83L330.2,542.91L329.4,542.97L324.6,542.06L323.8,541.96L323.0,541.98L322.2,542.12L321.4,542.33L320.6,542.57L319.8,542.78L319.0,542.91L318.2,542.94L317.4,542.91L316.6,542.84L315.0,542.78L314.2,542.83L313.4,542.93L312.6,543.04L311.8,543.11L311.0,543.10L310.2,542.98L309.4,542.77L308.6,542.50L307.8,542.25L307.0,542.06L306.2,541.98L305.4,542.02L304.6,542.16L302.2,542.71L301.4,542.79L300.6,542.79L295.0,543.16L292.6,543.03L291.8,542.79L291.0,542.51L290.2,542.26L289.4,542.09L288.6,542.04L287.8,542.09L286.2,542.40L285.4,542.55L284.6,542.64L283.8,542.66L283.0,542.63L282.2,542.58L281.4,542.57L279.0,542.92L278.2,543.11L277.4,543.25L276.6,543.30L275.8,543.23L274.2,542.80L273.4,542.53Z" fill="#0000ff" stroke="#00008b" stroke-width="0.75" stroke-linejoin="round"/>
<path d="M259.1,387.2 H271 V543.4 H259.1" fill="none" stroke="#4d4d4d" stroke-width="1.2"/>
<text transform="translate(251.90,389.70) scale(1,1.060)" font-size="12" text-anchor="end">56</text>
<text transform="translate(251.90,546.70) scale(1,1.060)" font-size="12" text-anchor="end">0</text>
<text transform="translate(73.30,471.10) scale(1,1.060)" font-size="23.6">GSM1670895</text>
<path d="M271.0,716.7L271.0,688.3L271.2,688.3L271.3,716.7L271.3,645.7L271.8,645.7L271.8,716.7L271.9,645.7L272.3,645.7L272.4,716.7L272.4,659.9L273.4,659.9L273.5,716.7L273.5,688.3L273.8,688.3L274.3,702.5L275.6,702.5L275.7,716.7L275.7,702.5L277.1,674.1L278.2,702.5L278.4,702.5L278.4,716.7L278.5,688.3L278.9,688.3L279.0,716.7L279.0,688.3L279.8,688.3L280.4,645.7L280.9,645.7L281.5,688.3L281.7,688.3L281.7,716.7L281.8,688.3L282.6,688.3L283.7,659.9L284.2,688.3L285.5,688.3L285.6,716.7L285.6,688.3L286.1,688.3L286.1,716.7L286.2,688.3L286.4,688.3L287.0,702.5L287.5,674.1L287.7,674.1L287.8,716.7L287.8,674.1L288.6,688.3L289.2,702.5L289.7,645.7L291.9,674.1L292.1,674.1L292.2,716.7L292.2,674.1L292.5,674.1L293.0,702.5L294.1,674.1L294.3,674.1L294.4,716.7L294.4,674.1L295.8,674.1L296.9,617.3L298.0,659.9L298.2,659.9L298.2,716.7L298.3,659.9L298.5,659.9L299.1,688.3L299.8,688.3L299.9,716.7L299.9,688.3L301.3,674.1L301.8,702.5L302.4,688.3L304.6,702.5L305.1,702.5L305.7,659.9L305.9,659.9L305.9,716.7L306.0,674.1L306.4,674.1L306.5,716.7L306.5,688.3L307.0,688.3L307.0,716.7L307.1,688.3L307.9,688.3L309.0,702.5L309.5,710.1L310.1,702.5L311.7,688.3L312.3,674.1L313.4,702.5L313.9,674.1L314.1,674.1L314.2,716.7L314.2,674.1L315.0,702.5L315.2,702.5L315.3,716.7L315.3,674.1L316.3,674.1L316.4,716.7L316.4,702.5L318.3,702.5L320.0,688.3L320.7,688.3L320.8,716.7L320.8,702.5L321.1,702.5L321.6,659.9L322.4,659.9L322.4,716.7L322.5,674.1L322.9,674.1L328.1,713.2L330.7,688.3L332.1,688.3L332.6,659.9L333.2,688.3L334.3,688.3L335.4,659.9L335.9,659.9L336.5,688.3L338.1,688.3L338.7,702.5L340.0,702.5L340.0,716.7L340.1,702.5L341.1,702.5L341.1,716.7L341.2,702.5L341.6,702.5L341.7,716.7L341.7,702.5L342.2,702.5L342.2,716.7L342.3,702.5L343.3,702.5L343.3,716.7L343.4,702.5L348.6,702.5L349.1,674.1L349.7,702.5L349.9,702.5L349.9,716.7L350.0,708.7L350.2,708.7L350.8,674.1L351.9,674.1L352.4,688.3L354.1,688.3L354.6,645.7L355.2,645.7L355.7,659.9L355.9,659.9L356.0,716.7L356.0,674.1L356.3,674.1L356.8,688.3L357.0,688.3L357.1,716.7L357.1,702.5L357.6,688.3L362.0,713.9L364.5,702.5L365.1,702.5L366.7,659.9L367.5,659.9L367.5,716.7L367.6,674.1L368.4,702.5L368.6,702.5L368.6,716.7L368.7,702.5L369.1,702.5L369.2,716.7L369.2,688.3L370.0,688.3L370.6,702.5L371.1,702.5L371.7,712.4L372.2,688.3L372.8,702.5L373.9,702.5L375.0,688.3L375.2,688.3L375.2,716.7L375.3,674.1L376.1,674.1L376.6,645.7L377.2,688.3L380.1,688.3L380.2,716.7L380.2,688.3L381.0,688.3L381.6,674.1L381.8,674.1L381.8,716.7L381.9,674.1L382.7,688.3L383.2,702.5L384.5,702.5L384.6,716.7L384.6,702.5L386.2,702.5L386.2,716.7L386.3,702.5L386.7,702.5L386.8,716.7L386.8,702.5L387.8,702.5L387.9,716.7L387.9,702.5L390.0,702.5L390.1,716.7L390.1,702.5L392.2,702.5L392.3,716.7L392.3,702.5L394.2,702.5L394.8,707.4L395.0,707.4L395.0,716.7L395.1,674.1L396.1,674.1L396.1,716.7L396.2,674.1L397.0,688.3L398.6,688.3L399.2,702.5L399.4,702.5L399.4,716.7L399.5,702.5L399.9,702.5L400.0,716.7L400.0,688.3L400.3,688.3L400.8,702.5L401.4,659.9L401.9,659.9L402.5,674.1L403.0,702.5L403.6,688.3L404.3,688.3L404.4,716.7L404.4,674.1L405.2,645.7L405.4,645.7L405.5,716.7L405.5,688.3L407.1,688.3L407.1,716.7L407.2,688.3L407.6,688.3L407.7,716.7L407.7,702.5L409.3,702.5L409.3,716.7L409.4,702.5L409.6,702.5L410.2,688.3L412.4,688.3L412.9,674.1L413.1,674.1L413.2,716.7L413.2,688.3L413.7,688.3L413.7,716.7L413.8,688.3L415.9,688.3L415.9,716.7L416.0,702.5L416.2,702.5L416.8,674.1L417.3,631.5L417.9,688.3L418.1,688.3L418.1,716.7L418.2,659.9L418.6,659.9L418.7,716.7L418.7,674.1L420.1,688.3L421.2,702.5L422.3,688.3L422.8,674.1L423.0,674.1L423.1,716.7L423.1,688.3L423.4,688.3L424.5,702.5L425.0,702.5L425.6,688.3L426.1,688.3L427.2,659.9L427.8,688.3L428.3,688.3L428.9,659.9L429.4,659.9L430.0,702.5L430.5,688.3L430.7,688.3L430.8,716.7L430.8,688.3L432.2,674.1L433.3,659.9L433.8,560.5L434.4,674.1L434.6,674.1L434.6,716.7L434.7,659.9L435.5,659.9L436.0,674.1L436.8,674.1L436.8,716.7L436.9,688.3L437.1,688.3L437.7,645.7L438.2,645.7L438.8,688.3L439.3,659.9L439.5,659.9L439.6,716.7L439.6,674.1L439.9,674.1L440.4,631.5L441.0,674.1L441.5,688.3L442.8,688.3L442.9,716.7L442.9,688.3L443.4,688.3L443.4,716.7L443.5,659.9L443.9,659.9L444.0,716.7L444.0,688.3L444.8,688.3L445.4,674.1L446.5,702.5L447.0,702.5L447.6,674.1L448.1,702.5L448.7,688.3L449.2,688.3L449.8,659.9L450.3,688.3L450.5,688.3L450.6,716.7L450.6,688.3L452.5,688.3L453.1,659.9L453.8,659.9L453.9,716.7L453.9,688.3L455.3,688.3L455.8,674.1L456.9,704.9L457.5,710.2L458.0,702.5L459.1,702.5L459.7,674.1L459.9,674.1L459.9,716.7L460.0,674.1L462.4,702.5L463.0,702.5L463.5,709.5L463.7,709.5L463.8,716.7L463.8,702.5L464.3,702.5L464.3,716.7L464.4,702.5L465.2,702.5L465.7,674.1L467.4,702.5L468.7,702.5L468.7,716.7L468.8,702.5L472.0,702.5L472.0,716.7L472.1,688.3L472.9,674.1L474.0,702.5L474.5,688.3L474.7,688.3L474.8,716.7L474.8,688.3L475.3,688.3L475.3,716.7L475.4,688.3L475.6,688.3L476.2,645.7L476.7,674.1L477.3,688.3L478.0,688.3L478.1,716.7L478.1,688.3L478.4,688.3L478.9,674.1L479.1,674.1L479.2,716.7L479.2,702.5L479.7,702.5L479.7,716.7L479.8,702.5L480.6,674.1L481.9,674.1L481.9,716.7L482.0,688.3L482.2,688.3L482.8,702.5L486.8,702.5L486.9,716.7L486.9,702.5L487.7,702.5L489.4,674.1L489.6,674.1L489.6,716.7L489.7,674.1L490.5,659.9L491.0,659.9L491.6,702.5L492.7,674.1L493.2,702.5L493.8,702.5L494.3,688.3L494.5,688.3L494.6,716.7L494.6,674.1L495.6,674.1L495.7,716.7L495.7,674.1L496.5,688.3L497.1,702.5L497.6,659.9L497.8,659.9L497.9,716.7L497.9,659.9L498.2,659.9L498.7,688.3L499.3,688.3L500.9,659.9L501.5,674.1L502.2,674.1L502.3,716.7L502.3,688.3L502.6,688.3L503.7,659.9L504.4,659.9L504.5,716.7L504.5,702.5L504.8,702.5L506.4,659.9L506.6,659.9L506.7,716.7L506.7,659.9L507.0,659.9L507.5,645.7L508.1,688.3L508.6,702.5L509.2,688.3L509.9,688.3L510.0,716.7L510.0,674.1L510.3,674.1L510.8,702.5L511.0,702.5L511.1,716.7L511.1,674.1L512.5,674.1L516.8,712.4L519.4,688.3L520.2,702.5L520.7,702.5L521.3,707.0L521.5,707.0L521.5,716.7L521.6,702.5L522.0,702.5L522.1,716.7L522.1,702.5L522.4,702.5L522.9,688.3L523.1,688.3L523.2,716.7L523.2,688.3L524.8,688.3L524.8,716.7L524.9,688.3L525.1,688.3L525.7,659.9L526.2,659.9L527.3,702.5L527.9,702.5L528.4,688.3L531.7,688.3L532.3,702.5L532.5,702.5L532.5,716.7L532.6,674.1L533.0,674.1L533.1,716.7L533.1,674.1L533.6,674.1L533.6,716.7L533.7,688.3L535.6,688.3L537.2,702.5L537.8,659.9L538.5,659.9L538.6,716.7L538.6,688.3L539.4,702.5L540.5,674.1L541.1,702.5L541.3,702.5L541.3,716.7L541.4,707.1L541.8,707.1L541.9,716.7L541.9,674.1L542.2,674.1L542.7,688.3L542.9,688.3L543.0,716.7L543.0,688.3L543.8,704.7L544.6,688.3L546.3,711.0L548.0,702.5L549.3,645.7L549.9,688.3L550.6,688.3L550.7,716.7L550.7,688.3L551.2,688.3L551.2,716.7L551.3,688.3L553.9,688.3L554.0,716.7L554.0,674.1L554.5,674.1L554.5,716.7L554.6,688.3L554.8,688.3L555.4,702.5L557.2,702.5L557.3,716.7L557.3,702.5L558.3,702.5L558.4,716.7L558.4,709.4L558.7,709.4L559.8,702.5L560.9,688.3L561.4,659.9L561.6,659.9L561.7,716.7L561.7,688.3L563.6,674.1L563.8,674.1L563.9,716.7L563.9,674.1L564.2,674.1L564.7,631.5L564.9,631.5L565.0,716.7L565.0,674.1L565.8,688.3L566.4,674.1L566.9,688.3L567.1,688.3L567.2,716.7L567.2,688.3L567.5,688.3L568.0,645.7L568.6,674.1L569.1,674.1L570.2,702.5L570.4,702.5L570.5,716.7L570.5,659.9L570.8,659.9L571.3,702.5L571.5,702.5L571.6,716.7L571.6,688.3L574.3,688.3L574.3,716.7L574.4,688.3L575.1,702.5L575.4,702.5L575.4,716.7L575.5,702.5L575.9,702.5L576.0,716.7L576.0,702.5L578.7,702.5L578.7,716.7L578.8,702.5L579.2,702.5L579.3,716.7L579.3,702.5L579.8,702.5L579.8,716.7L579.9,688.3L580.3,688.3L580.4,716.7L580.4,688.3L580.9,688.3L580.9,716.7L581.0,688.3L581.9,688.3L584.5,712.4L586.2,702.5L587.2,688.3L587.5,688.3L587.5,716.7L587.6,688.3L588.6,688.3L588.6,716.7L588.7,631.5L589.4,631.5L590.0,688.3L591.6,688.3L592.2,702.5L593.0,702.5L593.0,716.7L593.1,702.5L595.7,702.5L595.8,716.7L595.8,688.3L596.0,688.3L596.6,702.5L597.9,702.5L598.0,716.7L598.0,702.5L599.6,702.5L599.6,716.7L599.7,706.6L599.9,706.6L600.4,702.5L600.7,702.5L600.7,716.7L600.8,688.3L601.2,688.3L601.3,716.7L601.3,709.6L601.5,709.6L602.1,688.3L602.9,688.3L602.9,716.7L603.0,688.3L603.7,674.1L604.3,645.7L604.8,645.7L605.4,688.3L605.9,659.9L607.0,702.5L607.6,688.3L607.8,688.3L607.9,716.7L607.9,688.3L609.5,688.3L609.5,716.7L609.6,674.1L610.6,674.1L610.6,716.7L610.7,674.1L610.9,674.1L611.4,659.9L612.2,659.9L612.3,716.7L612.3,688.3L613.1,688.3L613.6,674.1L614.7,688.3L616.4,688.3L616.9,674.1L618.0,688.3L618.8,688.3L618.9,716.7L618.9,702.5L619.1,702.5L619.7,645.7L620.2,688.3L620.5,688.3L620.5,716.7L620.6,674.1L621.0,674.1L621.1,716.7L621.1,688.3L622.7,688.3L622.7,716.7L622.8,688.3L623.0,688.3L624.1,674.1L624.9,674.1L624.9,716.7L625.0,674.1L625.2,674.1L625.7,702.5L626.8,645.7L627.4,645.7L628.5,688.3L629.0,702.5L629.6,688.3L631.8,688.3L632.9,702.5L633.1,702.5L633.2,716.7L633.2,702.5L634.5,674.1L634.8,674.1L634.8,716.7L634.9,707.1L635.1,707.1L635.6,688.3L635.9,688.3L635.9,716.7L636.0,688.3L636.4,688.3L636.5,716.7L636.5,688.3L637.0,688.3L637.0,716.7L637.1,688.3L637.3,688.3L638.4,702.5L638.9,702.5L639.5,688.3L640.0,645.7L640.6,688.3L641.7,688.3L643.5,711.0L645.2,702.5L646.1,688.3L646.3,688.3L646.4,716.7L646.4,688.3L646.6,688.3L647.2,659.9L648.3,688.3L649.1,688.3L649.1,716.7L649.2,688.3L649.4,688.3L649.9,659.9L651.0,688.3L652.7,688.3L653.8,702.5L654.9,702.5L655.4,707.7L656.0,702.5L656.5,674.1L657.6,688.3L657.9,688.3L657.9,716.7L658.0,702.5L658.2,702.5L658.7,674.1L659.3,674.1L659.8,702.5L660.4,645.7L660.9,688.3L661.2,688.3L661.2,716.7L661.3,659.9L661.5,659.9L662.0,688.3L662.6,688.3L663.1,702.5L664.8,659.9L665.0,659.9L665.1,716.7L665.1,702.5L665.3,702.5L666.4,688.3L666.7,688.3L666.7,716.7L666.8,688.3L667.2,688.3L667.3,716.7L667.3,659.9L667.5,659.9L668.1,645.7L668.3,645.7L668.4,716.7L668.4,688.3L669.7,688.3L670.3,702.5L670.8,688.3L671.1,688.3L671.1,716.7L671.2,688.3L673.6,688.3L674.1,702.5L674.7,702.5L675.8,659.9L676.3,688.3L677.1,688.3L677.2,716.7L677.2,688.3L678.8,688.3L678.8,716.7L678.9,631.5L679.1,631.5L679.6,659.9L679.9,659.9L679.9,716.7L680.0,688.3L681.5,688.3L681.6,716.7L681.6,688.3L682.1,688.3L682.1,716.7L682.2,702.5L682.6,702.5L682.7,716.7L682.7,674.1L683.7,674.1L683.8,716.7L683.8,702.5L684.3,702.5L684.3,716.7L684.4,702.5L686.5,702.5L686.5,716.7L686.6,702.5L686.8,702.5L687.3,674.1L687.6,674.1L687.6,716.7L687.7,702.5L687.9,702.5L689.0,688.3L689.5,688.3L690.6,659.9L691.2,674.1L691.7,674.1L692.3,688.3L693.4,674.1L693.6,674.1L693.7,716.7L693.7,702.5L693.9,702.5L695.6,688.3L695.8,688.3L695.9,716.7L695.9,688.3L696.4,688.3L696.4,716.7L696.5,688.3L696.7,688.3L697.2,674.1L697.8,688.3L698.3,688.3L698.9,674.1L701.1,688.3L701.3,688.3L701.4,716.7L701.4,688.3L704.1,688.3L704.1,716.7L704.2,688.3L705.5,645.7L706.6,688.3L706.8,688.3L706.9,716.7L706.9,688.3L707.1,688.3L707.7,702.5L708.2,674.1L708.5,674.1L708.5,716.7L708.6,688.3L709.3,688.3L709.9,659.9L711.0,702.5L712.1,710.1L712.3,710.1L712.4,716.7L712.4,702.5L713.2,688.3L713.7,702.5L714.0,702.5L714.0,716.7L714.1,702.5L714.5,702.5L714.6,716.7L714.6,702.5L715.4,702.5L715.9,706.1L717.0,702.5L717.6,674.1L718.4,674.1L718.4,716.7L718.5,674.1L719.2,707.4L719.5,707.4L719.5,716.7L719.6,702.5L719.8,702.5L720.3,688.3L721.1,688.3L721.2,716.7L721.2,659.9L721.4,659.9L722.5,631.5L722.8,631.5L722.8,716.7L722.9,659.9L724.2,674.1L724.7,631.5L725.3,659.9L725.8,659.9L726.4,688.3L726.6,688.3L726.7,716.7L726.7,688.3L727.5,674.1L728.0,688.3L728.3,688.3L728.3,716.7L728.4,688.3L728.6,688.3L729.1,702.5L729.7,674.1L730.2,688.3L732.1,688.3L732.2,716.7L732.2,702.5L732.7,702.5L732.7,716.7L732.8,688.3L733.2,688.3L733.3,716.7L733.3,688.3L734.1,688.3L735.2,674.1L735.7,659.9L736.5,659.9L736.6,716.7L736.6,659.9L737.4,659.9L737.9,688.3L738.5,688.3L739.0,702.5L739.6,688.3L740.1,702.5L740.4,702.5L740.4,716.7L740.5,688.3L740.9,688.3L741.0,716.7L741.0,659.9L741.2,659.9L742.9,702.5L743.4,702.5L746.2,674.1L746.7,645.7L747.0,645.7L747.0,716.7L747.1,645.7L747.8,659.9L748.9,603.1L750.6,702.5L751.1,674.1L751.7,688.3L752.2,674.1L752.8,688.3L753.0,688.3L753.1,716.7L753.1,688.3L754.7,688.3L754.7,716.7L754.8,702.5L756.1,702.5L756.6,659.9L756.9,659.9L756.9,716.7L757.0,688.3L757.2,688.3L758.3,674.1L758.8,688.3L759.4,688.3L759.9,674.1L760.2,674.1L760.2,716.7L760.3,688.3L761.0,702.5L763.5,702.5L763.5,716.7L763.6,702.5L764.0,702.5L764.1,716.7L764.1,702.5L764.9,706.2L765.4,688.3L765.7,688.3L765.7,716.7L765.8,688.3L766.0,688.3L766.5,702.5L766.8,702.5L766.8,716.7L766.9,674.1L767.3,674.1L767.4,716.7L767.4,674.1L767.9,674.1L767.9,716.7L768.0,674.1L768.2,674.1L769.3,702.5L769.5,702.5L769.6,716.7L769.6,674.1L769.8,674.1L770.9,688.3L771.2,688.3L771.2,716.7L771.3,659.9L771.5,659.9L772.0,688.3L772.6,688.3L773.1,674.1L773.9,674.1L774.0,716.7L774.0,674.1L774.8,674.1L775.3,659.9L776.4,688.3L776.7,688.3L776.7,716.7L776.8,688.3L778.1,688.3L778.6,659.9L779.2,674.1L779.4,674.1L779.5,716.7L779.5,688.3L781.4,688.3L781.9,702.5L782.2,702.5L782.2,716.7L782.3,702.5L783.6,674.1L784.1,674.1L784.7,659.9L784.9,659.9L785.0,716.7L785.0,659.9L785.2,659.9L786.9,688.3L787.7,688.3L787.7,716.7L787.8,674.1L788.0,674.1L789.1,645.7L789.6,674.1L790.4,674.1L790.5,716.7L790.5,674.1L791.0,674.1L791.0,716.7L791.1,688.3L792.1,688.3L792.1,716.7L792.2,688.3L792.4,688.3L793.5,659.9L794.6,688.3L795.1,688.3L795.7,659.9L795.9,659.9L796.0,716.7L796.0,702.5L796.2,702.5L796.8,705.0L797.3,702.5L797.6,702.5L797.6,716.7L797.7,702.5L798.4,702.5L799.0,704.6L799.5,702.5L799.8,702.5L799.8,716.7L799.9,702.5L801.2,702.5L802.3,674.1L803.4,659.9L803.6,659.9L803.7,716.7L803.7,674.1L803.9,674.1L804.5,688.3L805.6,688.3L807.8,702.5L808.3,688.3L808.6,688.3L808.6,716.7L808.7,688.3L809.1,688.3L809.2,716.7L809.2,674.1L809.4,674.1L811.1,702.5L813.0,702.5L813.0,716.7L813.1,702.5L814.6,702.5L814.7,716.7L814.7,702.5L816.0,704.7L816.3,704.7L816.3,716.7L816.4,702.5L816.6,702.5L817.1,674.1L817.4,674.1L817.4,716.7L817.5,674.1L817.9,674.1L818.0,716.7L818.0,688.3L820.1,688.3L820.2,716.7L820.2,688.3L820.7,688.3L820.7,716.7L820.8,688.3L821.0,688.3L821.5,702.5L822.1,659.9L823.2,688.3L824.0,688.3L824.0,716.7L824.1,688.3L824.3,688.3L825.4,659.9L825.9,688.3L826.5,702.5L827.0,702.5L827.6,659.9L828.1,688.3L828.7,702.5L831.7,702.5L831.7,716.7L831.8,702.5L832.0,702.5L832.5,674.1L832.8,674.1L832.8,716.7L832.9,688.3L833.1,688.3L834.2,674.1L835.3,702.5L835.8,702.5L838.6,659.9L838.8,659.9L838.9,716.7L838.9,674.1L841.6,674.1L841.6,716.7L841.7,688.3L842.1,688.3L842.2,716.7L842.2,688.3L842.4,688.3L844.1,702.5L844.9,702.5L844.9,716.7L845.0,702.5L845.7,702.5L846.3,688.3L846.5,688.3L846.6,716.7L846.6,688.3L846.8,688.3L847.4,702.5L850.9,702.5L851.0,716.7L851.0,702.5L852.9,702.5L853.4,688.3L854.8,688.3L854.8,716.7L854.9,702.5L855.1,702.5L855.6,674.1L856.2,702.5L857.0,702.5L857.0,716.7L857.1,674.1L857.5,674.1L857.6,716.7L857.6,688.3L858.4,688.3L859.5,645.7L860.0,688.3L860.6,674.1L861.7,702.5L862.5,702.5L862.5,716.7L862.6,702.5L864.7,702.5L864.7,716.7L864.8,702.5L866.3,702.5L866.4,716.7L866.4,688.3L866.9,688.3L866.9,716.7L867.0,688.3L867.7,707.4L868.8,702.5L869.9,702.5L871.0,659.9L871.6,688.3L872.1,674.1L872.4,674.1L872.4,716.7L872.5,674.1L872.9,674.1L873.0,716.7L873.0,688.3L873.5,688.3L873.5,716.7L873.6,688.3L874.0,688.3L874.1,716.7L874.1,702.5L874.3,702.5L874.9,674.1L875.4,702.5L876.0,702.5L876.5,674.1L877.6,688.3L877.9,688.3L877.9,716.7L878.0,674.1L878.4,674.1L878.5,716.7L878.5,674.1L879.0,674.1L879.0,716.7L879.1,659.9L879.8,659.9L880.4,702.5L880.6,702.5L880.7,716.7L880.7,688.3L880.9,688.3L881.5,674.1L881.7,674.1L881.8,716.7L881.8,674.1L882.6,659.9L882.8,659.9L882.9,716.7L882.9,688.3L883.1,688.3L883.7,674.1L884.2,702.5L884.5,702.5L884.5,716.7L884.6,688.3L887.5,688.3L888.1,674.1L888.6,688.3L888.9,688.3L888.9,716.7L889.0,702.5L891.1,702.5L891.1,716.7L891.2,688.3L891.4,688.3L891.9,702.5L893.0,688.3L894.4,688.3L894.4,716.7L894.5,705.7L894.7,705.7L895.8,688.3L896.3,674.1L897.4,702.5L897.7,702.5L897.7,716.7L897.8,674.1L899.1,674.1L899.6,702.5L900.2,709.8L900.7,702.5L901.0,702.5L901.0,716.7L901.1,702.5L902.4,688.3L902.6,688.3L902.7,716.7L902.7,688.3L904.6,674.1L905.1,659.9L905.4,659.9L905.4,716.7L905.5,659.9L905.7,659.9L906.8,688.3L907.6,688.3L907.6,716.7L907.7,688.3L908.1,688.3L908.2,716.7L908.2,688.3L909.0,702.5L909.2,702.5L909.3,716.7L909.3,688.3L910.1,688.3L911.2,659.9L912.8,702.5L913.6,702.5L913.7,716.7L913.7,702.5L914.5,688.3L914.7,688.3L914.8,716.7L914.8,688.3L915.8,688.3L915.9,716.7L915.9,674.1L916.1,674.1L917.2,645.7L917.8,674.1L918.3,674.1L918.9,659.9L919.1,659.9L919.2,716.7L919.2,659.9L919.7,659.9L919.7,716.7L919.8,688.3L920.2,688.3L920.3,716.7L920.3,688.3L920.8,688.3L920.8,716.7L920.9,702.5L921.3,702.5L921.4,716.7L921.4,688.3L923.3,688.3L924.9,659.9L925.5,645.7L926.0,674.1L927.7,688.3L929.9,702.5L930.4,688.3L931.5,688.3L932.6,631.5L933.2,631.5L933.7,674.1L934.5,674.1L934.6,716.7L934.6,674.1L935.4,674.1L936.5,702.5L936.7,702.5L936.8,716.7L936.8,688.3L937.0,688.3L937.6,674.1L938.1,674.1L938.7,659.9L939.2,688.3L939.8,659.9L940.3,659.9L940.9,674.1L942.0,659.9L942.5,688.3L943.1,659.9L944.2,688.3L944.4,688.3L944.5,716.7L944.5,702.5L945.0,702.5L945.0,716.7L945.1,702.5L945.3,702.5L946.4,709.9L946.9,688.3L947.2,688.3L947.2,716.7L947.3,674.1L948.6,688.3L948.8,688.3L948.9,716.7L948.9,702.5L949.1,702.5L950.2,659.9L950.8,688.3L951.3,674.1L952.1,674.1L952.2,716.7L952.2,659.9L953.0,617.3L953.2,617.3L953.3,716.7L953.3,659.9L953.5,659.9L954.1,702.5L954.6,674.1L955.2,674.1L956.3,688.3L956.8,688.3L957.4,702.5L958.5,709.4L958.7,709.4L958.8,716.7L958.8,702.5L960.1,702.5L961.2,674.1L961.5,674.1L961.5,716.7L961.6,688.3L961.8,688.3L962.9,674.1L963.4,674.1L964.0,688.3L964.2,688.3L964.3,716.7L964.3,659.9L964.8,659.9L964.8,716.7L964.9,688.3L966.2,702.5L966.7,674.1L967.0,674.1L967.0,716.7L967.1,702.5L967.5,702.5L967.6,716.7L967.6,702.5L968.1,702.5L968.1,716.7L968.2,688.3L969.7,688.3L969.8,716.7L969.8,688.3L970.0,688.3L970.6,702.5L970.8,702.5L970.9,716.7L970.9,707.8L971.1,707.8L971.7,702.5L972.3,702.5L975.0,712.4L976.7,702.5L978.5,702.5L978.6,716.7L978.6,702.5L979.9,702.5L980.5,708.8L981.0,702.5L983.5,702.5L983.5,716.7L983.6,688.3L985.1,688.3L985.2,716.7L985.2,645.7L985.4,645.7L986.5,674.1L987.1,674.1L987.6,702.5L989.8,688.3L990.4,659.9L990.6,659.9L990.7,716.7L990.7,688.3L991.5,688.3L992.0,659.9L992.3,659.9L992.3,716.7L992.4,659.9L993.1,702.5L993.7,702.5L995.3,710.3L995.9,702.5L996.4,688.3L996.7,688.3L996.7,716.7L996.8,688.3L997.2,688.3L997.3,716.7L997.3,688.3L998.3,688.3L998.4,716.7L998.4,702.5L998.6,702.5L999.2,631.5L999.7,631.5L1000.3,674.1L1000.8,688.3L1001.4,688.3L1001.9,674.1L1002.2,674.1L1002.2,716.7L1002.3,659.9L1003.3,659.9L1003.3,716.7L1003.4,702.5L1006.0,702.5L1006.1,716.7L1006.1,702.5L1006.3,702.5L1006.9,708.3L1007.4,706.9L1008.0,702.5L1008.2,702.5L1008.3,716.7L1008.3,702.5L1009.6,702.5L1010.2,705.2L1010.7,702.5L1011.8,702.5L1012.4,712.4L1013.3,702.5L1014.8,711.0L1016.0,702.5L1016.8,711.0L1017.3,711.0L1017.8,702.5L1019.2,711.0L1020.5,702.5L1021.2,688.3L1021.7,702.5L1022.3,674.1L1022.8,674.1L1023.4,707.8L1023.9,659.9L1025.0,688.3L1025.3,688.3L1025.3,716.7L1025.4,688.3L1026.4,688.3L1026.4,716.7L1026.5,702.5L1026.9,702.5L1027.0,716.7L1027.0,702.5L1028.0,702.5L1028.1,716.7L1028.1,708.9L1028.3,708.9L1029.4,702.5L1030.5,702.5L1031.1,688.3L1031.3,688.3L1031.4,716.7L1031.4,674.1L1032.7,702.5L1033.0,702.5L1033.0,716.7L1033.1,702.5L1036.3,702.5L1036.3,716.7L1036.4,702.5L1037.1,702.5L1037.7,708.6L1038.2,702.5L1040.7,702.5L1040.7,716.7L1040.8,702.5L1042.9,702.5L1042.9,716.7L1043.0,702.5L1043.2,702.5L1044.3,688.3L1045.9,688.3L1046.5,702.5L1046.7,702.5L1046.8,716.7L1046.8,702.5L1048.9,702.5L1049.0,716.7L1049.0,702.5L1049.8,674.1L1050.3,688.3L1053.3,688.3L1053.4,716.7L1053.4,688.3L1053.9,688.3L1053.9,716.7L1054.0,659.9L1054.4,659.9L1054.5,716.7L1054.5,688.3L1054.7,688.3L1056.4,702.5L1059.7,702.5L1060.2,674.1L1060.8,674.1L1061.3,707.1L1061.9,702.5L1063.0,688.3L1064.1,688.3L1064.6,659.9L1066.3,688.3L1067.4,688.3L1067.9,659.9L1068.2,659.9L1068.2,716.7L1068.3,659.9L1068.7,659.9L1068.8,716.7L1068.8,702.5L1069.3,702.5L1069.3,716.7L1069.4,674.1L1069.8,674.1L1069.9,716.7L1069.9,674.1L1070.1,674.1L1070.7,659.9L1070.9,659.9L1071.0,716.7L1071.0,674.1L1071.2,674.1L1071.8,659.9L1072.6,659.9L1072.6,716.7L1072.7,702.5L1072.9,702.5L1073.4,688.3L1074.5,702.5L1078.6,702.5L1078.7,716.7L1078.7,674.1L1078.9,674.1L1080.0,702.5L1080.3,702.5L1080.3,716.7L1080.4,702.5L1080.6,702.5L1081.1,704.7L1081.7,674.1L1082.8,688.3L1083.3,702.5L1083.6,702.5L1083.6,716.7L1083.7,702.5L1083.9,702.5L1084.4,688.3L1084.7,688.3L1084.7,716.7L1084.8,674.1L1085.5,674.1L1086.1,659.9L1086.6,688.3L1087.2,674.1L1087.4,674.1L1087.5,716.7L1087.5,674.1L1087.7,674.1L1088.3,645.7L1088.8,674.1L1089.1,674.1L1089.1,716.7L1089.2,688.3L1089.9,702.5L1090.5,688.3L1090.7,688.3L1090.8,716.7L1090.8,702.5L1092.1,702.5L1092.7,688.3L1094.0,688.3L1094.1,716.7L1094.1,645.7L1094.3,645.7L1094.9,659.9L1095.4,659.9L1096.0,674.1L1096.5,645.7L1097.1,702.5L1097.6,688.3L1097.9,688.3L1097.9,716.7L1098.0,688.3L1099.0,688.3L1099.0,716.7L1099.1,702.5L1100.4,702.5L1100.9,708.8L1101.5,702.5L1101.7,702.5L1101.8,716.7L1101.8,702.5L1103.4,702.5L1103.4,716.7L1103.5,702.5L1104.5,702.5L1104.5,716.7L1104.6,702.5L1105.0,702.5L1105.1,716.7L1105.1,688.3L1106.4,702.5L1107.8,702.5L1107.8,716.7L1107.9,688.3L1108.1,688.3L1108.6,702.5L1108.9,702.5L1108.9,716.7L1109.0,702.5L1110.0,702.5L1110.0,716.7L1110.1,688.3L1110.5,688.3L1110.6,716.7L1110.6,659.9L1111.4,659.9L1111.9,688.3L1112.2,688.3L1112.2,716.7L1112.3,702.5L1113.0,702.5L1113.6,688.3L1114.7,688.3L1116.3,659.9L1116.6,659.9L1116.6,716.7L1116.7,674.1L1117.5,674.1L1118.6,688.3L1125.5,716.5L1133.3,702.5L1134.0,688.3L1136.4,688.3L1136.4,716.7L1136.5,645.7L1136.7,645.7L1137.2,688.3L1137.8,659.9L1138.3,688.3L1138.6,688.3L1138.6,716.7L1138.7,688.3L1138.9,688.3L1139.4,702.5L1140.0,702.5L1140.5,674.1L1141.1,659.9L1141.6,659.9L1142.7,702.5L1143.0,702.5L1143.0,716.7L1143.1,702.5L1145.2,702.5L1145.2,716.7L1145.3,702.5L1145.5,702.5L1147.1,688.3L1147.7,688.3L1149.3,659.9L1150.4,709.7L1151.0,702.5L1153.2,702.5L1153.7,674.1L1154.0,674.1L1154.0,716.7L1154.1,674.1L1154.5,674.1L1154.6,716.7L1154.6,702.5L1158.1,702.5L1158.7,688.3L1158.9,688.3L1159.0,716.7L1159.0,688.3L1160.3,688.3L1162.5,702.5L1163.1,702.5L1163.6,688.3L1163.9,688.3L1163.9,716.7L1164.0,659.9L1164.2,659.9L1165.3,688.3L1166.4,702.5L1167.5,659.9L1167.7,659.9L1167.8,716.7L1167.8,674.1L1169.1,702.5L1169.4,702.5L1169.4,716.7L1169.5,702.5L1169.9,702.5L1170.0,716.7L1170.0,702.5L1171.0,702.5L1171.1,716.7L1171.1,688.3L1172.1,688.3L1172.2,716.7L1172.2,674.1L1172.4,674.1L1173.0,688.3L1174.1,688.3L1174.6,659.9L1174.9,659.9L1174.9,716.7L1175.0,688.3L1175.2,688.3L1175.7,674.1L1177.4,688.3L1177.9,659.9L1179.6,702.5L1180.4,702.5L1180.4,716.7L1180.5,702.5L1180.9,702.5L1181.0,716.7L1181.0,702.5L1182.7,702.5L1185.4,712.4L1188.0,702.5L1192.8,702.5L1193.3,674.1L1193.9,688.3L1195.8,688.3L1195.8,716.7L1195.9,710.1L1196.1,710.1L1196.6,702.5L1197.2,674.1L1197.4,674.1L1197.5,716.7L1197.5,674.1L1198.0,674.1L1198.0,716.7L1198.1,688.3L1200.2,688.3L1200.2,716.7L1200.3,659.9L1200.5,659.9L1201.0,688.3L1201.8,688.3L1201.9,716.7L1201.9,702.5L1204.3,702.5L1204.9,688.3L1206.0,702.5L1206.2,702.5L1206.3,716.7L1206.3,702.5L1207.9,702.5L1207.9,716.7L1208.0,702.5L1208.2,702.5L1208.7,688.3L1209.3,688.3L1209.8,659.9L1210.4,674.1L1211.5,688.3L1213.1,702.5L1213.4,702.5L1213.4,716.7L1213.5,688.3L1213.7,688.3L1214.8,659.9L1215.3,659.9L1215.9,702.5L1216.1,702.5L1216.2,716.7L1216.2,688.3L1216.7,688.3L1216.7,716.7L1216.8,702.5L1217.8,702.5L1217.8,716.7L1217.9,702.5L1218.9,702.5L1218.9,716.7L1219.0,702.5L1220.5,702.5L1220.6,716.7L1220.6,702.5L1220.8,702.5L1221.4,706.2L1221.9,674.1L1222.7,674.1L1222.8,716.7L1222.8,702.5L1223.6,705.6L1224.1,702.5L1224.7,688.3L1225.8,688.3L1227.4,645.7L1228.2,645.7L1228.3,716.7L1228.3,688.3L1228.5,688.3L1229.1,645.7L1229.3,645.7L1229.4,716.7L1229.4,674.1L1230.2,674.1L1231.3,702.5L1231.5,702.5L1231.6,716.7L1231.6,674.1L1232.9,674.1L1233.5,688.3L1234.0,674.1L1234.6,688.3L1236.2,688.3L1236.8,702.5L1237.0,702.5L1237.1,716.7L1237.1,674.1L1238.7,674.1L1238.7,716.7L1238.8,674.1L1239.0,674.1L1240.6,702.5L1241.2,674.1L1241.4,674.1L1241.5,716.7L1241.5,674.1L1241.7,674.1L1242.3,688.3L1242.5,688.3L1242.6,716.7L1242.6,688.3L1243.4,688.3L1243.9,702.5L1244.2,702.5L1244.2,716.7L1244.3,702.5L1245.3,702.5L1245.3,716.7L1245.4,702.5L1245.8,702.5L1245.9,716.7L1245.9,702.5L1246.4,702.5L1246.4,716.7L1246.5,702.5L1248.3,702.5L1248.9,688.3L1249.1,688.3L1249.2,716.7L1249.2,702.5L1250.5,674.1L1250.8,674.1L1250.8,716.7L1250.9,708.3L1251.1,708.3L1251.6,688.3L1253.3,688.3L1253.8,702.5L1254.4,688.3L1254.9,702.5L1255.2,702.5L1255.2,716.7L1255.3,702.5L1256.6,702.5L1257.7,688.3L1257.9,688.3L1258.0,716.7L1258.0,659.9L1258.2,659.9L1259.9,688.3L1260.1,688.3L1260.2,716.7L1260.2,702.5L1261.5,659.9L1261.8,659.9L1261.8,716.7L1261.9,688.3L1262.6,688.3L1263.2,659.9L1264.3,674.1L1264.8,688.3L1265.4,659.9L1265.6,659.9L1265.7,716.7L1265.7,674.1L1265.9,674.1L1268.1,688.3L1270.0,688.3L1270.1,716.7L1270.1,688.3L1270.3,688.3L1271.4,674.1L1272.0,702.5L1272.5,702.5L1273.6,688.3L1274.2,659.9L1275.0,659.9L1275.0,716.7L1275.1,688.3L1275.5,688.3L1275.6,716.7L1275.6,674.1L1276.4,674.1L1276.9,659.9L1278.0,688.3L1278.8,688.3L1278.9,716.7L1278.9,645.7L1279.1,645.7L1280.2,688.3L1280.5,688.3L1280.5,716.7L1280.6,659.9L1280.8,659.9L1281.9,688.3L1282.4,674.1L1283.0,674.1L1283.5,631.5L1284.6,688.3L1284.9,688.3L1284.9,716.7L1285.0,688.3L1285.2,688.3L1286.3,702.5L1287.4,688.3L1288.5,688.3L1289.0,674.1L1289.6,631.5L1290.4,631.5L1290.4,716.7L1290.5,674.1L1290.9,674.1L1291.0,716.7L1291.0,659.9L1291.8,659.9L1292.3,688.3L1292.9,688.3L1294.0,674.1L1294.5,702.5L1294.8,702.5L1294.8,716.7L1294.9,702.5L1295.1,702.5L1297.3,688.3L1297.8,659.9L1298.1,659.9L1298.1,716.7L1298.2,659.9L1298.9,688.3L1299.5,688.3L1300.0,702.5L1303.5,702.5L1307.6,716.4L1310.0,702.5L1312.0,701.5L1314.0,702.5L1316.3,716.4L1319.5,702.5L1320.6,702.5L1320.7,716.7L1320.7,709.7L1320.9,709.7L1322.0,702.5L1322.6,702.5L1323.1,688.3L1323.4,688.3L1323.4,716.7L1323.5,688.3L1323.9,688.3L1324.0,716.7L1324.0,688.3L1324.2,688.3L1325.3,702.5L1326.4,688.3L1327.0,674.1L1327.2,674.1L1327.3,716.7L1327.3,702.5L1328.6,702.5L1329.2,688.3L1329.7,704.9L1330.8,702.5L1332.2,702.5L1332.2,716.7L1332.3,674.1L1332.7,674.1L1332.8,716.7L1332.8,674.1L1333.6,659.9L1334.7,688.3L1335.5,688.3L1335.5,716.7L1335.6,688.3L1335.8,688.3L1336.3,645.7L1336.9,688.3L1337.1,688.3L1337.2,716.7L1337.2,688.3L1338.5,688.3L1339.1,674.1L1340.7,702.5L1341.8,702.5L1342.4,688.3L1342.9,688.3L1343.5,645.7L1343.7,645.7L1343.8,716.7L1343.8,645.7L1344.0,645.7L1344.5,688.3L1346.5,702.5L1350.0,716.4L1354.0,688.3L1354.5,708.1L1355.0,702.5L1355.6,688.3L1356.4,688.3L1356.4,716.7L1356.5,674.1L1356.9,674.1L1357.0,716.7L1357.0,674.1L1357.5,674.1L1357.5,716.7L1357.6,688.3L1358.3,688.3L1358.9,708.5L1359.4,702.5L1360.0,688.3L1360.8,688.3L1360.8,716.7L1360.9,688.3L1361.1,688.3L1361.6,674.1L1362.2,674.1L1362.7,702.5L1363.0,702.5L1363.0,716.7L1363.1,702.5L1364.1,702.5L1364.1,716.7L1364.2,688.3L1364.9,688.3L1366.0,702.5L1366.3,702.5L1366.3,716.7L1366.4,702.5L1368.8,702.5L1369.3,674.1L1370.1,674.1L1370.2,716.7L1370.2,674.1L1370.4,674.1L1371.0,688.3L1371.2,688.3L1371.3,716.7L1371.3,688.3L1372.1,688.3L1372.6,702.5L1375.1,702.5L1375.1,716.7L1375.2,702.5L1375.4,702.5L1375.9,688.3L1377.0,674.1L1377.6,674.1L1378.7,709.7L1379.2,702.5L1380.9,702.5L1381.4,688.3L1381.7,688.3L1381.7,716.7L1381.8,659.9L1382.2,659.9L1382.3,716.7L1382.3,674.1L1382.8,674.1L1382.8,716.7L1382.9,674.1L1383.9,674.1L1383.9,716.7L1384.0,688.3L1384.2,688.3L1384.7,674.1L1385.3,674.1L1385.8,659.9L1386.6,659.9L1386.7,716.7L1386.7,688.3L1387.5,688.3L1388.0,702.5L1388.3,702.5L1388.3,716.7L1388.4,702.5L1389.1,707.2L1389.7,702.5L1389.9,702.5L1390.0,716.7L1390.0,688.3L1390.5,688.3L1390.5,716.7L1390.6,659.9L1390.8,659.9L1391.3,688.3L1392.1,688.3L1392.2,716.7L1392.2,659.9L1392.4,659.9L1394.1,688.3L1394.3,688.3L1394.4,716.7L1394.4,688.3L1394.6,688.3L1395.2,702.5L1395.4,702.5L1395.5,716.7L1395.5,702.5L1396.5,702.5L1396.6,716.7L1396.6,702.5L1397.6,702.5L1397.7,716.7L1397.7,702.5L1400.9,702.5L1401.0,716.7L1401.0,705.2L1401.2,705.2L1402.3,702.5L1402.9,674.1L1404.2,674.1L1404.3,716.7L1404.3,659.9L1404.5,659.9L1405.1,688.3L1406.2,688.3L1406.7,674.1L1408.9,688.3L1409.5,674.1L1409.7,674.1L1409.8,716.7L1409.8,688.3L1410.6,702.5L1417.2,702.5L1418.3,659.9L1418.5,659.9L1418.6,716.7L1418.6,688.3L1419.4,709.9L1419.6,709.9L1419.7,716.7L1419.7,688.3L1420.2,688.3L1420.2,716.7L1420.3,659.9L1420.7,659.9L1420.8,716.7L1420.8,645.7L1421.0,645.7L1423.2,688.3L1423.2,716.7 Z" fill="#0000ff" stroke="#00008b" stroke-width="0.7" stroke-linejoin="miter" stroke-miterlimit="2"/>
<path d="M259.1,560.8 H271 V717.0 H259.1" fill="none" stroke="#4d4d4d" stroke-width="1.2"/>
<text transform="translate(251.90,564.10) scale(1,1.060)" font-size="12" text-anchor="end">5</text>
<text transform="translate(251.90,720.30) scale(1,1.060)" font-size="12" text-anchor="end">0</text>
<text transform="translate(73.30,644.70) scale(1,1.060)" font-size="23.6">GSM1670894</text>
<text transform="translate(777.00,802.20) scale(1,1.060)" font-size="35.9" text-anchor="middle">DTWD2</text>
<line x1="303" y1="840.4" x2="1281" y2="840.4" stroke="#111" stroke-width="1"/>
<rect x="270.6" y="824.7" width="33.1" height="31.3" fill="#000"/>
<line x1="303.7" y1="809" x2="303.7" y2="871.6" stroke="#000" stroke-width="2.0"/>
<line x1="351.0" y1="809" x2="351.0" y2="871.6" stroke="#000" stroke-width="1.9"/>
<line x1="884.8" y1="809" x2="884.8" y2="871.6" stroke="#000" stroke-width="2.2"/>
<line x1="954.9" y1="809" x2="954.9" y2="871.6" stroke="#000" stroke-width="1.7"/>
<line x1="990.5" y1="809" x2="990.5" y2="871.6" stroke="#000" stroke-width="1.4"/>
<line x1="1280.7" y1="809" x2="1280.7" y2="871.6" stroke="#000" stroke-width="3.0"/>
<path d="M318.2,834.2 L311.7,840.4 L318.2,846.6 M343.0,834.2 L336.5,840.4 L343.0,846.6 M359.5,834.2 L353.0,840.4 L359.5,846.6 M384.4,834.2 L377.9,840.4 L384.4,846.6 M409.3,834.2 L402.8,840.4 L409.3,846.6 M434.2,834.2 L427.7,840.4 L434.2,846.6 M459.1,834.2 L452.6,840.4 L459.1,846.6 M484.0,834.2 L477.5,840.4 L484.0,846.6 M508.9,834.2 L502.4,840.4 L508.9,846.6 M533.8,834.2 L527.3,840.4 L533.8,846.6 M558.7,834.2 L552.2,840.4 L558.7,846.6 M583.6,834.2 L577.1,840.4 L583.6,846.6 M608.5,834.2 L602.0,840.4 L608.5,846.6 M633.4,834.2 L626.9,840.4 L633.4,846.6 M658.3,834.2 L651.8,840.4 L658.3,846.6 M683.2,834.2 L676.7,840.4 L683.2,846.6 M708.1,834.2 L701.6,840.4 L708.1,846.6 M733.0,834.2 L726.5,840.4 L733.0,846.6 M757.9,834.2 L751.4,840.4 L757.9,846.6 M782.8,834.2 L776.3,840.4 L782.8,846.6 M807.7,834.2 L801.2,840.4 L807.7,846.6 M832.6,834.2 L826.1,840.4 L832.6,846.6 M857.5,834.2 L851.0,840.4 L857.5,846.6 M882.4,834.2 L875.9,840.4 L882.4,846.6 M898.1,834.2 L891.6,840.4 L898.1,846.6 M923.1,834.2 L916.6,840.4 L923.1,846.6 M948.1,834.2 L941.6,840.4 L948.1,846.6 M963.1,834.2 L956.6,840.4 L963.1,846.6 M988.0,834.2 L981.5,840.4 L988.0,846.6 M1001.1,834.2 L994.6,840.4 L1001.1,846.6 M1026.1,834.2 L1019.6,840.4 L1026.1,846.6 M1051.0,834.2 L1044.5,840.4 L1051.0,846.6 M1076.0,834.2 L1069.5,840.4 L1076.0,846.6 M1100.9,834.2 L1094.4,840.4 L1100.9,846.6 M1125.9,834.2 L1119.4,840.4 L1125.9,846.6 M1150.8,834.2 L1144.3,840.4 L1150.8,846.6 M1175.8,834.2 L1169.3,840.4 L1175.8,846.6 M1200.7,834.2 L1194.2,840.4 L1200.7,846.6 M1225.7,834.2 L1219.2,840.4 L1225.7,846.6 M1250.6,834.2 L1244.1,840.4 L1250.6,846.6 M1275.6,834.2 L1269.1,840.4 L1275.6,846.6 " fill="none" stroke="#1a1a1a" stroke-width="1"/>
<rect x="270.7" y="884" width="1153" height="18" fill="#000"/>
<text transform="translate(88.30,911.00) scale(1,1.000)" font-size="49.4">chr5</text>
<line x1="296.5" y1="902" x2="296.5" y2="910.7" stroke="#333" stroke-width="1"/>
<line x1="429.2" y1="902" x2="429.2" y2="910.7" stroke="#333" stroke-width="1"/>
<line x1="561.9" y1="902" x2="561.9" y2="910.7" stroke="#333" stroke-width="1"/>
<line x1="694.5" y1="902" x2="694.5" y2="922.4" stroke="#333" stroke-width="1"/>
<line x1="827.2" y1="902" x2="827.2" y2="910.7" stroke="#333" stroke-width="1"/>
<line x1="959.9" y1="902" x2="959.9" y2="910.7" stroke="#333" stroke-width="1"/>
<line x1="1092.6" y1="902" x2="1092.6" y2="910.7" stroke="#333" stroke-width="1"/>
<line x1="1225.3" y1="902" x2="1225.3" y2="910.7" stroke="#333" stroke-width="1"/>
<line x1="1357.9" y1="902" x2="1357.9" y2="922.4" stroke="#333" stroke-width="1"/>
<text transform="translate(695.60,939.10) scale(1,1.060)" font-size="23.7" text-anchor="middle">118.9Mb</text>
<text transform="translate(1358.70,939.10) scale(1,1.060)" font-size="23.7" text-anchor="middle">119Mb</text>
</svg>
</body></html>
